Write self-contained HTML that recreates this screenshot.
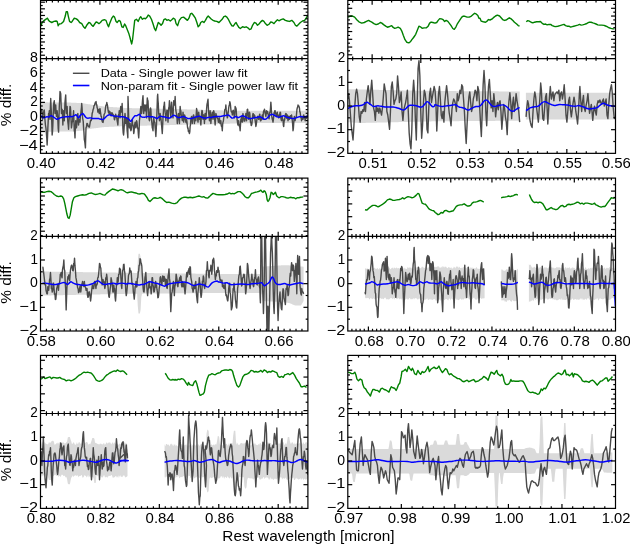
<!DOCTYPE html>
<html><head><meta charset="utf-8"><style>
html,body{margin:0;padding:0;background:#fff;overflow:hidden}
svg{display:block;filter:blur(0.3px)}
text{font-family:"Liberation Sans",sans-serif;fill:#000}
</style></head><body>
<svg width="630" height="544" viewBox="0 0 630 544">
<rect width="630" height="544" fill="#fff"/>
<clipPath id="c0Lu"><rect x="40.5" y="0.4" width="267.4" height="58.25"/></clipPath>
<clipPath id="c0Ll"><rect x="40.5" y="58.65" width="267.4" height="94.69999999999999"/></clipPath>
<g clip-path="url(#c0Ll)">
<polygon points="40.5,102.3 41.2,102.31 41.9,102.31 42.6,102.32 43.3,102.33 44,102.34 44.7,102.34 45.4,102.35 46.1,102.36 46.8,102.36 47.5,102.37 48.2,102.38 48.9,102.39 49.6,102.39 50.3,102.4 51,102.41 51.7,102.41 52.4,102.42 53.1,102.43 53.8,102.44 54.5,102.44 55.2,102.45 55.9,102.46 56.6,102.46 57.3,102.47 58,102.48 58.7,102.49 59.4,102.49 60.1,102.5 60.8,102.51 61.5,102.51 62.2,102.52 62.9,102.53 63.6,102.53 64.3,102.54 65,102.55 65.7,102.56 66.4,102.56 67.1,102.57 67.8,102.58 68.5,102.58 69.2,102.59 69.9,102.6 70.6,102.62 71.3,102.65 72,102.68 72.7,102.71 73.4,102.74 74.1,102.76 74.8,102.79 75.5,102.83 76.2,102.86 76.9,102.9 77.6,102.93 78.3,102.97 79,103 79.7,103.04 80.4,103.07 81.1,103.11 81.8,103.14 82.5,103.18 83.2,103.24 83.9,103.38 84.6,103.52 85.3,103.66 86,103.8 86.7,103.94 87.4,104.06 88.1,104.16 88.8,104.26 89.5,104.37 90.2,104.47 90.9,104.57 91.6,104.68 92.3,104.78 93,104.88 93.7,104.99 94.4,105.09 95.1,105.19 95.8,105.29 96.5,105.4 97.2,105.5 97.9,105.6 98.6,105.71 99.3,105.81 100,105.91 100.7,106.01 101.4,106.12 102.1,106.22 102.8,106.32 103.5,106.43 104.2,106.51 104.9,106.56 105.6,106.61 106.3,106.66 107,106.7 107.7,106.75 108.4,106.8 109.1,106.85 109.8,106.9 110.5,106.94 111.2,106.99 111.9,107.04 112.6,107.09 113.3,107.13 114,107.18 114.7,107.23 115.4,107.28 116.1,107.33 116.8,107.37 117.5,107.42 118.2,107.47 118.9,107.52 119.6,107.56 120.3,107.61 121,107.66 121.7,107.71 122.4,107.75 123.1,107.8 123.8,107.85 124.5,107.9 125.2,107.95 125.9,107.99 126.6,108.01 127.3,108.03 128,108.04 128.7,108.06 129.4,108.07 130.1,108.08 130.8,108.1 131.5,108.11 132.2,108.13 132.9,108.14 133.6,108.16 134.3,108.17 135,108.18 135.7,108.2 136.4,108.21 137.1,108.23 137.8,108.24 138.5,108.26 139.2,108.27 139.9,108.28 140.6,108.3 141.3,108.31 142,108.33 142.7,108.34 143.4,108.36 144.1,108.37 144.8,108.38 145.5,108.4 146.2,108.41 146.9,108.43 147.6,108.44 148.3,108.46 149,108.47 149.7,108.48 150.4,108.5 151.1,108.51 151.8,108.53 152.5,108.54 153.2,108.56 153.9,108.57 154.6,108.58 155.3,108.6 156,108.61 156.7,108.63 157.4,108.64 158.1,108.66 158.8,108.67 159.5,108.68 160.2,108.7 160.9,108.71 161.6,108.73 162.3,108.74 163,108.76 163.7,108.77 164.4,108.78 165.1,108.8 165.8,108.81 166.5,108.83 167.2,108.84 167.9,108.86 168.6,108.87 169.3,108.88 170,108.9 170.7,108.91 171.4,108.93 172.1,108.94 172.8,108.96 173.5,108.97 174.2,108.98 174.9,109 175.6,109.02 176.3,109.04 177,109.06 177.7,109.08 178.4,109.1 179.1,109.13 179.8,109.15 180.5,109.17 181.2,109.19 181.9,109.21 182.6,109.23 183.3,109.26 184,109.28 184.7,109.3 185.4,109.32 186.1,109.34 186.8,109.36 187.5,109.38 188.2,109.41 188.9,109.43 189.6,109.45 190.3,109.47 191,109.49 191.7,109.51 192.4,109.54 193.1,109.56 193.8,109.58 194.5,109.6 195.2,109.62 195.9,109.64 196.6,109.66 197.3,109.69 198,109.71 198.7,109.73 199.4,109.75 200.1,109.77 200.8,109.79 201.5,109.82 202.2,109.84 202.9,109.86 203.6,109.88 204.3,109.9 205,109.92 205.7,109.94 206.4,109.97 207.1,109.99 207.8,110.01 208.5,110.03 209.2,110.05 209.9,110.07 210.6,110.1 211.3,110.12 212,110.14 212.7,110.16 213.4,110.18 214.1,110.2 214.8,110.22 215.5,110.23 216.2,110.24 216.9,110.26 217.6,110.27 218.3,110.28 219,110.3 219.7,110.31 220.4,110.32 221.1,110.34 221.8,110.35 222.5,110.36 223.2,110.38 223.9,110.39 224.6,110.4 225.3,110.42 226,110.43 226.7,110.44 227.4,110.46 228.1,110.47 228.8,110.48 229.5,110.5 230.2,110.51 230.9,110.52 231.6,110.54 232.3,110.55 233,110.57 233.7,110.58 234.4,110.59 235.1,110.61 235.8,110.62 236.5,110.63 237.2,110.65 237.9,110.66 238.6,110.67 239.3,110.69 240,110.7 240.7,110.7 241.4,110.7 242.1,110.7 242.8,110.7 243.5,110.71 244.2,110.71 244.9,110.71 245.6,110.71 246.3,110.71 247,110.71 247.7,110.71 248.4,110.71 249.1,110.71 249.8,110.71 250.5,110.72 251.2,110.72 251.9,110.72 252.6,110.72 253.3,110.72 254,110.72 254.7,110.72 255.4,110.72 256.1,110.72 256.8,110.72 257.5,110.73 258.2,110.73 258.9,110.73 259.6,110.73 260.3,110.73 261,110.73 261.7,110.73 262.4,110.73 263.1,110.73 263.8,110.74 264.5,110.74 265.2,110.74 265.9,110.74 266.6,110.74 267.3,110.74 268,110.74 268.7,110.74 269.4,110.74 270.1,110.74 270.8,110.75 271.5,110.75 272.2,110.75 272.9,110.75 273.6,110.75 274.3,110.75 275,110.75 275.7,110.75 276.4,110.75 277.1,110.75 277.8,110.76 278.5,110.76 279.2,110.76 279.9,110.76 280.6,110.76 281.3,110.76 282,110.76 282.7,110.76 283.4,110.76 284.1,110.76 284.8,110.77 285.5,110.77 286.2,110.77 286.9,110.77 287.6,110.77 288.3,110.77 289,110.77 289.7,110.77 290.4,110.77 291.1,110.78 291.8,110.78 292.5,110.78 293.2,110.78 293.9,110.78 294.6,110.78 295.3,110.78 296,110.78 296.7,110.78 297.4,110.78 298.1,110.79 298.8,110.79 299.5,110.79 300.2,110.79 300.9,110.79 301.6,110.79 302.3,110.79 303,110.79 303.7,110.79 304.4,110.79 305.1,110.8 305.8,110.8 306.5,110.8 307.2,110.8 307.9,110.8 307.9,110.8 307.9,122.9 307.9,122.9 307.2,122.9 306.5,122.91 305.8,122.91 305.1,122.91 304.4,122.92 303.7,122.92 303,122.92 302.3,122.92 301.6,122.93 300.9,122.93 300.2,122.93 299.5,122.94 298.8,122.94 298.1,122.94 297.4,122.95 296.7,122.95 296,122.95 295.3,122.96 294.6,122.96 293.9,122.96 293.2,122.96 292.5,122.97 291.8,122.97 291.1,122.97 290.4,122.98 289.7,122.98 289,122.98 288.3,122.99 287.6,122.99 286.9,122.99 286.2,123 285.5,123 284.8,123 284.1,123.01 283.4,123.01 282.7,123.01 282,123.01 281.3,123.02 280.6,123.02 279.9,123.02 279.2,123.03 278.5,123.03 277.8,123.03 277.1,123.04 276.4,123.04 275.7,123.04 275,123.05 274.3,123.05 273.6,123.05 272.9,123.05 272.2,123.06 271.5,123.06 270.8,123.06 270.1,123.07 269.4,123.07 268.7,123.07 268,123.08 267.3,123.08 266.6,123.08 265.9,123.09 265.2,123.09 264.5,123.09 263.8,123.09 263.1,123.1 262.4,123.1 261.7,123.1 261,123.11 260.3,123.11 259.6,123.11 258.9,123.12 258.2,123.12 257.5,123.12 256.8,123.13 256.1,123.13 255.4,123.13 254.7,123.14 254,123.14 253.3,123.14 252.6,123.14 251.9,123.15 251.2,123.15 250.5,123.15 249.8,123.16 249.1,123.16 248.4,123.16 247.7,123.17 247,123.17 246.3,123.17 245.6,123.18 244.9,123.18 244.2,123.18 243.5,123.18 242.8,123.19 242.1,123.19 241.4,123.19 240.7,123.2 240,123.2 239.3,123.23 238.6,123.26 237.9,123.29 237.2,123.32 236.5,123.35 235.8,123.38 235.1,123.41 234.4,123.44 233.7,123.47 233,123.5 232.3,123.53 231.6,123.56 230.9,123.59 230.2,123.61 229.5,123.64 228.8,123.67 228.1,123.7 227.4,123.73 226.7,123.76 226,123.79 225.3,123.82 224.6,123.85 223.9,123.88 223.2,123.91 222.5,123.94 221.8,123.97 221.1,124 220.4,124.03 219.7,124.06 219,124.09 218.3,124.12 217.6,124.15 216.9,124.18 216.2,124.21 215.5,124.24 214.8,124.27 214.1,124.3 213.4,124.31 212.7,124.32 212,124.34 211.3,124.35 210.6,124.36 209.9,124.37 209.2,124.39 208.5,124.4 207.8,124.41 207.1,124.42 206.4,124.44 205.7,124.45 205,124.46 204.3,124.47 203.6,124.49 202.9,124.5 202.2,124.51 201.5,124.52 200.8,124.54 200.1,124.55 199.4,124.56 198.7,124.57 198,124.59 197.3,124.6 196.6,124.61 195.9,124.62 195.2,124.64 194.5,124.65 193.8,124.66 193.1,124.68 192.4,124.69 191.7,124.7 191,124.71 190.3,124.73 189.6,124.74 188.9,124.75 188.2,124.76 187.5,124.78 186.8,124.79 186.1,124.8 185.4,124.81 184.7,124.83 184,124.84 183.3,124.85 182.6,124.86 181.9,124.88 181.2,124.89 180.5,124.9 179.8,124.91 179.1,124.93 178.4,124.94 177.7,124.95 177,124.96 176.3,124.98 175.6,124.99 174.9,125 174.2,125.02 173.5,125.03 172.8,125.05 172.1,125.07 171.4,125.08 170.7,125.1 170,125.11 169.3,125.13 168.6,125.14 167.9,125.16 167.2,125.18 166.5,125.19 165.8,125.21 165.1,125.22 164.4,125.24 163.7,125.25 163,125.27 162.3,125.29 161.6,125.3 160.9,125.32 160.2,125.33 159.5,125.35 158.8,125.36 158.1,125.38 157.4,125.4 156.7,125.41 156,125.43 155.3,125.44 154.6,125.46 153.9,125.47 153.2,125.49 152.5,125.51 151.8,125.52 151.1,125.54 150.4,125.55 149.7,125.57 149,125.58 148.3,125.6 147.6,125.62 146.9,125.63 146.2,125.65 145.5,125.66 144.8,125.68 144.1,125.69 143.4,125.71 142.7,125.73 142,125.74 141.3,125.76 140.6,125.77 139.9,125.79 139.2,125.8 138.5,125.82 137.8,125.84 137.1,125.85 136.4,125.87 135.7,125.88 135,125.9 134.3,125.91 133.6,125.93 132.9,125.95 132.2,125.96 131.5,125.98 130.8,125.99 130.1,126.01 129.4,126.02 128.7,126.04 128,126.06 127.3,126.07 126.6,126.09 125.9,126.1 125.2,126.14 124.5,126.17 123.8,126.2 123.1,126.23 122.4,126.26 121.7,126.3 121,126.33 120.3,126.36 119.6,126.39 118.9,126.42 118.2,126.45 117.5,126.49 116.8,126.52 116.1,126.55 115.4,126.58 114.7,126.61 114,126.65 113.3,126.68 112.6,126.71 111.9,126.74 111.2,126.77 110.5,126.8 109.8,126.84 109.1,126.87 108.4,126.9 107.7,126.93 107,126.96 106.3,127 105.6,127.03 104.9,127.06 104.2,127.09 103.5,127.16 102.8,127.26 102.1,127.35 101.4,127.44 100.7,127.53 100,127.62 99.3,127.71 98.6,127.8 97.9,127.89 97.2,127.98 96.5,128.07 95.8,128.16 95.1,128.25 94.4,128.34 93.7,128.43 93,128.52 92.3,128.61 91.6,128.7 90.9,128.8 90.2,128.89 89.5,128.98 88.8,129.07 88.1,129.16 87.4,129.25 86.7,129.39 86,129.6 85.3,129.81 84.6,130.02 83.9,130.23 83.2,130.44 82.5,130.56 81.8,130.63 81.1,130.71 80.4,130.79 79.7,130.87 79,130.95 78.3,131.03 77.6,131.11 76.9,131.19 76.2,131.26 75.5,131.34 74.8,131.4 74.1,131.42 73.4,131.43 72.7,131.45 72,131.46 71.3,131.47 70.6,131.49 69.9,131.5 69.2,131.51 68.5,131.52 67.8,131.52 67.1,131.53 66.4,131.54 65.7,131.54 65,131.55 64.3,131.56 63.6,131.57 62.9,131.57 62.2,131.58 61.5,131.59 60.8,131.59 60.1,131.6 59.4,131.61 58.7,131.61 58,131.62 57.3,131.63 56.6,131.64 55.9,131.64 55.2,131.65 54.5,131.66 53.8,131.66 53.1,131.67 52.4,131.68 51.7,131.69 51,131.69 50.3,131.7 49.6,131.71 48.9,131.71 48.2,131.72 47.5,131.73 46.8,131.74 46.1,131.74 45.4,131.75 44.7,131.76 44,131.76 43.3,131.77 42.6,131.78 41.9,131.79 41.2,131.79 40.5,131.8" fill="#dadada"/>
<polyline points="40.71,112.14 41.21,110.23 41.71,109.29 42.14,112.79 42.57,119.29 43.07,114.82 43.57,113.57 43.93,110.53 44.29,110 44.86,118.8 45.43,125 45.93,128.04 46.43,133.57 46.79,138.7 47.14,145 47.5,137.35 47.86,127.86 48.21,120.91 48.57,113.57 48.93,114.33 49.29,110.71 49.64,114.95 50,119.29 50.36,108.54 50.71,98.57 51.07,106.64 51.43,113.57 51.79,122.87 52.14,135 52.5,132.01 52.86,125 53.21,114.37 53.57,105 53.93,102.3 54.29,100.71 54.64,108.05 55,113.57 55.36,107.55 55.71,105 56.07,111.52 56.43,116.43 56.79,115.32 57.14,110.71 57.5,114.91 57.86,120.71 58.21,128.66 58.57,132.14 58.93,119.43 59.29,106.43 59.64,100.3 60,91.43 60.36,92.35 60.71,93.57 61.07,103.08 61.43,113.57 61.79,110.28 62.14,109.29 62.5,114.68 62.86,125 63.21,116.38 63.57,110.71 63.93,118.16 64.29,120.71 64.64,111.6 65,102.14 65.36,98.38 65.71,95 66.07,106.29 66.43,113.57 66.79,110.53 67.14,106.43 67.5,116.67 67.86,122.14 68.21,125 68.57,129.29 68.93,122.15 69.29,117.86 69.64,114.25 70,106.43 70.36,106.88 70.71,110.71 71.07,120.74 71.43,127.86 71.79,125.48 72.14,122.14 72.5,121.7 72.86,116.43 73.21,115.79 73.57,110.71 73.93,121.52 74.29,130.71 74.64,131.97 75,137.86 75.36,126.9 75.71,120.71 76.07,124.15 76.43,127.86 76.79,125.17 77.14,119.29 77.5,114.33 77.86,113.57 78.21,118.91 78.57,125 78.93,120.07 79.29,119.29 79.64,119.76 80,122.14 80.36,116.1 80.71,115 81.07,110.58 81.43,107.86 81.57,105.83 81.71,103.57 82.07,107.79 82.43,115 82.64,118.58 82.86,119.29 83.21,121.35 83.57,127.86 83.93,132.13 84.29,139.29 84.86,142.36 85.43,147.86 85.71,137.38 86,127.86 86.43,127.03 86.86,123.57 87.36,123.55 87.86,125 88.36,126.69 88.86,126.43 89.43,127.11 90,123.57 90.57,120.3 91.14,120.71 91.64,118.96 92.14,113.57 92.64,111.93 93.14,109.29 93.57,108.74 94,105.71 94.5,105.18 95,103.57 95.36,102.4 95.71,102.14 96.07,101.55 96.43,105 96.79,104.65 97.14,107.86 97.5,108.37 97.86,112.14 98.21,109.46 98.57,110 98.93,110.01 99.29,113.57 99.64,109.61 100,108.57 100.36,111.38 100.71,113.57 101.07,116.35 101.43,116.43 102,120.78 102.57,122.14 103.07,122.44 103.57,119.29 104.07,114.51 104.57,113.57 105,112.68 105.43,108.57 105.93,105.22 106.43,105 106.79,102.5 107.14,104.29 107.5,105.37 107.86,108.57 108.21,111.14 108.57,112.86 108.93,110.95 109.29,113.57 109.64,111.44 110,112.14 110.36,113.07 110.71,115 111.07,115.9 111.43,113.57 111.79,112.71 112.14,112.86 112.5,113.5 112.86,115 113.21,114.71 113.57,115.71 113.93,115.46 114.29,119.29 114.64,119.75 115,116.43 115.36,117.47 115.71,114.29 116.07,116.47 116.43,116.43 116.79,118.06 117.14,120.71 117.5,122.58 117.86,125 118.21,119.06 118.57,115 118.93,113.63 119.29,110.71 119.64,115.05 120,117.86 120.36,111.2 120.71,106.43 121.07,111.16 121.43,112.14 121.79,108.96 122.14,103.57 122.5,114.31 122.86,127.86 123.21,132.97 123.57,135 123.93,130.87 124.29,125 124.64,118.03 125,113.57 125.36,117.55 125.71,123.57 126.07,121.97 126.43,117.86 126.79,122.19 127.14,130.71 127.5,133.97 127.86,137.86 127.93,119.46 128,96.43 128.36,106.64 128.71,119.29 129.07,123.59 129.43,127.86 129.79,127.75 130.14,123.57 130.5,129.02 130.86,130.71 131.21,130.01 131.57,126.43 131.93,123.02 132.29,119.29 132.64,124.29 133,125 133.36,128.07 133.71,133.57 134.07,131.91 134.43,126.43 134.79,123.83 135.14,122.14 135.5,125.79 135.86,127.86 136.21,124.84 136.57,120.71 136.93,121.77 137.29,125 137.64,128.03 138,129.29 138.36,134.09 138.71,137.86 139.07,131.72 139.43,120.71 139.79,117.98 140.14,113.57 140.5,109.7 140.86,106.43 141.21,109.4 141.57,113.57 141.93,110.51 142.29,103.57 142.64,98.87 143,95.71 143.36,105.48 143.71,113.57 144.07,110.26 144.43,105 144.79,110.18 145.14,110.71 145.5,106.32 145.86,105 146.21,112.25 146.57,117.86 146.93,106.22 147.29,97.86 147.64,99.99 148,100.71 148.36,108.64 148.71,115 149.07,119.07 149.43,120.71 149.79,116.83 150.14,109.29 150.5,107.94 150.86,109.29 151.21,116.8 151.57,120.71 151.93,123.51 152.29,127.86 152.64,128.79 153,130.71 153.36,122.35 153.71,117.86 154.07,120.16 154.43,122.14 154.79,122.51 155.14,127.86 155.5,131.2 155.86,136.43 156.21,130.15 156.57,122.14 156.93,112.67 157.29,100.71 157.5,95.84 157.71,94.29 158,100.35 158.29,103.57 158.5,108.29 158.71,113.57 159.07,115.67 159.43,120.71 159.79,118.39 160.14,113.57 160.5,116.91 160.86,117.86 161.21,121.27 161.57,125 161.93,129.44 162.29,133.57 162.64,126.31 163,117.86 163.36,112.8 163.71,106.43 164.07,105.61 164.43,102.14 164.79,108.49 165.14,112.14 165.5,114.93 165.86,120.71 166.21,114.75 166.57,113.57 166.93,110.17 167.29,110.71 167.64,115.47 168,122.14 168.36,115.4 168.71,107.86 169.07,106.59 169.43,100.71 169.79,104.58 170.14,109.29 170.5,112.92 170.86,117.86 171.21,110.29 171.57,102.14 171.93,107.96 172.29,109.29 172.64,114.01 173,117.86 173.36,108.26 173.71,100.71 174.07,104.14 174.43,105 174.79,103.17 175.14,96.43 175.5,105.04 175.86,110.71 176.21,112.35 176.57,115 176.93,117.65 177.29,123.57 177.64,120.52 178,117.86 178.36,113.86 178.71,113.57 179.07,116.72 179.43,123.57 179.79,114.73 180.14,106.43 180.5,110.32 180.86,110.71 181.21,114.58 181.57,116.43 181.93,118.16 182.29,120.71 182.64,118.7 183,112.14 183.36,115.54 183.71,122.14 184.07,117.32 184.43,115 184.79,115.3 185.14,117.86 185.5,120.36 185.86,122.14 186.21,122.66 186.57,119.29 186.93,121.56 187.29,125 187.64,128.06 188,127.86 188.36,131.47 188.71,130.71 189.07,132.04 189.43,133.57 189.79,131.96 190.14,126.43 190.5,124.8 190.86,119.29 191.21,117.74 191.57,116.43 191.93,118.35 192.29,123.57 192.64,118.59 193,117.86 193.36,115.13 193.71,115 194.07,119.09 194.43,123.57 194.79,118.29 195.14,117.86 195.5,118.43 195.86,120.71 196.21,114.61 196.57,108.57 196.93,110.25 197.29,113.57 197.64,119.03 198,122.14 198.36,117.49 198.71,112.14 199.07,115.88 199.43,119.29 199.79,118.52 200.14,116.43 200.5,121.13 200.86,125 201.21,118.86 201.57,113.57 201.93,110.47 202.29,110.71 202.64,115.44 203,119.29 203.36,114.88 203.71,115 204.07,116.97 204.43,123.57 204.79,117.78 205.14,113.57 205.5,115.08 205.86,119.29 206.21,115.56 206.57,109.29 206.93,104.72 207.29,103.57 207.64,101.12 208,99.29 208.36,107.41 208.71,113.57 209.07,116.73 209.43,120.71 209.79,117.24 210.14,110.71 210.5,115.23 210.86,123.57 211.21,119.07 211.57,117.86 211.93,113.88 212.29,112.14 212.64,115.04 213,119.29 213.36,115.3 213.71,110.71 214.07,112.06 214.43,116.43 214.79,121.01 215.14,125 215.5,120.29 215.86,113.57 216.93,117.19 218,119.29 218.36,122.29 218.71,122.14 219.07,117.91 219.43,117.86 219.79,121.6 220.14,123.57 220.5,123.27 220.86,120.71 221.21,125.2 221.57,126.43 221.93,126.82 222.29,130.71 222.64,124.36 223,122.14 223.36,121.3 223.71,117.86 224.07,116.45 224.43,113.57 224.79,109.76 225.14,109.29 225.5,109 225.86,105 226.21,109.66 226.57,112.14 226.93,115.57 227.29,117.86 227.64,117.02 228,113.57 228.36,111.27 228.71,107.86 229.07,105.63 229.43,105 229.79,101.69 230.14,102.86 230.5,105.28 230.86,109.29 231.21,111.34 231.57,112.14 231.93,112.01 232.29,115 232.64,111.26 233,110.71 233.36,110.2 233.71,113.57 234.07,115.7 234.43,117.86 234.79,114.48 235.14,106.43 235.5,108.3 235.86,107.86 236.21,109.71 236.57,116.43 236.93,117.96 237.29,120.71 237.64,123.77 238,125 238.36,120.84 238.71,120.71 239.07,125.05 239.43,126.43 239.79,127.25 240.14,130.71 240.5,124.72 240.86,119.29 241.21,119.32 241.57,116.43 241.93,121.16 242.29,122.14 242.64,115.76 243,113.57 243.36,117.3 243.71,117.86 244.07,121.16 244.43,120.71 244.79,120.98 245.14,117.86 245.5,117.08 245.86,113.57 246.21,116.51 246.57,120.71 246.93,114.07 247.29,109.29 247.64,109.16 248,113.57 248.36,115.91 248.71,119.29 249.07,114.72 249.43,112.14 249.79,113.29 250.14,117.86 250.5,122.22 250.86,122.14 251.21,125.48 251.57,125 251.93,123.69 252.29,119.29 252.64,115.41 253,113.57 253.36,113.83 253.71,117.86 254.07,116.07 254.43,115 254.79,115.72 255.14,120.71 255.5,122.84 255.86,126.43 256.21,124.82 256.57,122.14 256.93,119.09 257.29,117.86 257.64,116.32 258,116.43 258.36,116.99 258.71,119.29 259.07,118.79 259.43,115 259.79,114.1 260.14,117.86 260.5,120.86 260.86,120.71 261.21,119.84 261.57,117.86 261.93,116.67 262.29,115 262.64,118.11 263,119.29 263.36,112.59 263.71,110.71 264.07,111.82 264.43,109.29 264.79,110.37 265.14,113.57 265.5,114.5 265.86,116.43 266.21,113.63 266.57,110.71 266.93,113.43 267.29,112.14 267.64,111.5 268,113.57 268.36,115.83 268.71,117.86 269.07,118.89 269.43,115 269.79,112.13 270.14,112.14 270.5,107.88 270.86,102.14 271.21,106.89 271.57,115 271.93,117.48 272.29,119.29 272.64,120.39 273,122.14 273.36,119.61 273.71,116.43 274.07,112.64 274.43,113.57 274.79,110.65 275.14,110.71 275.5,114.15 275.86,113.57 276.21,113.4 276.57,116.43 276.93,113.29 277.29,112.14 277.64,116.02 278,115 278.36,115.2 278.71,117.86 279.07,117.54 279.43,116.43 279.79,113.94 280.14,112.14 280.5,112.52 280.86,117.86 281.21,120 281.57,120.71 281.93,118.59 282.29,116.43 282.64,120.04 283,119.29 283.36,125.24 283.71,126.43 284.07,121.44 284.43,120.71 284.79,119.01 285.14,116.43 285.5,114.21 285.86,113.57 286.21,113.87 286.57,117.86 286.93,118.51 287.29,115 287.64,115.81 288,120.71 288.36,118.58 288.71,116.43 289.07,116.52 289.43,119.29 289.79,118.22 290.14,116.43 290.5,115.68 290.86,117.86 291.21,118.2 291.57,115 291.93,117.54 292.29,120.71 292.64,124.22 293,130.71 293.36,128.65 293.71,123.57 294.07,118.17 294.43,116.43 294.79,119.76 295.14,120.71 295.5,118.03 295.86,117.86 296.21,117.42 296.57,113.57 296.93,109.5 297.29,107.86 297.64,107.19 298,105 298.36,106.22 298.71,105.71 299.07,106.81 299.43,107.86 299.79,111.85 300.14,112.14 300.5,115.22 300.86,117.86 301.21,117.96 301.57,120.71 301.93,118.69 302.29,116.43 302.64,118.79 303,119.29 303.36,116.75 303.71,115 304.07,116.55 304.43,117.86 304.79,117.15 305.14,120.71 305.5,117.32 305.86,116.43 306.21,118.48 306.57,117.86 306.93,115.96 307.29,115.71 307.79,114.87 308.29,117.14" fill="none" stroke="#4a4a4a" stroke-width="1.4" stroke-linejoin="round"/>
<path d="M40.00,115.00C40.24,115.24 40.95,116.00 41.43,116.43C41.90,116.86 42.38,117.33 42.86,117.57C43.33,117.81 43.81,117.93 44.29,117.86C44.76,117.79 45.24,117.33 45.71,117.14C46.19,116.95 46.67,116.71 47.14,116.71C47.62,116.71 48.10,117.24 48.57,117.14C49.05,117.05 49.52,116.38 50.00,116.14C50.48,115.90 50.95,115.62 51.43,115.71C51.90,115.81 52.38,116.40 52.86,116.71C53.33,117.02 53.81,117.26 54.29,117.57C54.76,117.88 55.24,118.29 55.71,118.57C56.19,118.86 56.67,119.29 57.14,119.29C57.62,119.29 58.10,118.81 58.57,118.57C59.05,118.33 59.52,118.02 60.00,117.86C60.48,117.69 60.95,117.69 61.43,117.57C61.90,117.45 62.38,117.21 62.86,117.14C63.33,117.07 63.81,117.21 64.29,117.14C64.76,117.07 65.24,116.79 65.71,116.71C66.19,116.64 66.67,116.71 67.14,116.71C67.62,116.71 68.10,116.76 68.57,116.71C69.05,116.67 69.52,116.43 70.00,116.43C70.48,116.43 70.95,116.71 71.43,116.71C71.90,116.71 72.38,116.60 72.86,116.43C73.33,116.26 73.81,116.00 74.29,115.71C74.76,115.43 75.36,114.83 75.71,114.71C76.07,114.60 76.19,114.76 76.43,115.00C76.67,115.24 76.90,115.79 77.14,116.14C77.38,116.50 77.62,116.86 77.86,117.14C78.10,117.43 78.33,117.86 78.57,117.86C78.81,117.86 79.05,117.50 79.29,117.14C79.52,116.79 79.64,116.19 80.00,115.71C80.36,115.24 80.95,114.64 81.43,114.29C81.90,113.93 82.50,113.57 82.86,113.57C83.21,113.57 83.33,114.00 83.57,114.29C83.81,114.57 83.93,114.81 84.29,115.29C84.64,115.76 85.24,116.67 85.71,117.14C86.19,117.62 86.67,117.98 87.14,118.14C87.62,118.31 88.10,118.19 88.57,118.14C89.05,118.10 89.52,117.86 90.00,117.86C90.48,117.86 90.95,118.02 91.43,118.14C91.90,118.26 92.38,118.50 92.86,118.57C93.33,118.64 93.81,118.57 94.29,118.57C94.76,118.57 95.24,118.57 95.71,118.57C96.19,118.57 96.67,118.57 97.14,118.57C97.62,118.57 98.10,118.50 98.57,118.57C99.05,118.64 99.52,118.88 100.00,119.00C100.48,119.12 100.95,119.19 101.43,119.29C101.90,119.38 102.38,119.69 102.86,119.57C103.33,119.45 103.81,118.98 104.29,118.57C104.76,118.17 105.24,117.62 105.71,117.14C106.19,116.67 106.67,116.07 107.14,115.71C107.62,115.36 108.10,115.17 108.57,115.00C109.05,114.83 109.52,114.67 110.00,114.71C110.48,114.76 110.95,115.12 111.43,115.29C111.90,115.45 112.38,115.57 112.86,115.71C113.33,115.86 113.81,116.07 114.29,116.14C114.76,116.21 115.24,116.14 115.71,116.14C116.19,116.14 116.67,116.10 117.14,116.14C117.62,116.19 118.10,116.33 118.57,116.43C119.05,116.52 119.52,116.67 120.00,116.71C120.48,116.76 120.95,116.71 121.43,116.71C121.90,116.71 122.38,116.64 122.86,116.71C123.33,116.79 123.81,117.00 124.29,117.14C124.76,117.29 125.24,117.40 125.71,117.57C126.19,117.74 126.76,117.98 127.14,118.14C127.52,118.31 127.62,118.26 128.00,118.57C128.38,118.88 128.95,119.52 129.43,120.00C129.90,120.48 130.38,121.55 130.86,121.43C131.33,121.31 131.81,120.00 132.29,119.29C132.76,118.57 133.24,117.74 133.71,117.14C134.19,116.55 134.67,115.95 135.14,115.71C135.62,115.48 136.10,115.83 136.57,115.71C137.05,115.60 137.52,115.24 138.00,115.00C138.48,114.76 139.07,114.29 139.43,114.29C139.79,114.29 139.90,114.64 140.14,115.00C140.38,115.36 140.50,116.07 140.86,116.43C141.21,116.79 141.81,117.02 142.29,117.14C142.76,117.26 143.24,117.14 143.71,117.14C144.19,117.14 144.67,117.21 145.14,117.14C145.62,117.07 146.10,116.83 146.57,116.71C147.05,116.60 147.52,116.43 148.00,116.43C148.48,116.43 148.95,116.67 149.43,116.71C149.90,116.76 150.38,116.71 150.86,116.71C151.33,116.71 151.81,116.64 152.29,116.71C152.76,116.79 153.24,117.00 153.71,117.14C154.19,117.29 154.67,117.33 155.14,117.57C155.62,117.81 156.10,118.52 156.57,118.57C157.05,118.62 157.52,118.17 158.00,117.86C158.48,117.55 158.95,117.00 159.43,116.71C159.90,116.43 160.38,116.14 160.86,116.14C161.33,116.14 161.81,116.62 162.29,116.71C162.76,116.81 163.24,116.64 163.71,116.71C164.19,116.79 164.67,117.00 165.14,117.14C165.62,117.29 166.10,117.45 166.57,117.57C167.05,117.69 167.52,117.76 168.00,117.86C168.48,117.95 168.95,118.26 169.43,118.14C169.90,118.02 170.38,117.48 170.86,117.14C171.33,116.81 171.81,116.45 172.29,116.14C172.76,115.83 173.24,115.36 173.71,115.29C174.19,115.21 174.67,115.48 175.14,115.71C175.62,115.95 176.10,116.40 176.57,116.71C177.05,117.02 177.52,117.43 178.00,117.57C178.48,117.71 178.95,117.64 179.43,117.57C179.90,117.50 180.38,117.29 180.86,117.14C181.33,117.00 181.81,116.83 182.29,116.71C182.76,116.60 183.24,116.36 183.71,116.43C184.19,116.50 184.67,116.90 185.14,117.14C185.62,117.38 186.10,117.62 186.57,117.86C187.05,118.10 187.52,118.45 188.00,118.57C188.48,118.69 188.95,118.57 189.43,118.57C189.90,118.57 190.38,118.64 190.86,118.57C191.33,118.50 191.81,118.31 192.29,118.14C192.76,117.98 193.24,117.74 193.71,117.57C194.19,117.40 194.67,117.29 195.14,117.14C195.62,117.00 196.10,116.83 196.57,116.71C197.05,116.60 197.52,116.52 198.00,116.43C198.48,116.33 198.95,116.10 199.43,116.14C199.90,116.19 200.38,116.48 200.86,116.71C201.33,116.95 201.81,117.38 202.29,117.57C202.76,117.76 203.24,117.76 203.71,117.86C204.19,117.95 204.67,118.14 205.14,118.14C205.62,118.14 206.10,117.95 206.57,117.86C207.05,117.76 207.52,117.69 208.00,117.57C208.48,117.45 208.95,117.14 209.43,117.14C209.90,117.14 210.38,117.57 210.86,117.57C211.33,117.57 211.81,117.29 212.29,117.14C212.76,117.00 213.24,116.79 213.71,116.71C214.19,116.64 214.43,116.76 215.14,116.71C215.86,116.67 217.05,116.48 218.00,116.43C218.95,116.38 219.90,116.55 220.86,116.43C221.81,116.31 222.76,115.90 223.71,115.71C224.67,115.52 225.86,115.40 226.57,115.29C227.29,115.17 227.52,114.93 228.00,115.00C228.48,115.07 228.95,115.36 229.43,115.71C229.90,116.07 230.38,116.74 230.86,117.14C231.33,117.55 231.81,118.07 232.29,118.14C232.76,118.21 233.24,117.81 233.71,117.57C234.19,117.33 234.67,116.86 235.14,116.71C235.62,116.57 236.10,116.57 236.57,116.71C237.05,116.86 237.52,117.50 238.00,117.57C238.48,117.64 238.95,117.33 239.43,117.14C239.90,116.95 240.38,116.67 240.86,116.43C241.33,116.19 241.81,115.76 242.29,115.71C242.76,115.67 243.24,115.98 243.71,116.14C244.19,116.31 244.67,116.48 245.14,116.71C245.62,116.95 246.10,117.33 246.57,117.57C247.05,117.81 247.52,117.98 248.00,118.14C248.48,118.31 248.95,118.50 249.43,118.57C249.90,118.64 250.38,118.64 250.86,118.57C251.33,118.50 251.81,118.26 252.29,118.14C252.76,118.02 253.24,117.95 253.71,117.86C254.19,117.76 254.67,117.62 255.14,117.57C255.62,117.52 256.10,117.64 256.57,117.57C257.05,117.50 257.52,117.29 258.00,117.14C258.48,117.00 258.95,116.71 259.43,116.71C259.90,116.71 260.38,116.95 260.86,117.14C261.33,117.33 261.81,117.55 262.29,117.86C262.76,118.17 263.24,118.76 263.71,119.00C264.19,119.24 264.67,119.36 265.14,119.29C265.62,119.21 266.10,118.93 266.57,118.57C267.05,118.21 267.52,117.62 268.00,117.14C268.48,116.67 268.95,116.12 269.43,115.71C269.90,115.31 270.38,114.95 270.86,114.71C271.33,114.48 271.81,114.24 272.29,114.29C272.76,114.33 273.24,114.76 273.71,115.00C274.19,115.24 274.67,115.43 275.14,115.71C275.62,116.00 276.10,116.48 276.57,116.71C277.05,116.95 277.52,117.07 278.00,117.14C278.48,117.21 278.95,117.26 279.43,117.14C279.90,117.02 280.38,116.60 280.86,116.43C281.33,116.26 281.81,116.26 282.29,116.14C282.76,116.02 283.24,115.67 283.71,115.71C284.19,115.76 284.67,116.19 285.14,116.43C285.62,116.67 286.10,116.95 286.57,117.14C287.05,117.33 287.52,117.45 288.00,117.57C288.48,117.69 288.95,117.76 289.43,117.86C289.90,117.95 290.38,118.02 290.86,118.14C291.33,118.26 291.81,118.50 292.29,118.57C292.76,118.64 293.24,118.64 293.71,118.57C294.19,118.50 294.67,118.31 295.14,118.14C295.62,117.98 296.10,117.74 296.57,117.57C297.05,117.40 297.52,117.29 298.00,117.14C298.48,117.00 298.95,116.83 299.43,116.71C299.90,116.60 300.38,116.43 300.86,116.43C301.33,116.43 301.81,116.60 302.29,116.71C302.76,116.83 303.24,117.14 303.71,117.14C304.19,117.14 304.67,116.83 305.14,116.71C305.62,116.60 306.05,116.48 306.57,116.43C307.10,116.38 308.00,116.43 308.29,116.43" fill="none" stroke="#0000ff" stroke-width="1.45" stroke-linejoin="round"/>
</g>
<g clip-path="url(#c0Lu)">
<polyline points="40,27.86 42.14,22.5 44.29,20.36 46.43,18.86 47.5,18.21 48.57,20.36 49.64,21.43 51.78,22.5 53.93,21.43 56.07,21 57.14,21.43 58.21,25.71 59.28,24 61.43,23.57 63.57,21.43 65.28,16.07 66.14,11.78 67.43,11.78 68.28,16.07 69.57,21.43 71.07,22.5 72.14,21.43 74.28,18.21 76.43,18.86 78.14,20.36 79.64,22.5 81.78,23.57 83.5,26.78 85,28.28 86.71,25.28 88.85,22.5 90.35,23.14 91.85,25.28 93.14,26.36 94.64,24 96.14,21.86 97.42,22.5 98.92,23.57 100.42,22.5 102.14,20.36 104.28,19.71 106,20.36 107.5,24.64 108.57,26.78 109.64,23.57 111.78,18.21 113.28,16.07 114.57,17.14 116.07,21.43 117.14,22.5 118.85,20.36 120.35,21.43 121.85,26.78 123.14,27.43 124.64,24 125.71,25.71 127.42,30 128.92,33.85 129.99,37.5 131.06,41.78 131.71,43.93 132.56,39.64 133.64,30 134.71,20.36 136.42,19.28 138.14,21.43 139.64,18.21 140.71,16.71 142.42,19.28 143.92,18.21 145.42,18.86 146.71,17.57 148.21,15 149.71,16.07 151.42,19.28 152.92,23.57 154.63,28.93 155.71,30.64 157.21,25.71 158.28,22.5 159.56,23.57 161.06,25.28 162.56,23.57 163.85,19.71 165.35,18.86 166.85,20.36 168.56,19.71 170.28,21 171.78,19.71 173.28,18.21 175,19.28 176.07,23.57 177.57,25.71 179.29,20.36 181.43,17.57 183.57,17.14 185.71,18.86 187.43,20.36 188.93,18.21 190.43,13.93 191.71,13.28 193.21,15 195.36,18.21 196.86,22.5 198.14,26.78 199.64,25.28 200.71,22.5 202.43,21.43 203.93,22.5 205.43,20.36 207.14,17.14 208.21,16.07 209.71,17.57 211.43,19.28 213.14,20.36 214.64,21 216.78,21.43 218.93,22.5 220.43,21 222.14,19.28 223.85,16.71 225.35,16.07 226.85,17.14 228.57,19.71 230.28,23.14 231.78,25.71 233.28,26.14 235,23.57 236.07,22.5 237.14,24.64 238.85,27.43 240.35,28.5 242.5,26.78 244.64,27.43 246.14,26.78 247.85,27.86 249.57,29.57 251.07,28.93 252.57,25.28 254.28,22.5 255.99,23.14 257.49,25.28 258.99,24 260.71,21.86 262.42,20.36 263.92,21.43 265.42,23.57 267.14,25.28 269.28,24 270.78,21.86 272.49,22.5 273.99,23.57 275.71,21.43 277.42,19.71 278.92,20.78 281.06,19.71 283.21,18.86 285.35,20.36 287.49,21 289.63,21.43 291.78,20.36 293.92,22.5 295.42,25.28 296.71,26.14 298.21,24.64 300.35,22.5 302.49,21 304.63,20.36 306.13,18.21 307.85,15" fill="none" stroke="#008000" stroke-width="1.4" stroke-linejoin="round"/>
</g>
<clipPath id="c0Ru"><rect x="347.8" y="0.4" width="267.7" height="58.25"/></clipPath>
<clipPath id="c0Rl"><rect x="347.8" y="58.65" width="267.7" height="94.69999999999999"/></clipPath>
<g clip-path="url(#c0Rl)">
<polygon points="347.8,89.2 348.5,89.22 349.2,89.23 349.9,89.25 350.6,89.27 351.3,89.29 352,89.3 352.7,89.32 353.4,89.34 354.1,89.35 354.8,89.37 355.5,89.39 356.2,89.41 356.9,89.42 357.6,89.44 358.3,89.46 359,89.48 359.7,89.49 360.4,89.51 361.1,89.52 361.8,89.54 362.5,89.55 363.2,89.56 363.9,89.58 364.6,89.59 365.3,89.61 366,89.62 366.7,89.63 367.4,89.65 368.1,89.66 368.8,89.68 369.5,89.69 370.2,89.7 370.9,89.72 371.6,89.73 372.3,89.75 373,89.76 373.7,89.77 374.4,89.79 375.1,89.8 375.8,89.82 376.5,89.83 377.2,89.84 377.9,89.86 378.6,89.87 379.3,89.89 380,89.9 380.7,89.91 381.4,89.93 382.1,89.94 382.8,89.96 383.5,89.97 384.2,89.98 384.9,90 385.6,90.01 386.3,90.03 387,90.04 387.7,90.05 388.4,90.07 389.1,90.08 389.8,90.1 390.5,90.11 391.2,90.12 391.9,90.14 392.6,90.15 393.3,90.17 394,90.18 394.7,90.19 395.4,90.21 396.1,90.22 396.8,90.24 397.5,90.25 398.2,90.26 398.9,90.28 399.6,90.29 400.3,90.31 401,90.32 401.7,90.33 402.4,90.35 403.1,90.36 403.8,90.38 404.5,90.39 405.2,90.4 405.9,90.42 406.6,90.43 407.3,90.45 408,90.46 408.7,90.47 409.4,90.49 410.1,90.5 410.8,90.52 411.5,90.53 412.2,90.54 412.9,90.56 413.6,90.57 414.3,90.59 415,90.6 415.7,90.61 416.4,90.63 417.1,90.64 417.8,90.66 418.5,90.67 419.2,90.68 419.9,90.7 420.6,90.71 421.3,90.73 422,90.74 422.7,90.75 423.4,90.77 424.1,90.78 424.8,90.8 425.5,90.81 426.2,90.82 426.9,90.84 427.6,90.85 428.3,90.87 429,90.88 429.7,90.89 430.4,90.91 431.1,90.92 431.8,90.94 432.5,90.95 433.2,90.96 433.9,90.98 434.6,90.99 435.3,91 436,91.01 436.7,91.01 437.4,91.01 438.1,91.02 438.8,91.02 439.5,91.03 440.2,91.03 440.9,91.03 441.6,91.04 442.3,91.04 443,91.05 443.7,91.05 444.4,91.06 445.1,91.06 445.8,91.06 446.5,91.07 447.2,91.07 447.9,91.08 448.6,91.08 449.3,91.08 450,91.09 450.7,91.09 451.4,91.1 452.1,91.1 452.8,91.11 453.5,91.11 454.2,91.11 454.9,91.12 455.6,91.12 456.3,91.13 457,91.13 457.7,91.13 458.4,91.14 459.1,91.14 459.8,91.15 460.5,91.15 461.2,91.15 461.9,91.16 462.6,91.16 463.3,91.17 464,91.17 464.7,91.18 465.4,91.18 466.1,91.18 466.8,91.19 467.5,91.19 468.2,91.2 468.9,91.2 469.6,91.2 470.3,91.21 471,91.21 471.7,91.22 472.4,91.22 473.1,91.22 473.8,91.23 474.5,91.23 475.2,91.24 475.9,91.24 476.6,91.25 477.3,91.25 478,91.25 478.7,91.26 479.4,91.26 480.1,91.27 480.8,91.27 481.5,91.27 482.2,91.28 482.9,91.28 483.6,91.29 484.3,91.29 485,91.3 485.7,91.3 486.4,91.3 487.1,91.31 487.8,91.31 488.5,91.32 489.2,91.32 489.9,91.32 490.6,91.33 491.3,91.33 492,91.34 492.7,91.34 493.4,91.34 494.1,91.35 494.8,91.35 495.5,91.36 496.2,91.36 496.9,91.37 497.6,91.37 498.3,91.37 499,91.38 499.7,91.38 500.4,91.39 501.1,91.39 501.8,91.39 502.5,91.4 503.2,91.4 503.9,91.41 504.6,91.41 505.3,91.41 506,91.42 506.7,91.42 507.4,91.43 508.1,91.43 508.8,91.44 509.5,91.44 510.2,91.44 510.9,91.45 511.6,91.45 512.3,91.46 513,91.46 513.7,91.46 514.4,91.47 515.1,91.47 515.8,91.48 516.5,91.48 517.2,91.49 517.9,91.49 518.6,91.49 519.3,91.5 519.7,91.5 519.7,120.7 519.3,120.7 518.6,120.71 517.9,120.71 517.2,120.72 516.5,120.72 515.8,120.73 515.1,120.73 514.4,120.74 513.7,120.74 513,120.75 512.3,120.75 511.6,120.76 510.9,120.76 510.2,120.77 509.5,120.77 508.8,120.78 508.1,120.78 507.4,120.79 506.7,120.79 506,120.8 505.3,120.8 504.6,120.81 503.9,120.81 503.2,120.82 502.5,120.82 501.8,120.83 501.1,120.83 500.4,120.84 499.7,120.84 499,120.85 498.3,120.85 497.6,120.86 496.9,120.86 496.2,120.87 495.5,120.87 494.8,120.88 494.1,120.88 493.4,120.89 492.7,120.89 492,120.9 491.3,120.9 490.6,120.91 489.9,120.91 489.2,120.92 488.5,120.92 487.8,120.93 487.1,120.93 486.4,120.94 485.7,120.94 485,120.95 484.3,120.95 483.6,120.96 482.9,120.96 482.2,120.97 481.5,120.97 480.8,120.98 480.1,120.98 479.4,120.99 478.7,120.99 478,121 477.3,121 476.6,121.01 475.9,121.01 475.2,121.02 474.5,121.02 473.8,121.03 473.1,121.03 472.4,121.04 471.7,121.04 471,121.04 470.3,121.05 469.6,121.05 468.9,121.06 468.2,121.06 467.5,121.07 466.8,121.07 466.1,121.08 465.4,121.08 464.7,121.09 464,121.09 463.3,121.1 462.6,121.1 461.9,121.11 461.2,121.11 460.5,121.12 459.8,121.12 459.1,121.13 458.4,121.13 457.7,121.14 457,121.14 456.3,121.15 455.6,121.15 454.9,121.16 454.2,121.16 453.5,121.17 452.8,121.17 452.1,121.18 451.4,121.18 450.7,121.19 450,121.19 449.3,121.2 448.6,121.2 447.9,121.21 447.2,121.21 446.5,121.22 445.8,121.22 445.1,121.23 444.4,121.23 443.7,121.24 443,121.24 442.3,121.25 441.6,121.25 440.9,121.26 440.2,121.26 439.5,121.27 438.8,121.27 438.1,121.28 437.4,121.28 436.7,121.29 436,121.29 435.3,121.3 434.6,121.31 433.9,121.32 433.2,121.34 432.5,121.36 431.8,121.37 431.1,121.39 430.4,121.4 429.7,121.42 429,121.44 428.3,121.45 427.6,121.47 426.9,121.48 426.2,121.5 425.5,121.52 424.8,121.53 424.1,121.55 423.4,121.56 422.7,121.58 422,121.59 421.3,121.61 420.6,121.63 419.9,121.64 419.2,121.66 418.5,121.67 417.8,121.69 417.1,121.71 416.4,121.72 415.7,121.74 415,121.75 414.3,121.77 413.6,121.79 412.9,121.8 412.2,121.82 411.5,121.83 410.8,121.85 410.1,121.86 409.4,121.88 408.7,121.9 408,121.91 407.3,121.93 406.6,121.94 405.9,121.96 405.2,121.98 404.5,121.99 403.8,122.01 403.1,122.02 402.4,122.04 401.7,122.05 401,122.07 400.3,122.09 399.6,122.1 398.9,122.12 398.2,122.13 397.5,122.15 396.8,122.17 396.1,122.18 395.4,122.2 394.7,122.21 394,122.23 393.3,122.25 392.6,122.26 391.9,122.28 391.2,122.29 390.5,122.31 389.8,122.32 389.1,122.34 388.4,122.36 387.7,122.37 387,122.39 386.3,122.4 385.6,122.42 384.9,122.44 384.2,122.45 383.5,122.47 382.8,122.48 382.1,122.5 381.4,122.51 380.7,122.53 380,122.55 379.3,122.56 378.6,122.58 377.9,122.59 377.2,122.61 376.5,122.63 375.8,122.64 375.1,122.66 374.4,122.67 373.7,122.69 373,122.71 372.3,122.72 371.6,122.74 370.9,122.75 370.2,122.77 369.5,122.78 368.8,122.8 368.1,122.82 367.4,122.83 366.7,122.85 366,122.86 365.3,122.88 364.6,122.9 363.9,122.91 363.2,122.93 362.5,122.94 361.8,122.96 361.1,122.98 360.4,122.99 359.7,122.98 359,122.93 358.3,122.89 357.6,122.84 356.9,122.8 356.2,122.75 355.5,122.7 354.8,122.66 354.1,122.61 353.4,122.57 352.7,122.52 352,122.48 351.3,122.43 350.6,122.38 349.9,122.34 349.2,122.29 348.5,122.25 347.8,122.2" fill="#dadada"/>
<polygon points="525.9,92.8 526.6,92.8 527.3,92.8 528,92.8 528.7,92.8 529.4,92.8 530.1,92.8 530.8,92.8 531.5,92.8 532.2,92.8 532.9,92.8 533.6,92.8 534.3,92.8 535,92.8 535.7,92.8 536.4,92.8 537.1,92.8 537.8,92.8 538.5,92.8 539.2,92.8 539.9,92.8 540.6,92.8 541.3,92.8 542,92.8 542.7,92.8 543.4,92.8 544.1,92.8 544.8,92.8 545.5,92.8 546.2,92.8 546.9,92.8 547.6,92.8 548.3,92.8 549,92.8 549.7,92.8 550.4,92.8 551.1,92.8 551.8,92.8 552.5,92.8 553.2,92.8 553.9,92.8 554.6,92.8 555.3,92.8 556,92.8 556.7,92.8 557.4,92.8 558.1,92.8 558.8,92.8 559.5,92.8 560.2,92.8 560.9,92.8 561.6,92.8 562.3,92.8 563,92.8 563.7,92.8 564.4,92.8 565.1,92.8 565.8,92.8 566.5,92.8 567.2,92.8 567.9,92.8 568.6,92.8 569.3,92.8 570,92.8 570.7,92.8 571.4,92.8 572.1,92.8 572.8,92.8 573.5,92.8 574.2,92.8 574.9,92.8 575.6,92.8 576.3,92.8 577,92.8 577.7,92.8 578.4,92.8 579.1,92.8 579.8,92.8 580.5,92.8 581.2,92.8 581.9,92.8 582.6,92.8 583.3,92.8 584,92.8 584.7,92.8 585.4,92.8 586.1,92.8 586.8,92.8 587.5,92.8 588.2,92.8 588.9,92.8 589.6,92.8 590.3,92.8 591,92.8 591.7,92.8 592.4,92.8 593.1,92.8 593.8,92.8 594.5,92.8 595.2,92.8 595.9,92.8 596.6,92.8 597.3,92.8 598,92.8 598.7,92.8 599.4,92.8 600.1,92.8 600.8,92.8 601.5,92.8 602.2,92.8 602.9,92.8 603.6,92.8 604.3,92.8 605,92.8 605.7,92.8 606.4,92.8 607.1,92.8 607.8,92.8 608.5,92.8 609.2,92.8 609.9,92.8 610.6,92.8 611.3,92.8 612,92.8 612.7,92.8 613.4,92.8 614.1,92.8 614.8,92.8 615.4,92.8 615.4,119.5 614.8,119.5 614.1,119.5 613.4,119.5 612.7,119.5 612,119.5 611.3,119.5 610.6,119.5 609.9,119.5 609.2,119.5 608.5,119.5 607.8,119.5 607.1,119.5 606.4,119.5 605.7,119.5 605,119.5 604.3,119.5 603.6,119.5 602.9,119.5 602.2,119.5 601.5,119.5 600.8,119.5 600.1,119.5 599.4,119.5 598.7,119.5 598,119.5 597.3,119.5 596.6,119.5 595.9,119.5 595.2,119.5 594.5,119.5 593.8,119.5 593.1,119.5 592.4,119.5 591.7,119.5 591,119.5 590.3,119.5 589.6,119.5 588.9,119.5 588.2,119.5 587.5,119.5 586.8,119.5 586.1,119.5 585.4,119.5 584.7,119.5 584,119.5 583.3,119.5 582.6,119.5 581.9,119.5 581.2,119.5 580.5,119.5 579.8,119.5 579.1,119.5 578.4,119.5 577.7,119.5 577,119.5 576.3,119.5 575.6,119.5 574.9,119.5 574.2,119.5 573.5,119.5 572.8,119.5 572.1,119.5 571.4,119.5 570.7,119.5 570,119.5 569.3,119.5 568.6,119.5 567.9,119.5 567.2,119.5 566.5,119.5 565.8,119.5 565.1,119.5 564.4,119.5 563.7,119.5 563,119.5 562.3,119.5 561.6,119.5 560.9,119.5 560.2,119.5 559.5,119.5 558.8,119.5 558.1,119.5 557.4,119.5 556.7,119.5 556,119.5 555.3,119.5 554.6,119.5 553.9,119.5 553.2,119.5 552.5,119.5 551.8,119.5 551.1,119.5 550.4,119.5 549.7,119.5 549,119.5 548.3,119.5 547.6,119.5 546.9,119.5 546.2,119.5 545.5,119.5 544.8,119.5 544.1,119.5 543.4,119.5 542.7,119.5 542,119.5 541.3,119.5 540.6,119.5 539.9,119.5 539.2,119.5 538.5,119.5 537.8,119.5 537.1,119.5 536.4,119.5 535.7,119.5 535,119.5 534.3,119.5 533.6,119.5 532.9,119.5 532.2,119.5 531.5,119.5 530.8,119.5 530.1,119.5 529.4,119.5 528.7,119.5 528,119.5 527.3,119.5 526.6,119.5 525.9,119.5" fill="#dadada"/>
<polyline points="347.85,99 348.57,93.65 349.46,100.78 350.35,113.26 351.24,125.74 352.13,132.87 353.02,140 353.91,125.74 354.8,106.13 355.7,93.65 356.59,89.19 357.48,93.65 358.37,104.35 359.26,116.82 360.15,122.17 361.04,111.48 361.93,113.26 362.83,109.69 363.72,111.48 364.61,102.56 365.5,111.48 366.39,99 367.28,91.87 368.17,85.63 369.06,93.65 369.96,104.35 370.85,90.09 371.74,80.28 372.63,93.65 373.52,107.91 374.41,111.48 375.3,120.39 376.19,106.13 377.09,111.48 377.98,107.91 378.87,113.26 379.76,107.91 380.65,111.48 381.54,115.04 382.43,107.91 383.32,97.22 384.22,83.85 385.11,89.19 386,93.65 386.89,111.48 387.78,115.04 388.67,122.17 389.56,129.3 390.45,111.48 391.35,86.52 392.24,82.06 393.13,91.87 394.02,104.35 394.91,100.78 395.8,99 396.69,93.65 397.58,75.83 398.48,86.52 399.37,102.56 400.26,99 401.15,91.87 402.04,111.48 402.93,120.39 403.82,109.69 404.71,106.13 405.61,102.56 406.5,97.22 407.39,90.09 408.28,111.48 409.17,132.87 410.06,143.56 410.95,148.91 411.84,129.3 412.74,93.65 413.63,80.28 414.52,93.65 415.41,120.39 416.3,140 417.19,102.56 418.08,68.7 418.98,60.67 419.87,75.83 420.76,111.48 421.65,138.21 422.54,125.74 423.43,102.56 424.32,90.09 425.21,93.65 426.11,102.56 427,129.3 427.89,132.87 428.78,107.91 429.67,93.65 430.56,88.3 431.45,102.56 432.34,97.22 433.24,91.87 434.13,86.52 435,90.09 435.89,102.56 436.78,131.08 437.67,111.48 438.57,93.65 439.46,86.52 440.35,99 441.24,115.04 442.13,118.61 443.02,111.48 443.91,122.17 444.8,102.56 445.7,93.65 446.59,85.63 447.48,93.65 448.37,104.35 449.26,113.26 450.15,118.61 451.04,125.74 451.93,109.69 452.83,102.56 453.72,99 454.61,100.78 455.5,104.35 456.39,111.48 457.28,93.65 458.17,100.78 459.06,97.22 459.96,90.09 460.85,93.65 461.74,84.74 462.63,86.52 463.52,99 464.41,111.48 465.3,129.3 466.19,143.56 467.09,123.95 467.98,107.91 468.87,97.22 469.76,91.87 470.65,102.56 471.54,111.48 472.43,107.91 473.32,99 474.22,95.43 475.11,90.09 476,91.87 476.89,100.78 477.78,86.52 478.67,90.09 479.56,104.35 480.45,122.17 481.35,136.43 482.24,111.48 483.13,84.74 484.02,70.48 484.91,84.74 485.8,111.48 486.69,125.74 487.58,104.35 488.48,86.52 489.37,79.39 490.26,93.65 491.15,107.91 492.04,100.78 492.93,111.48 493.82,93.65 494.71,102.56 495.61,116.82 496.5,107.91 497.39,102.56 498.28,109.69 499.17,102.56 500.06,100.78 500.95,111.48 501.84,129.3 502.74,116.82 503.63,104.35 504.52,107.91 505.41,116.82 506.3,122.17 507.19,134.65 508.08,111.48 508.98,100.78 509.87,92.76 510.76,102.56 511.65,118.61 512.54,104.35 513.43,97.22 514.32,111.48 515.21,104.35 516.11,93.65 517,100.78 517.89,106.13 518.78,111.48 519.67,122.17" fill="none" stroke="#4a4a4a" stroke-width="1.4" stroke-linejoin="round"/>
<polyline points="526.07,116.82 526.78,107.91 527.67,100.78 528.57,104.35 529.46,116.82 530.35,122.17 531.24,125.74 532.13,127.52 533.02,111.48 533.91,99 534.8,91.87 535.7,97.22 536.59,107.91 537.48,115.04 538.37,122.17 539.26,107.91 540.15,93.65 540.69,82.96 541.4,90.09 541.93,102.56 542.83,118.61 543.72,120.39 544.61,107.91 545.5,97.22 546.39,93.65 547.28,111.48 547.82,123.95 548.53,111.48 549.42,97.22 550.31,86.52 551.38,99 552.09,95.43 552.99,91.87 553.88,100.78 554.59,95.43 555.3,93.65 556.19,92.76 557.09,91.87 557.98,93.65 558.87,90.09 559.76,100.78 560.65,93.65 561.54,91.87 562.43,99 563.32,93.65 564.22,84.74 565.11,99 566,115.04 566.89,122.17 567.78,111.48 568.67,100.78 569.56,97.22 570.45,109.69 571.35,116.82 572.24,109.69 573.13,102.56 574.02,97.22 574.91,102.56 575.8,111.48 576.69,116.82 577.58,123.95 578.48,111.48 579.37,93.65 579.9,86.52 580.61,99 581.68,111.48 582.4,102.56 583.47,95.43 584.18,107.91 585.25,111.48 585.96,106.13 587.03,100.78 587.92,93.65 588.81,104.35 589.53,113.26 590.24,109.69 591.31,104.35 592.02,111.48 592.74,120.39 593.63,111.48 594.52,106.13 595.41,111.48 596.3,115.04 597.19,104.35 598.08,100.78 598.98,102.56 599.87,99.89 600.76,102.56 601.65,104.35 602.54,100.78 603.43,99 604.32,106.13 605.21,102.56 606.11,99 607,115.04 607.89,118.61 608.78,104.35 609.67,93.65 610.56,88.3 611.45,84.74 612.34,93.65 613.24,107.91 614.13,116.82 615.02,118.61 616.27,115.04" fill="none" stroke="#4a4a4a" stroke-width="1.4" stroke-linejoin="round"/>
<path d="M347.85,108.80C348.12,108.59 348.74,107.94 349.46,107.55C350.17,107.17 351.09,106.78 352.13,106.48C353.17,106.19 354.51,105.89 355.70,105.77C356.88,105.65 358.22,105.86 359.26,105.77C360.30,105.68 361.19,105.47 361.93,105.24C362.68,105.00 363.12,104.73 363.72,104.35C364.31,103.96 364.90,103.28 365.50,102.92C366.09,102.56 366.69,102.12 367.28,102.21C367.88,102.30 368.47,103.04 369.06,103.45C369.66,103.87 370.25,104.26 370.85,104.70C371.44,105.15 372.04,105.83 372.63,106.13C373.22,106.43 373.82,106.48 374.41,106.48C375.01,106.48 375.60,106.25 376.19,106.13C376.79,106.01 377.38,105.77 377.98,105.77C378.57,105.77 379.02,106.01 379.76,106.13C380.50,106.25 381.39,106.34 382.43,106.48C383.47,106.63 384.81,106.93 386.00,107.02C387.19,107.11 388.37,107.02 389.56,107.02C390.75,107.02 392.09,106.93 393.13,107.02C394.17,107.11 394.91,107.35 395.80,107.55C396.69,107.76 397.58,107.97 398.48,108.27C399.37,108.56 400.41,109.04 401.15,109.34C401.89,109.63 402.34,109.99 402.93,110.05C403.53,110.11 404.12,110.05 404.71,109.69C405.31,109.34 405.90,108.51 406.50,107.91C407.09,107.32 407.69,106.57 408.28,106.13C408.87,105.68 409.32,105.39 410.06,105.24C410.81,105.09 411.70,105.15 412.74,105.24C413.78,105.33 415.11,105.47 416.30,105.77C417.49,106.07 418.98,106.81 419.87,107.02C420.76,107.23 421.05,107.23 421.65,107.02C422.24,106.81 422.84,106.37 423.43,105.77C424.03,105.18 424.62,104.14 425.21,103.45C425.81,102.77 426.40,101.82 427.00,101.67C427.59,101.52 428.18,102.06 428.78,102.56C429.37,103.07 429.97,104.05 430.56,104.70C431.16,105.36 431.75,106.19 432.34,106.48C432.94,106.78 433.68,106.78 434.13,106.48C434.57,106.19 434.56,104.91 435.00,104.70C435.44,104.49 436.04,105.00 436.78,105.24C437.53,105.47 438.57,105.92 439.46,106.13C440.35,106.34 441.24,106.48 442.13,106.48C443.02,106.48 443.91,106.25 444.80,106.13C445.70,106.01 446.59,105.89 447.48,105.77C448.37,105.65 449.26,105.53 450.15,105.42C451.04,105.30 451.93,105.18 452.83,105.06C453.72,104.94 454.76,104.58 455.50,104.70C456.24,104.82 456.69,105.39 457.28,105.77C457.88,106.16 458.32,106.72 459.06,107.02C459.81,107.32 460.85,107.35 461.74,107.55C462.63,107.76 463.52,107.91 464.41,108.27C465.30,108.62 466.34,109.40 467.09,109.69C467.83,109.99 468.27,110.20 468.87,110.05C469.46,109.90 469.91,109.22 470.65,108.80C471.39,108.39 472.43,107.94 473.32,107.55C474.22,107.17 475.11,106.66 476.00,106.48C476.89,106.31 477.78,106.78 478.67,106.48C479.56,106.19 480.60,105.42 481.35,104.70C482.09,103.99 482.53,102.92 483.13,102.21C483.72,101.49 484.32,100.78 484.91,100.42C485.51,100.07 486.10,99.86 486.69,100.07C487.29,100.28 487.88,101.02 488.48,101.67C489.07,102.33 489.66,103.31 490.26,103.99C490.85,104.67 491.30,105.36 492.04,105.77C492.78,106.19 493.82,106.48 494.71,106.48C495.61,106.48 496.50,105.98 497.39,105.77C498.28,105.56 499.17,105.39 500.06,105.24C500.95,105.09 501.84,104.79 502.74,104.88C503.63,104.97 504.52,105.27 505.41,105.77C506.30,106.28 507.34,107.20 508.08,107.91C508.83,108.62 509.27,109.52 509.87,110.05C510.46,110.58 511.05,110.94 511.65,111.12C512.24,111.30 512.84,111.30 513.43,111.12C514.03,110.94 514.62,110.44 515.21,110.05C515.81,109.66 516.40,109.16 517.00,108.80C517.59,108.45 518.33,108.12 518.78,107.91C519.22,107.70 519.52,107.61 519.67,107.55" fill="none" stroke="#0000ff" stroke-width="1.45" stroke-linejoin="round"/>
<path d="M526.07,110.58C526.34,110.44 527.11,110.08 527.67,109.69C528.24,109.31 528.86,108.62 529.46,108.27C530.05,107.91 530.64,107.76 531.24,107.55C531.83,107.35 532.43,107.14 533.02,107.02C533.62,106.90 534.21,106.93 534.80,106.84C535.40,106.75 535.99,106.60 536.59,106.48C537.18,106.37 537.77,106.43 538.37,106.13C538.96,105.83 539.56,105.24 540.15,104.70C540.75,104.17 541.34,103.40 541.93,102.92C542.53,102.44 543.12,102.06 543.72,101.85C544.31,101.64 544.90,101.55 545.50,101.67C546.09,101.79 546.69,102.24 547.28,102.56C547.88,102.89 548.32,103.28 549.06,103.63C549.81,103.99 550.85,104.41 551.74,104.70C552.63,105.00 553.52,105.36 554.41,105.42C555.30,105.47 556.19,105.21 557.09,105.06C557.98,104.91 558.87,104.58 559.76,104.52C560.65,104.46 561.54,104.67 562.43,104.70C563.32,104.73 564.22,104.64 565.11,104.70C566.00,104.76 566.89,104.88 567.78,105.06C568.67,105.24 569.56,105.59 570.45,105.77C571.35,105.95 572.24,106.07 573.13,106.13C574.02,106.19 574.91,106.22 575.80,106.13C576.69,106.04 577.58,105.59 578.48,105.59C579.37,105.59 580.26,105.89 581.15,106.13C582.04,106.37 582.93,106.66 583.82,107.02C584.71,107.38 585.61,107.94 586.50,108.27C587.39,108.59 588.28,108.92 589.17,108.98C590.06,109.04 590.95,108.74 591.84,108.62C592.74,108.51 593.63,108.45 594.52,108.27C595.41,108.09 596.45,107.91 597.19,107.55C597.94,107.20 598.38,106.60 598.98,106.13C599.57,105.65 600.16,105.15 600.76,104.70C601.35,104.26 601.95,103.66 602.54,103.45C603.13,103.25 603.73,103.31 604.32,103.45C604.92,103.60 605.51,104.05 606.11,104.35C606.70,104.64 607.14,105.00 607.89,105.24C608.63,105.47 609.67,105.62 610.56,105.77C611.45,105.92 612.28,106.07 613.24,106.13C614.19,106.19 615.76,106.13 616.27,106.13" fill="none" stroke="#0000ff" stroke-width="1.45" stroke-linejoin="round"/>
</g>
<g clip-path="url(#c0Ru)">
<polyline points="348,17.14 349.71,16.28 352.5,16.07 354.64,17.14 356.78,19.71 358.93,21.86 361.71,23.14 364.28,22.5 366.43,21.43 368.57,20.36 370.28,21.43 371.78,22.07 373.93,23.57 376.07,24.64 378.21,24 380.35,22.5 381.85,23.14 383.57,24.64 385.71,26.14 387.43,27.21 388.93,26.78 390.43,26.14 391.71,25.71 393.21,27.43 394.71,28.28 396.42,27.86 398.14,27.21 400.28,28.28 401.78,31.07 403.28,35.35 405,39.64 406.71,42.21 408.85,42.85 410.35,41.78 411.85,39.64 413.57,37.5 415.71,34.28 417.42,30 418.92,26.14 420.42,26.78 422.14,28.28 424.28,27.86 426.42,27.86 428.14,26.14 429.64,23.14 431.14,22.07 432.85,22.5 434.99,23.14 436.71,22.5 438.21,20.36 439.71,18.64 441.42,18.86 443.14,19.71 444.64,21.43 446.14,20.36 447.85,21.43 449.56,23.57 451.06,25.71 452.78,28.5 454.28,29.36 455.99,26.78 457.49,23.57 459.63,20.36 461.78,17.14 463.28,16.07 464.99,16.28 467.13,17.14 469.28,17.14 471.42,16.07 473.13,14.57 474.63,13.28 476.13,13.93 477.85,15.43 478.92,18.21 480,18.22 481.11,21.11 483.33,21.78 485.56,22.22 487.11,21.11 488.44,19.56 490,20 492.22,18.89 493.78,17.33 495.56,16 497.33,15.11 499.56,16 501.11,17.78 502.67,19.56 504.44,20.44 506.22,20 507.78,18.89 509.33,17.78 511.11,18.89 512.89,20.44 514.44,22.22 516.67,24 518.22,25.56 519.56,26.22" fill="none" stroke="#008000" stroke-width="1.4" stroke-linejoin="round"/>
<polyline points="526.22,21.78 527.78,20.67 529.33,21.11 531.11,22.22 532.89,22.89 534.44,22.22 536.67,21.78 538.89,21.78 540.44,21.56 542.22,23.33 544,24.44 545.56,24 547.11,24.89 548.89,24.44 550.67,24.44 552.22,25.56 553.78,26.22 555.56,26.67 557.78,26.22 560,25.56 562.22,24.89 564,24.44 565.56,25.56 567.11,26.22 568.89,26.22 570.67,27.11 572.22,26.67 573.78,26.22 576,25.56 577.78,25.11 579.56,24.44 581.11,25.11 582.67,24.89 584.44,24.44 586.22,23.78 587.78,22.89 589.33,22.22 591.11,22.22 592.89,22.89 594.44,23.33 596,24 597.78,24.89 599.56,25.11 601.78,25.11 604,25.33 605.56,26 607.11,26.67 608.89,27.78 611.11,28.44 612.89,28.89 614.44,28.89" fill="none" stroke="#008000" stroke-width="1.4" stroke-linejoin="round"/>
</g>
<clipPath id="c1Lu"><rect x="40.5" y="178.1" width="267.4" height="58.20000000000002"/></clipPath>
<clipPath id="c1Ll"><rect x="40.5" y="236.3" width="267.4" height="94.69999999999999"/></clipPath>
<g clip-path="url(#c1Ll)">
<polygon points="40.5,271.5 41.2,271.51 41.9,271.52 42.6,271.53 43.3,271.54 44,271.55 44.7,271.56 45.4,271.57 46.1,271.58 46.8,271.59 47.5,271.6 48.2,271.61 48.9,271.62 49.6,271.64 50.3,271.65 51,271.66 51.7,271.67 52.4,271.68 53.1,271.69 53.8,271.7 54.5,271.71 55.2,271.72 55.9,271.73 56.6,271.74 57.3,271.75 58,271.76 58.7,271.77 59.4,271.78 60.1,271.79 60.8,271.8 61.5,271.81 62.2,271.82 62.9,271.83 63.6,271.84 64.3,271.85 65,271.86 65.7,271.87 66.4,271.88 67.1,271.9 67.8,271.91 68.5,271.92 69.2,271.93 69.9,271.94 70.6,271.95 71.3,271.96 72,271.97 72.7,271.98 73.4,271.99 74.1,272 74.8,272.01 75.5,272.02 76.2,272.03 76.9,272.04 77.6,272.05 78.3,272.06 79,272.07 79.7,272.08 80.4,272.09 81.1,272.1 81.8,272.11 82.5,272.12 83.2,272.13 83.9,272.14 84.6,272.16 85.3,272.17 86,272.18 86.7,272.19 87.4,272.2 88.1,272.21 88.8,272.22 89.5,272.23 90.2,272.24 90.9,272.25 91.6,272.26 92.3,272.27 93,272.28 93.7,272.29 94.4,272.3 95.1,272.31 95.8,272.32 96.5,272.33 97.2,272.34 97.9,272.35 98.6,272.36 99.3,272.37 100,272.38 100.7,272.39 101.4,272.4 102.1,272.42 102.8,272.43 103.5,272.44 104.2,272.45 104.9,272.46 105.6,272.47 106.3,272.48 107,272.49 107.7,272.5 108.4,272.51 109.1,272.52 109.8,272.53 110.5,272.54 111.2,272.55 111.9,272.56 112.6,272.57 113.3,272.58 114,272.59 114.7,272.6 115.4,272.61 116.1,272.62 116.8,272.63 117.5,272.64 118.2,272.65 118.9,272.66 119.6,272.68 120.3,272.69 121,272.7 121.7,272.71 122.4,272.72 123.1,272.73 123.8,272.74 124.5,272.75 125.2,272.76 125.9,272.77 126.6,272.78 127.3,272.79 128,272.8 128.7,272.81 129.4,272.82 130.1,272.83 130.8,272.83 131.5,272.84 132.2,272.85 132.9,272.86 133.6,272.87 134.3,272.88 135,272.89 135.7,272.89 136.4,272.9 137.1,272.91 137.8,260.69 138.5,253.7 139.2,253.7 139.9,253.7 140.6,257.2 141.3,269.46 142,272.97 142.7,272.98 143.4,272.99 144.1,273 144.8,273.01 145.5,273.01 146.2,273.02 146.9,273.03 147.6,273.04 148.3,273.05 149,273.06 149.7,273.07 150.4,273.07 151.1,273.08 151.8,273.09 152.5,273.1 153.2,273.11 153.9,273.12 154.6,273.13 155.3,273.13 156,273.14 156.7,273.15 157.4,273.16 158.1,273.17 158.8,273.18 159.5,273.19 160.2,273.19 160.9,273.2 161.6,273.21 162.3,273.22 163,273.23 163.7,273.24 164.4,273.24 165.1,273.25 165.8,273.26 166.5,273.27 167.2,273.28 167.9,273.29 168.6,273.3 169.3,273.3 170,273.31 170.7,273.32 171.4,273.33 172.1,273.34 172.8,273.35 173.5,273.36 174.2,273.36 174.9,273.37 175.6,273.38 176.3,273.39 177,273.4 177.7,273.41 178.4,273.42 179.1,273.42 179.8,273.43 180.5,273.44 181.2,273.45 181.9,273.46 182.6,273.47 183.3,273.48 184,273.48 184.7,273.49 185.4,273.5 186.1,273.51 186.8,273.52 187.5,273.53 188.2,273.54 188.9,273.54 189.6,273.55 190.3,273.56 191,273.57 191.7,273.58 192.4,273.59 193.1,273.6 193.8,273.6 194.5,273.61 195.2,273.62 195.9,273.63 196.6,273.64 197.3,273.65 198,273.66 198.7,273.66 199.4,273.67 200.1,273.68 200.8,273.69 201.5,273.7 202.2,273.71 202.9,273.72 203.6,273.72 204.3,273.73 205,273.74 205.7,273.75 206.4,273.76 207.1,273.77 207.8,273.78 208.5,273.78 209.2,273.79 209.9,273.8 210.6,273.81 211.3,273.82 212,273.83 212.7,273.84 213.4,273.84 214.1,273.85 214.8,273.86 215.5,273.87 216.2,273.88 216.9,273.89 217.6,273.9 218.3,273.9 219,273.9 219.7,273.9 220.4,273.9 221.1,273.9 221.8,273.9 222.5,273.9 223.2,273.9 223.9,273.9 224.6,273.9 225.3,273.9 226,273.9 226.7,273.9 227.4,273.9 228.1,273.9 228.8,273.9 229.5,273.9 230.2,273.9 230.9,273.9 231.6,273.9 232.3,273.9 233,273.9 233.7,273.9 234.4,273.9 235.1,273.9 235.8,273.9 236.5,273.9 237.2,273.9 237.9,273.9 238.6,273.9 239.3,273.9 240,273.9 240.7,273.9 241.4,273.9 242.1,273.9 242.8,273.9 243.5,273.9 244.2,273.9 244.9,273.9 245.6,273.9 246.3,273.9 247,273.9 247.7,273.9 248.4,273.9 249.1,273.9 249.8,273.9 250.5,273.9 251.2,273.9 251.9,273.9 252.6,273.9 253.3,273.9 254,273.9 254.7,273.9 255.4,273.9 256.1,273.9 256.8,273.9 257.5,273.9 258.2,273.9 258.9,273.9 259.6,273.9 260.3,273.9 261,273.9 261.7,272.46 262.4,267.42 263.1,266.66 263.8,266.61 264.5,266.56 265.2,266.51 265.9,266.46 266.6,266.41 267.3,266.36 268,266.31 268.7,266.25 269.4,266.2 270.1,266.15 270.8,266.1 271.5,266.05 272.2,266 272.9,265.95 273.6,265.9 274.3,265.85 275,265.8 275.7,265.75 276.4,265.7 277.1,265.65 277.8,265.6 278.5,265.55 279.2,265.5 279.9,265.45 280.6,265.4 281.3,265.35 282,265.3 282.7,265.3 283.4,265.3 284.1,265.3 284.8,265.3 285.5,265.3 286.2,265.3 286.9,265.3 287.6,265.3 288.3,265.3 289,265.3 289.7,265.38 290.4,265.46 291.1,265.54 291.8,265.63 292.5,265.71 293.2,265.79 293.9,265.87 294.6,265.95 295.3,266.02 296,266.08 296.7,266.14 297.4,266.2 298.1,266.26 298.8,266.32 299.5,266.37 300.2,266.43 300.9,266.49 301.6,266.55 302.3,266.6 303,266.65 303.6,266.7 303.6,301 303,302.02 302.3,303.2 301.6,304.38 300.9,305.4 300.2,305.4 299.5,305.4 298.8,305.4 298.1,305.4 297.4,305.4 296.7,305.4 296,305.4 295.3,305.4 294.6,305.24 293.9,304.96 293.2,304.68 292.5,304.4 291.8,304.12 291.1,303.84 290.4,303.56 289.7,303.28 289,303 288.3,302.9 287.6,302.8 286.9,302.7 286.2,302.6 285.5,302.5 284.8,302.4 284.1,302.3 283.4,302.2 282.7,302.1 282,302 281.3,301.96 280.6,301.93 279.9,301.89 279.2,301.86 278.5,301.82 277.8,301.78 277.1,301.75 276.4,301.71 275.7,301.68 275,301.64 274.3,301.61 273.6,301.57 272.9,301.53 272.2,301.5 271.5,301.46 270.8,301.43 270.1,301.39 269.4,301.35 268.7,301.32 268,301.28 267.3,301.25 266.6,301.21 265.9,301.17 265.2,301.14 264.5,301.1 263.8,301.07 263.1,301.03 262.4,300.19 261.7,294.52 261,292.9 260.3,292.9 259.6,292.9 258.9,292.9 258.2,292.9 257.5,292.9 256.8,292.9 256.1,292.9 255.4,292.9 254.7,292.9 254,292.9 253.3,292.9 252.6,292.9 251.9,292.9 251.2,292.9 250.5,292.9 249.8,292.9 249.1,292.9 248.4,292.9 247.7,292.9 247,292.9 246.3,292.9 245.6,292.9 244.9,292.9 244.2,292.9 243.5,292.9 242.8,292.9 242.1,292.9 241.4,292.9 240.7,292.9 240,292.9 239.3,292.9 238.6,292.9 237.9,292.9 237.2,292.9 236.5,292.9 235.8,292.9 235.1,292.9 234.4,292.9 233.7,292.9 233,292.9 232.3,292.9 231.6,292.9 230.9,292.9 230.2,292.9 229.5,292.9 228.8,292.9 228.1,292.9 227.4,292.9 226.7,292.9 226,292.9 225.3,292.9 224.6,292.9 223.9,292.9 223.2,292.9 222.5,292.9 221.8,292.9 221.1,292.9 220.4,292.9 219.7,292.9 219,292.9 218.3,292.9 217.6,292.9 216.9,292.91 216.2,292.92 215.5,292.93 214.8,292.93 214.1,292.94 213.4,292.95 212.7,292.95 212,292.96 211.3,292.97 210.6,292.97 209.9,292.98 209.2,292.99 208.5,293 207.8,293 207.1,293.01 206.4,293.02 205.7,293.02 205,293.03 204.3,293.04 203.6,293.04 202.9,293.05 202.2,293.06 201.5,293.06 200.8,293.07 200.1,293.08 199.4,293.09 198.7,293.09 198,293.1 197.3,293.11 196.6,293.11 195.9,293.12 195.2,293.13 194.5,293.13 193.8,293.14 193.1,293.15 192.4,293.16 191.7,293.16 191,293.17 190.3,293.18 189.6,293.18 188.9,293.19 188.2,293.2 187.5,293.2 186.8,293.21 186.1,293.22 185.4,293.23 184.7,293.23 184,293.24 183.3,293.25 182.6,293.25 181.9,293.26 181.2,293.27 180.5,293.27 179.8,293.28 179.1,293.29 178.4,293.3 177.7,293.3 177,293.31 176.3,293.32 175.6,293.32 174.9,293.33 174.2,293.34 173.5,293.34 172.8,293.35 172.1,293.36 171.4,293.37 170.7,293.37 170,293.38 169.3,293.39 168.6,293.39 167.9,293.4 167.2,293.41 166.5,293.42 165.8,293.42 165.1,293.43 164.4,293.44 163.7,293.44 163,293.45 162.3,293.46 161.6,293.46 160.9,293.47 160.2,293.48 159.5,293.49 158.8,293.49 158.1,293.5 157.4,293.51 156.7,293.51 156,293.52 155.3,293.53 154.6,293.53 153.9,293.54 153.2,293.55 152.5,293.56 151.8,293.56 151.1,293.57 150.4,293.58 149.7,293.58 149,293.59 148.3,293.6 147.6,293.6 146.9,293.61 146.2,293.62 145.5,293.62 144.8,293.63 144.1,293.64 143.4,293.65 142.7,293.65 142,293.66 141.3,297.25 140.6,309.81 139.9,313.4 139.2,313.4 138.5,313.4 137.8,306.24 137.1,293.71 136.4,293.72 135.7,293.72 135,293.73 134.3,293.74 133.6,293.74 132.9,293.75 132.2,293.76 131.5,293.76 130.8,293.77 130.1,293.78 129.4,293.79 128.7,293.79 128,293.8 127.3,293.81 126.6,293.83 125.9,293.84 125.2,293.86 124.5,293.87 123.8,293.89 123.1,293.9 122.4,293.92 121.7,293.93 121,293.94 120.3,293.96 119.6,293.97 118.9,293.99 118.2,294 117.5,294.02 116.8,294.03 116.1,294.04 115.4,294.06 114.7,294.07 114,294.09 113.3,294.1 112.6,294.12 111.9,294.13 111.2,294.15 110.5,294.16 109.8,294.17 109.1,294.19 108.4,294.2 107.7,294.22 107,294.23 106.3,294.25 105.6,294.26 104.9,294.28 104.2,294.29 103.5,294.3 102.8,294.32 102.1,294.33 101.4,294.35 100.7,294.36 100,294.38 99.3,294.39 98.6,294.4 97.9,294.42 97.2,294.43 96.5,294.45 95.8,294.46 95.1,294.48 94.4,294.49 93.7,294.51 93,294.52 92.3,294.53 91.6,294.55 90.9,294.56 90.2,294.58 89.5,294.59 88.8,294.61 88.1,294.62 87.4,294.64 86.7,294.65 86,294.66 85.3,294.68 84.6,294.69 83.9,294.71 83.2,294.72 82.5,294.74 81.8,294.75 81.1,294.76 80.4,294.78 79.7,294.79 79,294.81 78.3,294.82 77.6,294.84 76.9,294.85 76.2,294.87 75.5,294.88 74.8,294.89 74.1,294.91 73.4,294.92 72.7,294.94 72,294.95 71.3,294.97 70.6,294.98 69.9,295 69.2,295.01 68.5,295.02 67.8,295.04 67.1,295.05 66.4,295.07 65.7,295.08 65,295.1 64.3,295.11 63.6,295.12 62.9,295.14 62.2,295.15 61.5,295.17 60.8,295.18 60.1,295.2 59.4,295.21 58.7,295.23 58,295.24 57.3,295.25 56.6,295.27 55.9,295.28 55.2,295.3 54.5,295.31 53.8,295.33 53.1,295.34 52.4,295.36 51.7,295.37 51,295.38 50.3,295.4 49.6,295.41 48.9,295.43 48.2,295.44 47.5,295.46 46.8,295.47 46.1,295.48 45.4,295.5 44.7,295.51 44,295.53 43.3,295.54 42.6,295.56 41.9,295.57 41.2,295.59 40.5,295.6" fill="#dadada"/>
<polyline points="42.46,267.09 42.9,267.1 43.35,270.65 43.79,273.89 44.24,277.78 44.68,281.72 45.13,284.91 45.58,284.4 46.02,290.26 46.47,292.06 46.91,293.82 47.36,293.91 47.8,286.69 48.25,288.98 48.7,290.26 49.14,285.06 49.59,279.56 50.03,278.32 50.48,272.43 50.92,280.06 51.37,288.48 51.81,288.46 52.26,292.04 52.71,290.3 53.15,283.13 53.6,283.14 54.04,288.48 54.49,294.26 54.93,293.82 55.38,299.57 55.83,299.17 56.27,294.21 56.72,288.48 57.16,286.82 57.61,284.91 58.05,284.11 58.5,290.26 58.94,284.08 59.39,283.13 59.84,280.85 60.28,274.22 60.73,275.15 61.17,272.43 61.62,276.09 62.06,277.78 62.51,269.53 62.96,267.09 63.4,265.31 63.85,259.96 64.29,269.22 64.74,270.65 65.18,282.54 65.63,288.48 65.9,300.5 66.16,309.87 66.52,298.74 66.88,288.48 67.14,284.3 67.41,281.35 67.86,276.79 68.3,277.78 68.75,275 69.19,279.56 69.64,280.63 70.09,274.22 70.53,269.82 70.98,267.09 71.42,265.31 71.87,265.3 72.31,267.85 72.76,270.65 73.2,270.95 73.65,263.52 74.1,264.16 74.54,258.17 74.99,265.93 75.43,270.65 75.88,277.38 76.32,279.56 76.77,282.45 77.22,284.91 77.66,287.88 78.11,288.48 78.55,292.63 79,292.04 79.44,290.68 79.89,286.69 80.34,285.76 80.78,292.04 81.23,288.2 81.67,284.91 82.12,283.82 82.56,281.35 83.01,284.5 83.45,284.91 83.9,286.58 84.35,281.35 84.79,286.28 85.24,286.69 85.68,287.82 86.13,290.26 86.57,289.2 87.02,288.48 87.47,295.18 87.91,297.39 88.36,296.77 88.8,292.04 89.25,291.82 89.69,293.82 90.14,296.56 90.58,300.95 91.03,297.39 91.48,292.04 91.92,288.43 92.37,284.91 92.81,288.04 93.26,288.48 93.7,288.64 94.15,283.13 94.6,281.58 95.04,281.35 95.49,285.54 95.93,288.48 96.38,284.3 96.82,284.91 97.27,283.85 97.71,277.78 98.16,277.59 98.61,274.22 99.05,269.71 99.5,263.52 99.94,264.01 100.39,267.09 100.83,268.26 101.28,276 101.73,278.45 102.17,284.91 102.62,280.34 103.06,279.56 103.51,282.6 103.95,281.35 104.4,285.52 104.84,288.48 105.29,285.96 105.74,277.78 106.18,279.44 106.63,274.22 107.07,277.71 107.52,284.91 107.96,285.7 108.41,292.04 108.86,296.51 109.3,297.39 109.75,292.35 110.19,288.48 110.64,285.78 111.08,277.78 111.53,280.03 111.98,283.13 112.42,285.41 112.87,292.04 113.31,292.03 113.76,284.91 114.2,288.65 114.65,288.48 115.09,297.1 115.54,300.95 115.99,294.57 116.43,284.91 116.88,284.95 117.32,277.78 117.77,282.58 118.21,281.35 118.66,274.33 119.11,274.22 119.55,268.16 120,268.87 120.44,269.66 120.89,277.78 121.33,285.08 121.78,288.48 122.22,279.55 122.67,270.65 123.12,269.21 123.56,264.41 124.01,264.31 124.45,270.65 124.9,273.41 125.34,281.35 125.79,291.52 126.24,295.61 126.68,293.02 127.13,288.48 127.56,283.04 128,283.13 128.45,275.63 128.89,274.22 129.34,273.5 129.78,267.98 130.23,272.03 130.67,270.65 131.12,271.13 131.57,277.78 132.01,284.29 132.46,283.13 132.9,284.56 133.35,292.04 133.79,294.73 134.24,299.17 134.68,293.92 135.13,286.69 135.58,286.52 136.02,281.35 136.47,287.04 136.91,286.69 137.36,278.4 137.8,277.78 138.25,272.24 138.7,270.65 139.14,265.08 139.59,265.3 140.03,258.8 140.48,259.06 140.92,262.66 141.37,263.52 141.81,266.01 142.26,274.22 142.71,280.7 143.15,288.48 143.6,291.7 144.04,292.04 144.49,287.13 144.93,277.78 145.38,275.41 145.83,272.43 146.27,280.2 146.72,284.91 147.16,291.47 147.61,295.61 148.05,289.88 148.5,288.48 148.94,282.7 149.39,281.35 149.84,287.7 150.28,286.69 150.73,288.31 151.17,293.82 151.62,289.06 152.06,277.78 152.51,277.78 152.96,284.91 153.4,286.98 153.85,292.04 154.29,291.65 154.74,288.48 155.18,282.75 155.63,281.35 156.07,287.1 156.52,284.91 156.97,289.49 157.41,292.04 157.86,297.75 158.3,297.39 158.75,294.29 159.19,288.48 159.64,285.97 160.09,277.78 160.53,276.63 160.98,281.35 161.42,282.03 161.87,284.91 162.31,278.41 162.76,276 163.2,277.72 163.65,281.35 164.1,276.53 164.54,277.78 164.99,278.44 165.43,284.91 165.88,282.31 166.32,279.56 166.77,287.62 167.22,288.48 167.66,283.38 168.11,276 168.55,273.6 169,268.87 169.44,278.39 169.89,281.35 170.34,297.14 170.78,311.65 171.23,303.3 171.67,293.82 172.12,291.94 172.56,288.48 173.01,285.13 173.45,281.35 173.9,285.78 174.35,295.61 174.79,287.02 175.24,284.91 175.68,282.38 176.13,274.22 176.57,276.64 177.02,279.56 177.47,285.51 177.91,286.69 178.36,281.32 178.8,283.13 179.25,280.46 179.69,277.78 180.14,280.22 180.58,276 181.03,276.56 181.48,284.91 181.92,286.89 182.37,281.35 182.81,282.82 183.26,286.69 183.7,285.03 184.15,283.13 184.6,289.49 185.04,293.82 185.49,289.2 185.93,283.13 186.38,276.34 186.82,272.43 187.27,276.82 187.71,274.22 188.16,270.81 188.61,270.65 189.05,268.46 189.5,274.22 189.94,266.78 190.39,267.09 190.83,277.12 191.28,279.56 191.73,281.93 192.17,288.48 192.62,289 193.06,292.04 193.51,289.18 193.95,284.91 194.4,286.82 194.84,288.48 195.29,283.68 195.74,281.35 196.18,290.24 196.63,295.61 197.07,299.79 197.52,302.74 197.96,292.47 198.41,288.48 198.86,284.75 199.3,277.78 199.75,282.95 200.19,284.91 200.64,293.1 201.08,297.39 201.53,294.57 201.98,288.48 202.42,281.1 202.87,281.35 203.31,276.04 203.76,277.78 204.2,286.17 204.65,288.48 205.09,284.65 205.54,284.91 205.99,281.71 206.43,270.65 206.88,270.19 207.32,261.74 207.77,269.07 208.21,270.65 208.66,275.86 209.11,277.78 209.55,270.52 210,270.65 210.44,270.74 210.89,265.3 211.33,268.94 211.78,274.22 212.22,269.87 212.67,259.96 213.12,262.51 213.56,258.17 214.01,260.88 214.45,270.65 214.9,274.17 215.34,279.56 215.79,275.98 216.24,276 216.68,270.67 217.13,270.65 217.56,272.46 218,267.09 218.45,270.34 218.89,270.65 219.34,274.8 219.78,277.78 220.23,280.78 220.67,279.56 221.12,280.96 221.57,281.35 222.01,280.22 222.46,286.69 222.9,286.24 223.35,284.91 223.79,288.12 224.24,288.48 224.68,287.43 225.13,283.13 225.58,291.88 226.02,295.61 226.47,294.79 226.91,297.39 227.36,300 227.8,300.95 228.25,296.72 228.7,288.48 229.14,285.25 229.59,283.13 230.03,292.14 230.48,293.82 230.92,300.47 231.37,309.87 231.81,308.24 232.26,306.3 232.71,296.75 233.15,288.48 233.6,289.06 234.04,283.13 234.49,290.38 234.93,292.04 235.38,299.26 235.83,302.74 236.27,306.96 236.72,308.08 237.16,298.99 237.61,288.48 238.05,285.75 238.5,279.56 238.94,275.41 239.39,274.22 239.84,266.84 240.28,266.19 240.73,272.34 241.17,279.56 241.62,285.99 242.06,284.91 242.51,277.89 242.96,277.78 243.4,276.67 243.85,274.22 244.29,274.87 244.74,281.35 245.18,283.8 245.63,293.82 246.07,291.02 246.52,284.91 246.97,275.61 247.41,263.52 247.86,265.12 248.3,270.65 248.75,276.67 249.19,281.35 249.64,285.44 250.09,288.48 250.53,284.8 250.98,281.35 251.42,279.5 251.87,274.22 252.31,279.21 252.76,279.56 253.2,285.41 253.65,286.69 254.1,282.91 254.54,277.78 254.99,277.26 255.43,269.76 255.88,278.44 256.32,279.56 256.77,284.21 257.22,284.91 257.66,279.61 258.11,277.78 258.55,276.95 259,281.35 259.44,286.42 259.89,288.48 260.16,297.89 260.42,302.74 260.69,270.97 260.96,231.43 261.32,234.95 261.67,231.43 262.12,259.11 262.56,288.48 263.01,297.62 263.45,313.43 263.81,302.04 264.17,288.48 264.43,260.23 264.7,231.43 265.06,232.71 265.42,231.43 265.77,253.03 266.13,279.56 266.57,308.04 267.02,334.82 267.47,321.61 267.91,306.3 268.36,316.66 268.8,334.82 269.25,312.82 269.69,297.39 270.14,274.67 270.58,252.83 271.03,243.35 271.48,231.43 271.92,244.57 272.37,252.83 272.81,269.84 273.26,292.04 273.7,306.4 274.15,313.43 274.51,298.67 274.86,288.48 275.22,263.75 275.58,231.43 276.02,229.21 276.47,231.43 276.82,261.19 277.18,288.48 277.63,307.53 278.07,320.56 278.52,309.25 278.96,302.74 279.5,296.42 280.03,292.04 280.39,300.72 280.75,302.74 281.28,308.39 281.81,309.87 282.17,304.15 282.53,293.82 283.06,288.74 283.6,290.26 283.95,297.99 284.31,299.17 284.84,301.39 285.38,304.52 285.74,294.11 286.09,288.48 286.63,289.31 287.16,284.91 287.61,290 288.05,295.61 288.5,294.51 288.94,288.48 289.39,285.8 289.84,277.78 290.28,273.13 290.73,276 291.17,267.31 291.62,262.63 292.06,267.83 292.51,270.65 292.96,264.92 293.4,265.3 293.85,270.65 294.29,281.35 294.74,276.97 295.18,270.65 295.54,269.88 295.9,263.52 296.34,276.07 296.79,293.82 297.23,271.89 297.68,255.5 298.12,267.09 298.57,274.22 299.02,264.46 299.46,256.39 299.73,269.68 300,284.91 300.44,289.83 300.89,293.82 301.33,295.07 301.78,288.48 302.22,291.45 302.67,292.04 303.12,292.19 303.56,293.82" fill="none" stroke="#4a4a4a" stroke-width="1.4" stroke-linejoin="round"/>
<path d="M42.46,283.13C42.90,283.13 44.24,283.07 45.13,283.13C46.02,283.19 46.91,283.34 47.80,283.48C48.70,283.63 49.59,283.84 50.48,284.02C51.37,284.20 52.26,284.47 53.15,284.55C54.04,284.64 54.93,284.64 55.83,284.55C56.72,284.47 57.61,284.26 58.50,284.02C59.39,283.78 60.28,283.40 61.17,283.13C62.06,282.86 63.10,282.42 63.85,282.42C64.59,282.42 65.04,282.77 65.63,283.13C66.22,283.48 66.82,284.55 67.41,284.55C68.01,284.55 68.60,283.60 69.19,283.13C69.79,282.65 70.38,281.76 70.98,281.70C71.57,281.64 72.02,282.39 72.76,282.77C73.50,283.16 74.54,283.72 75.43,284.02C76.32,284.32 77.22,284.41 78.11,284.55C79.00,284.70 79.89,284.79 80.78,284.91C81.67,285.03 82.56,285.21 83.45,285.27C84.35,285.33 85.24,285.33 86.13,285.27C87.02,285.21 87.91,285.12 88.80,284.91C89.69,284.70 90.58,284.38 91.48,284.02C92.37,283.66 93.41,283.16 94.15,282.77C94.89,282.39 95.34,282.06 95.93,281.70C96.53,281.35 97.12,280.63 97.71,280.63C98.31,280.63 98.90,281.29 99.50,281.70C100.09,282.12 100.54,282.65 101.28,283.13C102.02,283.60 103.06,284.38 103.95,284.55C104.84,284.73 105.74,284.32 106.63,284.20C107.52,284.08 108.41,283.96 109.30,283.84C110.19,283.72 111.23,283.60 111.98,283.48C112.72,283.37 113.01,283.04 113.76,283.13C114.50,283.22 115.54,283.96 116.43,284.02C117.32,284.08 118.21,283.63 119.11,283.48C120.00,283.34 120.89,283.13 121.78,283.13C122.67,283.13 123.56,283.34 124.45,283.48C125.34,283.63 126.54,284.02 127.13,284.02C127.72,284.02 127.41,283.57 128.00,283.48C128.59,283.40 129.78,283.43 130.67,283.48C131.57,283.54 132.46,283.66 133.35,283.84C134.24,284.02 135.13,284.38 136.02,284.55C136.91,284.73 137.80,284.91 138.70,284.91C139.59,284.91 140.48,284.67 141.37,284.55C142.26,284.44 143.15,284.44 144.04,284.20C144.93,283.96 145.83,283.54 146.72,283.13C147.61,282.71 148.50,281.85 149.39,281.70C150.28,281.55 151.17,282.00 152.06,282.24C152.96,282.47 153.85,282.92 154.74,283.13C155.63,283.34 156.52,283.25 157.41,283.48C158.30,283.72 159.19,284.20 160.09,284.55C160.98,284.91 162.02,285.33 162.76,285.62C163.50,285.92 163.95,286.40 164.54,286.34C165.14,286.28 165.73,285.62 166.32,285.27C166.92,284.91 167.36,284.49 168.11,284.20C168.85,283.90 169.89,283.66 170.78,283.48C171.67,283.31 172.56,283.25 173.45,283.13C174.35,283.01 175.24,282.89 176.13,282.77C177.02,282.65 177.91,282.50 178.80,282.42C179.69,282.33 180.58,282.30 181.48,282.24C182.37,282.18 183.41,282.03 184.15,282.06C184.89,282.09 185.19,282.24 185.93,282.42C186.67,282.59 187.71,282.77 188.61,283.13C189.50,283.48 190.39,284.14 191.28,284.55C192.17,284.97 193.06,285.56 193.95,285.62C194.84,285.68 195.74,285.18 196.63,284.91C197.52,284.64 198.41,284.08 199.30,284.02C200.19,283.96 201.08,284.35 201.98,284.55C202.87,284.76 203.91,284.91 204.65,285.27C205.39,285.62 205.84,286.40 206.43,286.69C207.03,286.99 207.62,287.29 208.21,287.05C208.81,286.81 209.40,285.92 210.00,285.27C210.59,284.61 211.04,283.72 211.78,283.13C212.52,282.53 213.56,282.06 214.45,281.70C215.34,281.35 216.54,280.99 217.13,280.99C217.72,280.99 217.41,281.49 218.00,281.70C218.59,281.91 219.78,282.00 220.67,282.24C221.57,282.47 222.31,283.04 223.35,283.13C224.39,283.22 225.72,282.53 226.91,282.77C228.10,283.01 229.29,284.26 230.48,284.55C231.67,284.85 232.85,284.61 234.04,284.55C235.23,284.49 236.42,284.29 237.61,284.20C238.80,284.11 239.98,284.02 241.17,284.02C242.36,284.02 243.55,284.11 244.74,284.20C245.93,284.29 247.11,284.61 248.30,284.55C249.49,284.49 250.68,284.02 251.87,283.84C253.06,283.66 254.24,283.60 255.43,283.48C256.62,283.37 257.96,283.25 259.00,283.13C260.04,283.01 260.93,282.47 261.67,282.77C262.41,283.07 262.95,284.41 263.45,284.91C263.96,285.42 264.26,285.86 264.70,285.80C265.15,285.74 265.59,284.94 266.13,284.55C266.66,284.17 267.32,283.96 267.91,283.48C268.51,283.01 269.10,282.65 269.69,281.70C270.29,280.75 271.03,278.58 271.48,277.78C271.92,276.98 272.01,276.74 272.37,276.89C272.72,277.04 273.17,277.78 273.61,278.67C274.06,279.56 274.51,281.35 275.04,282.24C275.58,283.13 276.08,283.63 276.82,284.02C277.57,284.41 278.61,284.55 279.50,284.55C280.39,284.55 281.28,284.20 282.17,284.02C283.06,283.84 283.95,283.40 284.84,283.48C285.74,283.57 286.63,284.32 287.52,284.55C288.41,284.79 289.30,284.97 290.19,284.91C291.08,284.85 291.83,284.44 292.87,284.20C293.91,283.96 295.24,283.72 296.43,283.48C297.62,283.25 298.96,282.77 300.00,282.77C301.04,282.77 302.08,283.37 302.67,283.48C303.26,283.60 303.41,283.48 303.56,283.48" fill="none" stroke="#0000ff" stroke-width="1.45" stroke-linejoin="round"/>
</g>
<g clip-path="url(#c1Lu)">
<polyline points="40.61,191.87 42.35,192.3 44.52,192.3 46.7,191.65 48.87,191.22 51.04,191.65 52.78,192.96 54.3,194.48 56.48,196 58.65,196.65 60.83,196 62.35,196.65 63.65,198.83 64.74,203.17 65.83,208.61 66.91,214.04 68,217.74 69.09,218.39 70.17,215.13 71.26,208.61 72.35,202.09 73.87,197.74 75.39,196.65 77.57,196 80.39,195.13 82.57,194.7 84.74,195.13 86.91,194.48 89.09,193.39 91.26,192.96 93.43,193.83 94.96,194.48 96.7,194.26 98.43,193.83 99.96,193.39 101.48,194.04 103.22,194.91 104.96,195.13 106.48,193.39 108.65,191.65 110.83,190.13 112.35,189.04 114.52,189.48 116.26,190.13 118,190.78 119.52,190.13 121.04,189.7 122.78,190.13 124.52,191.22 126.04,192.3 127.57,192.74 129.3,192.3 131.48,191.87 133.65,192.52 135.83,192.96 138,193.83 139.74,194.04 141.91,193.39 144.09,193.83 145.61,195.57 147.13,197.74 148.43,200.35 149.96,201.43 151.48,199.91 153.22,198.17 154.96,197.74 157.13,198.39 158.65,198.17 160.17,197.3 161.91,198.39 163.65,199.91 165.17,201.43 166.7,202.52 168.43,202.09 170.17,202.52 171.7,203.17 173.87,203.61 175,203.61 177.17,202.52 179.35,199.91 181.52,198.17 183.7,197.3 185.87,197.3 188.04,197.74 190.22,197.3 192.39,197.74 194.57,197.3 196.74,196.65 198.91,196 200.65,196.65 202.17,197.09 203.7,196.65 205.43,197.74 207.61,198.17 209.35,196.65 210.87,195.13 213.04,193.39 214.57,193.83 216.3,194.48 218.48,194.7 220.65,194.7 222.83,194.7 225,194.48 227.17,194.04 229.35,192.96 231.09,193.83 232.61,193.39 234.13,193.83 235.87,192.96 238.04,191.65 240.22,191.65 241.96,192.96 243.48,194.48 245,196.65 246.74,197.74 248.48,197.74 250,196 251.52,193.39 253.26,192.96 255,192.3 257.17,191.87 259.35,191.22 260.87,190.13 261.96,191.65 263.04,192.3 264.13,190.78 265.22,191.65 266.3,194.48 267.17,199.91 268.04,201.43 268.91,200.35 270,197.74 271.09,192.3 272.17,192.96 273.26,194.48 274.57,193.39 275.43,192.3 276.74,196 278.26,197.3 279.35,197.74 281.09,196.65 282.61,196.65 284.78,197.09 286.3,197.74 288.04,198.17 290.22,197.3 292.39,197.74 294.13,197.74 295.87,198.83 297.17,197.74 298.91,197.74 300.65,197.3 302.17,197.09 303.26,196.87" fill="none" stroke="#008000" stroke-width="1.4" stroke-linejoin="round"/>
</g>
<clipPath id="c1Ru"><rect x="347.8" y="178.1" width="267.7" height="58.20000000000002"/></clipPath>
<clipPath id="c1Rl"><rect x="347.8" y="236.3" width="267.7" height="94.69999999999999"/></clipPath>
<g clip-path="url(#c1Rl)">
<polygon points="365,268.14 365.7,268.49 366.4,268.84 367.1,268.8 367.8,268.26 368.5,269.27 369.2,269.21 369.9,269.65 370.6,268.12 371.3,269.3 372,268.01 372.7,269.6 373.4,268 374.1,267.48 374.8,267.98 375.5,268.72 376.2,268.68 376.9,268.84 377.6,267.65 378.3,269.58 379,268.99 379.7,267.71 380.4,268.95 381.1,268.27 381.8,267.52 382.5,268.67 383.2,268.05 383.9,269.2 384.6,267.41 385.3,267.55 386,268.72 386.7,267.64 387.4,268.64 388.1,269.08 388.8,268.36 389.5,267.4 390.2,269.18 390.9,269 391.6,268.02 392.3,267.96 393,267.33 393.7,269 394.4,267.25 395.1,268.23 395.8,268.29 396.5,267.29 397.2,268.45 397.9,268.1 398.6,267.95 399.3,268.67 400,267.82 400.7,268.26 401.4,267.77 402.1,268.93 402.8,267.15 403.5,269.02 404.2,267.41 404.9,268.67 405.6,268.49 406.3,268.98 407,268.86 407.7,266.8 408.4,268.27 409.1,266.89 409.8,267.97 410.5,267.33 411.2,268.77 411.9,267.46 412.6,267.72 413.3,268.86 414,268.67 414.7,266.54 415.4,267.07 416.1,266.79 416.8,268 417.5,266.62 418.2,268.35 418.9,268.32 419.6,267.58 420.3,267.99 421,268.4 421.7,266.63 422.4,266.44 423.1,267.49 423.8,267.44 424.5,268.01 425.2,267.75 425.9,266.15 426.6,268.33 427.3,268.45 428,266.99 428.7,267.72 429.4,266.66 430.1,266.3 430.8,265.98 431.5,267.64 432.2,265.93 432.9,268.09 433.6,266.49 434.3,267.02 435,266.46 435.7,267.27 436.4,267.04 437.1,266.54 437.8,266.54 438.5,265.9 439.2,267.97 439.9,266.42 440.6,268.29 441.3,266.49 442,267.93 442.7,266.03 443.4,266.57 444.1,267.65 444.8,266.5 445.5,266.79 446.2,266.74 446.9,268.06 447.6,268.29 448.3,267.36 449,266.98 449.7,267.67 450.4,268.34 451.1,267.06 451.8,268.44 452.5,268.47 453.2,268.29 453.9,266.55 454.6,267.23 455.3,268.44 456,266.79 456.7,266.6 457.4,266.74 458.1,266.57 458.8,268.16 459.5,266.43 460.2,268.05 460.9,267.98 461.6,267.74 462.3,268.33 463,266.99 463.7,266.94 464.4,267.4 465.1,267.69 465.8,267.54 466.5,268.47 467.2,267 467.9,266.92 468.6,267.21 469.3,268.76 470,268.72 470.7,266.98 471.4,268.21 472.1,267.1 472.8,268.87 473.5,267.83 474.2,268.2 474.9,268.48 475.6,268.61 476.3,266.8 477,268.34 477.7,268.82 478.4,268.73 479.1,269.02 479.8,268.65 480.5,268.09 481.2,268.65 481.9,267.28 482.6,268.16 483.3,268.71 484,268.41 484.6,267.68 484.6,297.95 484,298.42 483.3,298.16 482.6,298.2 481.9,299 481.2,298.48 480.5,297.82 479.8,298.58 479.1,298.91 478.4,297.79 477.7,298.49 477,299.64 476.3,299.49 475.6,299.44 474.9,299.25 474.2,297.59 473.5,297.74 472.8,298.45 472.1,299.36 471.4,299.94 470.7,298.95 470,298.78 469.3,299.44 468.6,298.57 467.9,298.02 467.2,298.37 466.5,298.9 465.8,299.36 465.1,298.05 464.4,298.67 463.7,298.95 463,300.13 462.3,298.66 461.6,299.93 460.9,298.69 460.2,298.75 459.5,299.57 458.8,300.25 458.1,299.96 457.4,299.45 456.7,300.01 456,298.52 455.3,298.61 454.6,298.61 453.9,298.95 453.2,300.27 452.5,299.35 451.8,298.84 451.1,298.46 450.4,300.61 449.7,298.45 449,298.41 448.3,300.49 447.6,300.02 446.9,299.18 446.2,298.89 445.5,299.07 444.8,300.29 444.1,299.66 443.4,298.71 442.7,299.84 442,300.64 441.3,299.57 440.6,300.99 439.9,299.03 439.2,300.02 438.5,300.27 437.8,300.91 437.1,301.11 436.4,300.22 435.7,300.68 435,298.95 434.3,299.34 433.6,299.04 432.9,299.89 432.2,299.63 431.5,299.64 430.8,298.83 430.1,300.02 429.4,299.02 428.7,299.77 428,300.14 427.3,298.33 426.6,298.7 425.9,299.75 425.2,299.24 424.5,300.16 423.8,300.23 423.1,299.54 422.4,298.83 421.7,300.26 421,300.15 420.3,299.92 419.6,298.01 418.9,299.65 418.2,298.4 417.5,299.79 416.8,298.81 416.1,298.08 415.4,298.26 414.7,298.35 414,299.65 413.3,297.74 412.6,299.49 411.9,298.68 411.2,299.41 410.5,299.13 409.8,297.83 409.1,298.38 408.4,299.56 407.7,299.66 407,298.26 406.3,298.88 405.6,299.38 404.9,299.84 404.2,297.74 403.5,299.34 402.8,299.46 402.1,297.93 401.4,299.67 400.7,298.69 400,298.51 399.3,299.39 398.6,297.77 397.9,298.86 397.2,298.53 396.5,299.27 395.8,297.84 395.1,297.53 394.4,299.86 393.7,298.19 393,298.27 392.3,299.13 391.6,298.09 390.9,297.86 390.2,298.57 389.5,299.07 388.8,299.77 388.1,299.03 387.4,299.29 386.7,299.56 386,298.67 385.3,297.55 384.6,297.7 383.9,298.65 383.2,299.28 382.5,298.6 381.8,299 381.1,298.46 380.4,298.34 379.7,297.78 379,298.79 378.3,297.62 377.6,298.41 376.9,297.98 376.2,299.22 375.5,298.66 374.8,298.97 374.1,299.56 373.4,297.92 372.7,299.2 372,298.82 371.3,298.56 370.6,297.74 369.9,299.43 369.2,299.04 368.5,297.92 367.8,297.74 367.1,298.23 366.4,298.3 365.7,297.58 365,298.69" fill="#dadada"/>
<polygon points="501.3,270.01 502,269.01 502.7,270.31 503.4,270.45 504.1,270.87 504.8,270.65 505.5,270.59 506.2,269.31 506.9,269.13 507.6,269.58 508.3,269.59 509,270.49 509.7,270.59 510.4,268.81 511.1,270.83 511.8,268.99 512.5,270.21 513.2,268.92 513.9,269.87 514.6,270.61 515.3,270.9 516,269.41 516.7,270.76 517.4,268.71 517.9,269.09 517.9,301.95 517.4,300.71 516.7,300.83 516,301.39 515.3,300.77 514.6,301.27 513.9,301.16 513.2,300.74 512.5,299.81 511.8,301.99 511.1,301.28 510.4,301.29 509.7,299.87 509,300.3 508.3,300.56 507.6,299.97 506.9,301.49 506.2,302.1 505.5,301.31 504.8,301.78 504.1,300.06 503.4,300.59 502.7,300.25 502,300.56 501.3,300.24" fill="#dadada"/>
<polygon points="528.9,263.99 529.6,265.27 530.3,264.59 531,265.57 531.7,267.33 532.4,267.41 533.1,268.12 533.8,266.67 534.5,266.76 535.2,267.6 535.9,267.9 536.6,268.93 537.3,267.49 538,267.36 538.7,268.92 539.4,267.43 540.1,267.57 540.8,266.84 541.5,268.67 542.2,268.33 542.9,268.82 543.6,268.39 544.3,267.24 545,267.56 545.7,267.52 546.4,267.25 547.1,268.51 547.8,268.01 548.5,266.91 549.2,269.17 549.9,268.48 550.6,267.71 551.3,267.32 552,267.6 552.7,267.74 553.4,267.4 554.1,268.64 554.8,267.66 555.5,268.3 556.2,267.54 556.9,267.08 557.6,267.53 558.3,266.91 559,267.95 559.7,267.01 560.4,267.67 561.1,268.52 561.8,267.5 562.5,267.24 563.2,268.12 563.9,269.19 564.6,268.22 565.3,267.2 566,267.22 566.7,268.84 567.4,267.47 568.1,267.97 568.8,267.68 569.5,267 570.2,268.68 570.9,268.3 571.6,268.23 572.3,266.93 573,268.46 573.7,267.48 574.4,267.91 575.1,269.1 575.8,268.94 576.5,268.4 577.2,268.02 577.9,268.87 578.6,268.27 579.3,267.42 580,268.81 580.7,269.03 581.4,267.2 582.1,269.08 582.8,267.45 583.5,267.6 584.2,268.81 584.9,269.05 585.6,266.83 586.3,268.79 587,268.88 587.7,269 588.4,267.71 589.1,269.16 589.8,268.37 590.5,268.06 591.2,267.48 591.9,268.84 592.6,267.44 593.3,267.79 594,267.61 594.7,267.09 595.4,268.39 596.1,268.02 596.8,268.14 597.5,267.18 598.2,268.32 598.9,267.08 599.6,268.64 600.3,267.92 601,268.75 601.7,268.81 602.4,267.85 603.1,268.69 603.8,268.36 604.5,267.26 605.2,268.77 605.9,268.74 606.6,267.64 607.3,267.78 608,268.56 608.7,267.95 609.4,267.26 610.1,266.84 610.8,269.01 611.5,267.1 612.2,268.25 612.9,267.55 613.6,266.96 614.3,269.03 615,267.9 615.4,267.07 615.4,299.73 615,299.67 614.3,299.84 613.6,298.25 612.9,298.01 612.2,298.02 611.5,298.43 610.8,299.06 610.1,300.03 609.4,299.68 608.7,299.53 608,300.22 607.3,299.73 606.6,299.09 605.9,299.29 605.2,298.04 604.5,298.58 603.8,298.98 603.1,299.37 602.4,299.31 601.7,299.02 601,299.12 600.3,298.2 599.6,298.62 598.9,300.06 598.2,300.4 597.5,298.25 596.8,298.31 596.1,299.65 595.4,298.91 594.7,300.21 594,299.62 593.3,299.82 592.6,299.03 591.9,299.99 591.2,298.27 590.5,299.4 589.8,299.32 589.1,300.08 588.4,298.09 587.7,298 587,299.42 586.3,299.84 585.6,298.42 584.9,299.84 584.2,299.5 583.5,299.99 582.8,298.16 582.1,300.16 581.4,298.54 580.7,298.13 580,299.73 579.3,299.34 578.6,299.71 577.9,299.83 577.2,299.28 576.5,299.79 575.8,299.19 575.1,299.07 574.4,299.39 573.7,299.94 573,299.3 572.3,298.19 571.6,299.52 570.9,299.96 570.2,299.42 569.5,299.9 568.8,298.36 568.1,298.51 567.4,298.3 566.7,299.37 566,300.12 565.3,299.97 564.6,299.87 563.9,299.91 563.2,299.6 562.5,300.2 561.8,298.11 561.1,300.28 560.4,299.34 559.7,298.9 559,299.47 558.3,299.67 557.6,300.2 556.9,300.22 556.2,300.3 555.5,299.19 554.8,299.97 554.1,299.13 553.4,299.3 552.7,299.19 552,299.14 551.3,298.57 550.6,299.08 549.9,298.43 549.2,298.66 548.5,299.24 547.8,299.72 547.1,299.11 546.4,298.33 545.7,299.01 545,298.11 544.3,299.72 543.6,298.65 542.9,299.22 542.2,298.91 541.5,299.82 540.8,300.23 540.1,299.34 539.4,299.6 538.7,300.37 538,299.47 537.3,298.2 536.6,298.94 535.9,299.3 535.2,300.32 534.5,298.48 533.8,300.15 533.1,301.21 532.4,299.44 531.7,301.28 531,300.16 530.3,301.75 529.6,301.14 528.9,302.59" fill="#dadada"/>
<polyline points="364.96,292.04 365.41,293.71 365.86,286.69 366.3,282.01 366.75,279.56 367.19,280.11 367.64,274.22 368.08,269.91 368.53,270.65 368.98,274.93 369.42,279.56 369.87,272.84 370.31,270.65 370.76,267.51 371.2,263.52 371.65,256.15 372.09,257.28 372.54,263.13 372.99,270.65 373.43,272.38 373.88,277.78 374.32,276.75 374.77,284.91 375.21,292.52 375.66,293.82 376.11,304.19 376.55,306.3 377,307.26 377.44,315.21 377.71,317.43 377.98,317 378.24,310.15 378.51,302.74 378.87,294.86 379.22,288.48 379.67,285.81 380.12,281.35 380.56,280.28 381.01,276 381.45,270.21 381.9,268.87 382.34,264.82 382.79,263.52 383.24,262.7 383.68,261.74 384.13,271.13 384.57,270.65 385.02,268.72 385.46,258.17 385.91,271.64 386.35,279.56 386.71,267.56 387.07,256.39 387.42,265.82 387.78,267.09 388.23,277.22 388.67,277.78 389.12,279.83 389.56,274.22 390.01,275.62 390.45,283.13 390.9,279.56 391.35,277.78 391.79,283.08 392.24,293.82 392.68,290.66 393.13,288.48 393.57,286.67 394.02,277.78 394.47,284.86 394.91,292.04 395.36,293.01 395.8,297.39 396.25,289.58 396.69,288.48 397.14,280.42 397.58,279.56 398.03,287.25 398.48,288.48 398.92,288.54 399.37,279.56 399.81,281.67 400.26,276 400.7,268.36 401.15,270.65 401.6,266.54 402.04,267.09 402.49,271.51 402.93,283.13 403.38,297.92 403.82,313.43 404.27,299.75 404.71,292.04 405.16,282.11 405.61,272.43 406.05,275.51 406.5,279.56 406.94,281.77 407.39,281.35 407.83,277.93 408.28,274.22 408.73,276.91 409.17,279.56 409.62,273.23 410.06,276 410.51,283.99 410.95,283.13 411.4,278.83 411.84,276 412.29,277.03 412.74,270.65 413.18,264.43 413.63,261.74 413.89,250.51 414.16,247.48 414.52,259.52 414.88,261.74 415.32,270.58 415.77,279.56 416.21,278.93 416.66,284.91 417.1,282.41 417.55,270.65 417.99,273.15 418.44,267.09 418.89,270.32 419.33,281.35 419.78,292.09 420.22,293.82 420.67,294.59 421.11,302.74 421.56,303.48 422.01,311.65 422.45,303.68 422.9,302.74 423.34,299.37 423.79,288.48 424.23,285.08 424.68,279.56 425.12,275.66 425.57,270.65 426.02,269.08 426.46,263.52 426.91,257.9 427.35,256.39 427.8,255.57 428.24,263.52 428.69,256.19 429.14,257.28 429.58,261.34 430.03,270.65 430.47,267.94 430.92,263.52 431.36,267.28 431.81,279.56 432.25,266.1 432.7,261.74 433.15,263.21 433.59,270.65 434.04,277.35 434.48,293.82 434.74,277.8 435,270.65 435.45,271.47 435.89,279.56 436.34,271.31 436.78,270.65 437.23,285.03 437.67,302.74 438.12,299.11 438.57,288.48 439.01,285.7 439.46,279.56 439.9,271.96 440.35,274.22 440.79,277.05 441.24,288.48 441.68,293.97 442.13,302.74 442.4,306.79 442.66,311.65 443.02,299.61 443.38,288.48 443.82,283.52 444.27,277.78 444.71,283.56 445.16,284.91 445.61,288.04 446.05,288.48 446.5,282.39 446.94,281.35 447.39,285.3 447.83,293.82 448.28,294.3 448.73,284.91 449.17,279.79 449.62,274.22 450.06,276.6 450.51,270.65 450.95,282.06 451.4,284.91 451.84,289.8 452.29,288.48 452.74,285.28 453.18,279.56 453.63,296.22 454.07,308.08 454.52,296.18 454.96,288.48 455.41,279.3 455.86,276 456.3,275.8 456.75,277.78 457.19,280.01 457.64,288.48 458.08,283.51 458.53,284.91 458.98,273.89 459.42,270.65 459.87,271.87 460.31,279.56 460.76,279.18 461.2,288.48 461.65,278.6 462.09,276 462.54,280.13 462.99,279.56 463.43,278.62 463.88,286.69 464.32,278.08 464.77,265.3 465.21,278.95 465.66,288.48 466.11,289.6 466.55,297.39 467,288.25 467.44,279.56 467.89,274.35 468.33,267.09 468.78,275.96 469.22,276 469.67,286.01 470.12,293.82 470.56,297.76 471.01,308.98 471.45,294.28 471.9,288.48 472.34,278.98 472.79,276 473.24,269.7 473.68,270.65 474.13,278.26 474.57,279.56 475.02,287.48 475.46,288.48 475.91,279.21 476.35,277.78 476.8,278.72 477.25,274.22 477.69,285.38 478.14,288.48 478.58,292.82 479.03,302.74 479.47,293.85 479.92,284.91 480.37,274.22 480.81,268.87 481.26,264.99 481.7,262.63 482.15,273.75 482.59,279.56 483.04,271.23 483.48,268.87 483.93,276.92 484.38,284.91" fill="none" stroke="#4a4a4a" stroke-width="1.4" stroke-linejoin="round"/>
<polyline points="501.31,281.35 501.76,290.65 502.2,297.39 502.65,295.72 503.09,286.69 503.54,293.98 503.98,292.04 504.43,293.41 504.88,286.69 505.32,291.06 505.77,297.39 506.21,291.41 506.66,288.48 507.1,284.54 507.55,272.43 507.99,278.72 508.44,277.78 508.89,275.51 509.33,267.09 509.78,274.42 510.22,279.56 510.67,279.66 511.11,270.65 511.38,258.51 511.65,253.72 512.09,259.05 512.54,270.65 512.99,278.61 513.43,281.35 513.88,278.19 514.32,279.56 514.77,276.42 515.21,270.65 515.66,280.38 516.11,288.48 516.55,294.1 517,297.39 517.26,301.27 517.53,309.87" fill="none" stroke="#4a4a4a" stroke-width="1.4" stroke-linejoin="round"/>
<polyline points="528.92,277.78 529.37,278.85 529.81,270.65 530.26,275.73 530.7,279.56 531.15,278.16 531.6,286.69 532.04,280.42 532.49,277.78 532.93,276.19 533.38,274.22 533.82,283.23 534.27,284.91 534.71,292.26 535.16,297.39 535.61,295.63 536.05,284.91 536.5,272.94 536.94,264.41 537.39,267.54 537.83,279.56 538.28,291.54 538.73,304.52 539.17,300.64 539.62,288.48 540.06,281.75 540.51,274.22 540.95,279.51 541.4,277.78 541.84,275.34 542.29,266.19 542.74,274.19 543.18,274.22 543.63,288.47 544.07,302.74 544.52,290.85 544.96,288.48 545.41,283.84 545.86,277.78 546.3,277.33 546.75,284.91 547.19,287.24 547.64,292.04 548.08,283.14 548.53,279.56 548.98,273.71 549.42,270.65 549.87,265.52 550.31,260.85 550.76,272.95 551.2,281.35 551.65,293.93 552.09,297.39 552.54,296.42 552.99,288.48 553.43,287.23 553.88,279.56 554.32,278.81 554.77,284.91 555.21,289.26 555.66,292.04 556.11,286.41 556.55,283.13 557,281.62 557.44,281.35 557.89,275.43 558.33,277.78 558.78,273.78 559.22,270.65 559.67,279.71 560.12,279.56 560.56,287.79 561.01,288.48 561.45,285.52 561.9,276 562.34,265.72 562.79,263.52 563.24,270.51 563.68,270.65 564.13,275.04 564.57,281.35 565.02,277.99 565.46,277.78 565.91,282.21 566.35,286.69 566.8,289.37 567.25,295.61 567.69,294.95 568.14,299.17 568.58,307.65 569.03,308.08 569.47,300.93 569.92,292.04 570.37,283.61 570.81,276 571.26,280.76 571.7,284.91 572.15,277.95 572.59,279.56 573.04,279.95 573.48,288.48 573.93,274.9 574.38,270.65 574.82,272.77 575.27,277.78 575.71,283.34 576.16,281.35 576.6,271.38 577.05,270.65 577.5,262.34 577.94,258.17 578.39,268.18 578.83,270.65 579.28,276.55 579.72,288.48 580.17,281.42 580.61,274.22 581.06,272.87 581.51,263.52 581.95,261.25 582.4,253.72 582.84,265.56 583.29,279.56 583.73,282.04 584.18,288.48 584.63,282.65 585.07,281.35 585.52,274.29 585.96,270.65 586.41,278.18 586.85,276 587.3,283.04 587.75,288.48 588.19,286.08 588.64,284.91 589.08,287.48 589.53,281.35 589.97,287.4 590.42,295.61 590.86,297.4 591.31,304.52 591.76,309.13 592.2,313.43 592.65,297.09 593.09,288.48 593.54,273.27 593.98,249.26 594.43,250.52 594.88,261.74 595.32,269.4 595.77,279.56 596.21,270.42 596.66,270.65 597.1,263.79 597.55,262.63 597.99,263.23 598.44,256.39 598.89,264.51 599.33,279.56 599.78,286.77 600.22,288.48 600.67,282.94 601.11,274.22 601.56,265.71 602.01,266.19 602.45,278.38 602.9,281.35 603.34,280.41 603.79,288.48 604.23,288.21 604.68,281.35 605.12,283.21 605.57,276 606.02,288.4 606.46,302.74 606.91,305.99 607.35,311.65 607.8,298.86 608.24,288.48 608.69,287.71 609.14,283.13 609.58,280.85 610.03,276 610.47,269.93 610.92,270.65 611.36,253.18 611.81,243.02 612.25,244.48 612.7,252.83 613.15,257.55 613.59,270.65 614.04,275.52 614.48,288.48 614.93,283.95 615.37,279.56" fill="none" stroke="#4a4a4a" stroke-width="1.4" stroke-linejoin="round"/>
<path d="M364.96,284.02C365.35,283.93 366.45,283.69 367.28,283.48C368.11,283.28 369.21,283.07 369.96,282.77C370.70,282.47 371.14,281.79 371.74,281.70C372.33,281.61 372.93,281.94 373.52,282.24C374.11,282.53 374.71,283.04 375.30,283.48C375.90,283.93 376.49,284.73 377.09,284.91C377.68,285.09 378.13,284.67 378.87,284.55C379.61,284.44 380.65,284.29 381.54,284.20C382.43,284.11 383.18,284.08 384.22,284.02C385.26,283.96 386.74,283.99 387.78,283.84C388.82,283.69 389.56,283.34 390.45,283.13C391.35,282.92 392.24,282.77 393.13,282.59C394.02,282.42 395.06,282.21 395.80,282.06C396.54,281.91 396.99,281.64 397.58,281.70C398.18,281.76 398.68,282.06 399.37,282.42C400.05,282.77 400.94,283.43 401.68,283.84C402.43,284.26 403.17,284.67 403.82,284.91C404.48,285.15 404.86,285.33 405.61,285.27C406.35,285.21 407.39,284.55 408.28,284.55C409.17,284.55 410.06,285.09 410.95,285.27C411.84,285.45 412.74,285.68 413.63,285.62C414.52,285.56 415.56,285.27 416.30,284.91C417.04,284.55 417.49,284.02 418.08,283.48C418.68,282.95 419.27,281.88 419.87,281.70C420.46,281.52 421.05,282.18 421.65,282.42C422.24,282.65 422.84,283.13 423.43,283.13C424.03,283.13 424.62,282.65 425.21,282.42C425.81,282.18 426.40,281.64 427.00,281.70C427.59,281.76 428.04,282.53 428.78,282.77C429.52,283.01 430.56,283.07 431.45,283.13C432.34,283.19 433.54,283.07 434.13,283.13C434.72,283.19 434.41,283.37 435.00,283.48C435.59,283.60 436.93,283.96 437.67,283.84C438.42,283.72 438.86,283.13 439.46,282.77C440.05,282.42 440.64,281.64 441.24,281.70C441.83,281.76 442.28,282.59 443.02,283.13C443.76,283.66 444.80,284.47 445.70,284.91C446.59,285.36 447.48,285.74 448.37,285.80C449.26,285.86 450.15,285.42 451.04,285.27C451.93,285.12 452.83,285.09 453.72,284.91C454.61,284.73 455.50,284.49 456.39,284.20C457.28,283.90 458.17,283.43 459.06,283.13C459.96,282.83 460.70,282.47 461.74,282.42C462.78,282.36 464.11,282.65 465.30,282.77C466.49,282.89 467.68,283.13 468.87,283.13C470.06,283.13 471.24,282.77 472.43,282.77C473.62,282.77 474.81,283.01 476.00,283.13C477.19,283.25 478.37,283.34 479.56,283.48C480.75,283.63 482.30,283.72 483.13,284.02C483.96,284.32 484.32,285.06 484.55,285.27" fill="none" stroke="#0000ff" stroke-width="1.45" stroke-linejoin="round"/>
<path d="M501.31,283.48C501.70,283.54 502.80,283.72 503.63,283.84C504.46,283.96 505.41,284.14 506.30,284.20C507.19,284.26 508.08,284.20 508.98,284.20C509.87,284.20 510.76,284.26 511.65,284.20C512.54,284.14 513.43,284.08 514.32,283.84C515.21,283.60 516.40,283.01 517.00,282.77C517.59,282.53 517.74,282.47 517.89,282.42" fill="none" stroke="#0000ff" stroke-width="1.45" stroke-linejoin="round"/>
<path d="M528.92,282.24C529.31,282.33 530.41,282.47 531.24,282.77C532.07,283.07 533.02,283.90 533.91,284.02C534.80,284.14 535.70,283.69 536.59,283.48C537.48,283.28 538.37,282.98 539.26,282.77C540.15,282.56 541.19,282.18 541.93,282.24C542.68,282.30 543.12,282.74 543.72,283.13C544.31,283.51 544.76,284.20 545.50,284.55C546.24,284.91 547.28,285.21 548.17,285.27C549.06,285.33 549.96,285.21 550.85,284.91C551.74,284.61 552.63,283.84 553.52,283.48C554.41,283.13 555.15,282.95 556.19,282.77C557.23,282.59 558.72,282.36 559.76,282.42C560.80,282.47 561.54,282.89 562.43,283.13C563.32,283.37 564.07,283.72 565.11,283.84C566.15,283.96 567.48,283.87 568.67,283.84C569.86,283.81 571.05,283.72 572.24,283.66C573.43,283.60 574.61,283.51 575.80,283.48C576.99,283.46 578.18,283.48 579.37,283.48C580.56,283.48 581.74,283.48 582.93,283.48C584.12,283.48 585.31,283.43 586.50,283.48C587.69,283.54 589.02,283.72 590.06,283.84C591.10,283.96 591.84,284.17 592.74,284.20C593.63,284.23 594.52,284.14 595.41,284.02C596.30,283.90 597.04,283.63 598.08,283.48C599.12,283.34 600.46,283.13 601.65,283.13C602.84,283.13 604.03,283.43 605.21,283.48C606.40,283.54 607.59,283.48 608.78,283.48C609.97,283.48 611.45,283.40 612.34,283.48C613.24,283.57 613.74,282.30 614.13,284.02C614.51,285.74 614.45,290.11 614.66,293.82C614.87,297.54 615.26,304.22 615.37,306.30" fill="none" stroke="#0000ff" stroke-width="1.45" stroke-linejoin="round"/>
</g>
<g clip-path="url(#c1Ru)">
<polyline points="365,209.7 366.74,210.13 368.91,208.17 371.09,206.43 372.83,205.35 375,205.35 376.52,206 378.04,206.87 379.78,206 381.96,204.7 384.13,203.17 385.87,201.65 387.39,199.91 389.57,199.04 391.09,199.48 392.83,200.35 394.57,200.35 396.74,199.91 399.35,199.48 401.09,198.83 402.61,197.74 404.13,198.83 405.87,197.74 408.04,196.65 410.22,197.09 411.96,197.74 413.48,197.3 414.57,196.65 416.3,195.13 417.83,193.39 418.91,193.83 420,196.65 421.09,199.91 422.17,203.17 423.7,203.83 425.43,204.26 427.17,206.43 428.7,208.61 430.22,209.7 431.96,210.35 433.7,210.78 435.22,212.52 436.74,213.61 438.04,214.7 439.57,214.04 441.09,212.52 442.83,212.96 444.57,210.78 446.09,210.35 447.61,211.22 449.35,211.87 451.52,211.22 453.26,210.78 454.78,208.61 456.3,206.43 458.04,205.35 460.22,204.91 462.39,204.7 464.13,203.83 465.65,204.91 467.17,206 468.91,206 470.65,205.35 472.17,203.17 473.7,202.09 475.43,202.09 477.17,201.65 478.7,201 480.22,200.35 481.96,201 482,201 483.74,202.09" fill="none" stroke="#008000" stroke-width="1.4" stroke-linejoin="round"/>
<polyline points="501.13,197.74 502.65,197.3 504.83,197.09 507,196.65 508.52,196 510.26,196.65 512,196 513.52,195.57 515.04,194.7 516.35,194.48 517.87,195.13" fill="none" stroke="#008000" stroke-width="1.4" stroke-linejoin="round"/>
<polyline points="529.39,194.48 530.26,196.65 531.57,199.48 533.09,201.65 534.61,202.52 536.35,202.09 538.09,202.74 539.61,202.09 541.13,202.52 542.87,203.83 544.61,206.87 546.13,209.7 547.65,209.7 549.39,208.61 551.13,207.52 552.65,208.61 554.17,209.04 555.91,209.7 557.65,209.04 559.17,207.52 560.7,206 562.43,205.35 564.17,206.87 565.7,206.43 567.22,204.7 568.96,204.26 570.7,204.7 572.22,204.26 573.74,203.83 575.48,203.17 577.22,202.09 578.74,202.52 580.26,203.83 582,203.17 583.74,204.26 585.26,203.17 587.43,203.17 589.61,203.61 591.78,204.26 593.3,203.83 594.61,203.17 595.48,204.7 597.22,205.35 598.96,206.43 601.13,207.09 603.3,206.43 604.83,206.43 606.35,204.7 608.09,202.09 609.83,199.91 611.35,197.74 612.87,198.17 614.61,198.39" fill="none" stroke="#008000" stroke-width="1.4" stroke-linejoin="round"/>
</g>
<clipPath id="c2Lu"><rect x="40.5" y="355.4" width="267.4" height="58.10000000000002"/></clipPath>
<clipPath id="c2Ll"><rect x="40.5" y="413.5" width="267.4" height="94.89999999999998"/></clipPath>
<g clip-path="url(#c2Ll)">
<polygon points="40.5,443.48 41.2,444.47 41.9,441.62 42.6,442.48 43.3,444.02 44,444.33 44.7,441.65 45.4,443.26 46.1,444.12 46.8,443.8 47.5,444.62 48.2,443.99 48.9,442.26 49.6,442.53 50.3,443 51,441.78 51.7,441.35 52.4,440.7 53.1,440.7 53.8,441.46 54.5,444.67 55.2,444.58 55.9,443.98 56.6,443.33 57.3,442.48 58,444.11 58.7,442.66 59.4,442.08 60.1,443.17 60.8,442.06 61.5,443.09 62.2,442.61 62.9,442.63 63.6,442.35 64.3,443.74 65,443.02 65.7,443.42 66.4,442.24 67.1,441.6 67.8,437.61 68.5,437 69.2,437 69.9,437 70.6,439.68 71.3,441.59 72,444.28 72.7,443.57 73.4,442.2 74.1,442.65 74.8,444.41 75.5,444.78 76.2,444.33 76.9,442.05 77.6,444.25 78.3,443.52 79,441.72 79.7,442.62 80.4,444.29 81.1,442.61 81.8,444.25 82.5,443.93 83.2,443.86 83.9,442.05 84.6,443.6 85.3,443.05 86,442.07 86.7,441.94 87.4,442.2 88.1,443.94 88.8,444.69 89.5,443.54 90.2,444.41 90.9,442.4 91.6,440.57 92.3,437.9 93,437.9 93.7,437.9 94.4,438.77 95.1,442.83 95.8,443.11 96.5,443.23 97.2,443.63 97.9,444.08 98.6,444.28 99.3,444.4 100,443.48 100.7,443.85 101.4,443.86 102.1,444.74 102.8,444.06 103.5,442.99 104.2,444.94 104.9,442.88 105.6,444.79 106.3,442.38 107,442.49 107.7,443.75 108.4,442.5 109.1,442.78 109.8,442.33 110.5,442.65 111.2,444.47 111.9,443.29 112.6,442 113.3,444.33 114,442.18 114.7,442.78 115.4,443.64 116.1,443.82 116.8,443.55 117.5,443.91 118.2,444.94 118.9,444.33 119.6,443.58 120.3,443.9 121,444.29 121.7,441.95 122.4,443.45 123.1,443.24 123.8,441.95 124.5,442.19 125.2,443.84 125.9,442.46 126.6,443.45 127.3,444.97 127.5,443.78 127.5,476.48 127.3,476.09 126.6,476.96 125.9,476.68 125.2,477.72 124.5,475.45 123.8,475.78 123.1,475.15 122.4,477.21 121.7,476.57 121,477.24 120.3,475.21 119.6,475.93 118.9,477.92 118.2,475.24 117.5,477.26 116.8,477.53 116.1,475.66 115.4,476.22 114.7,477.35 114,477.31 113.3,477.79 112.6,477.53 111.9,474.94 111.2,475.16 110.5,475.64 109.8,476.09 109.1,475.74 108.4,475.91 107.7,477.93 107,476.47 106.3,477.33 105.6,477.33 104.9,477.15 104.2,474.97 103.5,475.84 102.8,477.84 102.1,477 101.4,477.47 100.7,475.18 100,476.17 99.3,477.88 98.6,475.15 97.9,474.88 97.2,476.59 96.5,474.93 95.8,482.65 95.1,483 94.4,483 93.7,478.6 93,477 92.3,477.15 91.6,476.69 90.9,477.67 90.2,476.61 89.5,476.35 88.8,477.62 88.1,474.74 87.4,476.42 86.7,477.61 86,475.94 85.3,475.64 84.6,474.91 83.9,476.6 83.2,477.53 82.5,477.83 81.8,475.12 81.1,475.28 80.4,476.03 79.7,476.12 79,476.19 78.3,477.36 77.6,474.94 76.9,476.09 76.2,475.55 75.5,475.19 74.8,475.7 74.1,475.82 73.4,477.27 72.7,475.31 72,476.96 71.3,477.44 70.6,480.55 69.9,484.3 69.2,484.3 68.5,484.3 67.8,483.42 67.1,479.29 66.4,477.02 65.7,477.45 65,476.18 64.3,475.5 63.6,476.31 62.9,474.89 62.2,474.71 61.5,474.81 60.8,476.96 60.1,476.17 59.4,475.65 58.7,477.01 58,475.63 57.3,475.9 56.6,475.82 55.9,475.6 55.2,474.53 54.5,475.03 53.8,475.83 53.1,476 52.4,476.95 51.7,478.29 51,480 50.3,480 49.6,480 48.9,480 48.2,477.77 47.5,474.48 46.8,476.54 46.1,476.91 45.4,474.68 44.7,477.36 44,475.99 43.3,475 42.6,475.6 41.9,477.05 41.2,475.03 40.5,476.64" fill="#dadada"/>
<polygon points="164.6,443.88 165.3,446.49 166,444.02 166.7,443.99 167.4,444.84 168.1,444.74 168.8,444.6 169.5,446.46 170.2,444.42 170.9,443.83 171.6,443.76 172.3,445.8 173,443.75 173.7,446.2 174.4,444.52 175.1,444.13 175.8,446.16 176.5,444.83 177.2,446.17 177.9,446.34 178.6,445.3 179.3,445.5 180,443.28 180.7,445.81 181.4,443.58 182.1,445.41 182.8,444.98 183.5,444.21 184.2,445.49 184.9,445.06 185.6,444.57 186.3,445.62 187,443.31 187.7,446.22 188.4,445.86 189.1,444.89 189.8,445.73 190.5,444.68 191.2,443.69 191.9,446.19 192.6,444.62 193.3,445.97 194,445.43 194.7,443.89 195.4,445.99 196.1,444.35 196.8,444.41 197.5,446.15 198.2,443.88 198.9,444.97 199.6,445.91 200.3,444.13 201,444.75 201.7,443.65 202.4,443.92 203.1,444.96 203.8,444.51 204.5,445.64 205.2,444.53 205.9,445.35 206.6,433.36 207.3,429.8 208,429.8 208.7,431.31 209.4,442.8 210.1,445.41 210.8,444.98 211.5,444.17 212.2,444.97 212.9,445.6 213.6,444.24 214.3,445.51 215,444.1 215.7,444.62 216.4,444.45 217.1,440.64 217.8,436 218.5,436 219.2,437.21 219.9,444.01 220.6,445.41 221.3,443.36 222,445.82 222.7,445.24 223.4,444.21 224.1,444.05 224.8,443 225.5,445.06 226.2,443.71 226.9,444.01 227.6,445.65 228.3,444.82 229,442.94 229.7,444.85 230.4,444.35 231.1,443.45 231.8,443.15 232.5,443.54 233.2,435.41 233.9,430.7 234.6,430.7 235.3,430.7 236,441.83 236.7,444.71 237.4,442.45 238.1,444.88 238.8,444.42 239.5,444.89 240.2,443.49 240.9,443.21 241.6,442.98 242.3,442.97 243,444.17 243.7,442.88 244.4,443.49 245.1,442.95 245.8,443 246.5,443.2 247.2,443.24 247.9,443.55 248.6,443.48 249.3,445.24 250,445.37 250.7,445.46 251.4,444.94 252.1,443.05 252.8,442.69 253.5,443.84 254.2,444.59 254.9,442.46 255.6,444.4 256.3,444.74 257,444.88 257.7,445.33 258.4,443.83 259.1,445.05 259.8,443.19 260.5,442.99 261.2,444.08 261.9,445.24 262.6,442.61 263.3,444.77 264,442.58 264.7,443.55 265.4,445.07 266.1,443.71 266.8,444.9 267.5,442.22 268.2,442.62 268.9,442.73 269.6,442.71 270.3,443.07 271,443.1 271.7,445.23 272.4,444.35 273.1,444.24 273.8,444.16 274.5,443.27 275.2,443.52 275.9,442.57 276.6,443.8 277.3,444.32 278,442.08 278.7,443.89 279.4,443.87 280.1,442.74 280.8,443.97 281.5,444.06 282.2,442.19 282.9,442.07 283.6,442.35 284.3,444.83 285,444.69 285.7,442.71 286.4,444.59 287.1,441.44 287.8,437 288.5,437 289.2,437 289.9,441.17 290.6,443.63 291.3,443.46 292,442.08 292.7,442.49 293.4,444.43 294.1,442.44 294.8,444.54 295.5,444.1 296.2,443.1 296.9,444.01 297.6,443.61 298.3,444.13 299,443.61 299.7,442.85 300.4,444.67 301.1,442.59 301.8,442.36 302.5,444.72 303.2,442.08 303.9,443.39 304.6,444.37 305.3,442.89 306,441.63 306.7,442.42 307.4,442.76 307.9,443.15 307.9,480.56 307.4,477.66 306.7,479.72 306,478.8 305.3,479.94 304.6,478.61 303.9,479.47 303.2,479.76 302.5,478.37 301.8,478.8 301.1,479.88 300.4,477.88 299.7,479.2 299,478.88 298.3,479.63 297.6,478.5 296.9,478.92 296.2,477.47 295.5,478.73 294.8,479.93 294.1,480.05 293.4,477.23 292.7,478.34 292,478.12 291.3,477.66 290.6,477.32 289.9,478.78 289.2,478.9 288.5,479.42 287.8,479.69 287.1,479.81 286.4,479.34 285.7,477.34 285,478.78 284.3,478.6 283.6,478.31 282.9,478.37 282.2,479.41 281.5,477.53 280.8,477.37 280.1,477.51 279.4,477.81 278.7,477.27 278,479.95 277.3,478.06 276.6,479.28 275.9,479.3 275.2,478.48 274.5,478.77 273.8,479.65 273.1,479.66 272.4,478.71 271.7,478.53 271,479.57 270.3,477.06 269.6,479.56 268.9,479.78 268.2,477.92 267.5,477.65 266.8,476.7 266.1,478.34 265.4,477.16 264.7,479.13 264,477.02 263.3,477.15 262.6,478.67 261.9,478.23 261.2,479.29 260.5,479.55 259.8,479.65 259.1,478.26 258.4,477.35 257.7,477.24 257,478.26 256.3,479.64 255.6,479.49 254.9,477.69 254.2,478.93 253.5,479.71 252.8,478.36 252.1,479.26 251.4,477.93 250.7,478.79 250,477.8 249.3,478.5 248.6,477.78 247.9,478.01 247.2,480.1 246.5,487.37 245.8,488.6 245.1,488.6 244.4,486.28 243.7,476.77 243,477.52 242.3,477.08 241.6,478.53 240.9,476.65 240.2,476.71 239.5,476.86 238.8,478.44 238.1,479.12 237.4,478.25 236.7,479.38 236,480.43 235.3,488.6 234.6,488.6 233.9,488.6 233.2,484.82 232.5,477.97 231.8,478.31 231.1,478.57 230.4,476.18 229.7,478.52 229,478.26 228.3,477.33 227.6,476.06 226.9,478.12 226.2,477.66 225.5,476.77 224.8,477.32 224.1,479.03 223.4,476.12 222.7,478.3 222,476.05 221.3,476.38 220.6,476.52 219.9,478.66 219.2,477.82 218.5,478.8 217.8,478.27 217.1,477.29 216.4,477.97 215.7,478.05 215,477.6 214.3,478.72 213.6,476.44 212.9,477.75 212.2,477.55 211.5,478.14 210.8,477.75 210.1,477.29 209.4,478.92 208.7,490.55 208,492.2 207.3,492.2 206.6,488.97 205.9,477 205.2,475.51 204.5,475.52 203.8,477.57 203.1,476.8 202.4,477.68 201.7,475.87 201,478.39 200.3,476.72 199.6,478.08 198.9,477.64 198.2,477.12 197.5,475.72 196.8,477.53 196.1,476.98 195.4,477.42 194.7,478.57 194,477.73 193.3,475.94 192.6,475.69 191.9,476.83 191.2,477.86 190.5,478.3 189.8,475.85 189.1,476.04 188.4,475.58 187.7,478.59 187,477.75 186.3,477.05 185.6,476.8 184.9,477.57 184.2,475.49 183.5,476.23 182.8,476.49 182.1,477.18 181.4,477.04 180.7,477.01 180,477.61 179.3,478.41 178.6,476.28 177.9,475.5 177.2,477.25 176.5,476.81 175.8,478.23 175.1,475.77 174.4,477.86 173.7,477.79 173,476.38 172.3,477.95 171.6,477.68 170.9,475.71 170.2,476.88 169.5,476.72 168.8,477.53 168.1,478.64 167.4,475.93 166.7,476.81 166,476.56 165.3,477.86 164.6,476.99" fill="#dadada"/>
<polyline points="41.21,451.22 41.57,460.9 41.92,465.48 42.37,454.64 42.81,447.65 43.08,444.01 43.35,436.96 43.79,448.77 44.24,460.13 44.68,472.8 45.13,479.74 45.58,484.07 46.02,487.76 46.47,480.67 46.91,474.39 47.36,467.41 47.8,465.48 48.25,459.7 48.7,454.78 49.14,455.78 49.59,451.22 50.03,452.38 50.48,447.65 50.92,458.65 51.37,472.61 51.81,480.71 52.26,485.08 52.71,473.55 53.15,465.48 53.6,460.63 54.04,454.78 54.49,453.32 54.93,453 55.38,454.21 55.83,458.35 56.27,461.49 56.72,465.48 57.16,471.33 57.61,474.39 58.05,471 58.5,465.48 58.94,460.06 59.39,456.56 59.84,449.89 60.28,447.65 60.73,442.94 61.17,444.09 61.62,451.96 62.06,454.78 62.51,451.33 62.96,447.65 63.4,446.72 63.85,445.87 64.29,455.17 64.74,465.48 65.18,464.91 65.63,469.04 66.07,461.22 66.52,456.56 66.97,454.94 67.41,447.65 67.86,445.16 68.3,444.09 68.75,451.43 69.19,458.35 69.64,464.55 70.09,465.48 70.53,460.72 70.98,454.78 71.42,456.45 71.87,461.91 72.31,463.74 72.76,470.82 73.2,467.06 73.65,467.26 74.1,461.36 74.54,460.13 74.99,460.87 75.43,465.48 75.88,458.97 76.32,456.56 76.77,453.75 77.22,453 77.66,450.14 78.11,447.65 78.55,455.86 79,465.48 79.44,462.02 79.89,460.13 80.34,458.46 80.78,456.56 81.23,450.48 81.67,447.65 82.12,446.86 82.56,440.52 83.01,434.48 83.45,431.61 83.9,440.43 84.35,447.65 84.79,451.45 85.24,456.56 85.68,457.69 86.13,458.35 86.57,457.15 87.02,461.91 87.47,466.64 87.91,465.48 88.36,469.49 88.8,469.04 89.25,462.64 89.69,461.91 90.14,458.74 90.58,458.35 91.03,471.58 91.48,479.74 91.92,474.2 92.37,465.48 92.81,456.96 93.26,447.65 93.7,454.05 94.15,456.56 94.6,460.5 95.04,469.04 95.49,473.17 95.93,474.39 96.38,465.27 96.82,460.13 97.27,461.49 97.71,465.48 98.16,463.68 98.61,456.56 99.05,467.24 99.5,479.74 99.94,472.93 100.39,465.48 100.83,461.03 101.28,454.78 101.73,461.54 102.17,469.04 102.62,467.32 103.06,461.91 103.51,466.42 103.95,465.48 104.4,458.78 104.84,451.22 105.29,448.59 105.74,447.65 106.18,456.7 106.63,461.91 107.07,464.96 107.52,470.82 107.96,467.18 108.41,469.04 108.86,469.53 109.3,465.48 109.75,462.15 110.19,461.91 110.64,463.75 111.08,470.82 111.53,465.66 111.98,458.35 112.42,452.83 112.87,453 113.31,459.61 113.76,463.69 114.2,462.1 114.65,456.56 115.09,452.16 115.54,451.22 115.99,446.92 116.43,438.74 116.88,443.78 117.32,447.65 117.77,449.47 118.21,454.78 118.66,458.01 119.11,465.48 119.55,459.61 120,458.35 120.44,452.97 120.89,447.65 121.33,448.32 121.78,444.09 122.22,442.93 122.67,442.3 123.12,444.73 123.56,447.65 124.01,449.39 124.45,453 124.9,458.01 125.34,461.91 125.79,455.51 126.24,447.65 126.68,449.68 127.13,454.78 123.56,454.69 120,458.35 120.45,450.23 120.89,447.65 121.34,447.12 121.78,444.09 122.23,443.7 122.67,442.3 123.12,441.69 123.57,445.87 124.01,451.68 124.46,453 124.9,458.67 125.35,461.91 125.79,450.57 126.24,444.98 126.68,450.91 127.13,454.78 127.31,453.78 127.49,458.35" fill="none" stroke="#4a4a4a" stroke-width="1.4" stroke-linejoin="round"/>
<polyline points="164.56,451.22 165.01,451.94 165.45,453 165.9,457.28 166.35,456.56 166.79,461.81 167.24,465.48 167.68,473.23 168.13,485.08 168.57,477.4 169.02,474.39 169.47,476.13 169.91,472.61 170.36,473.17 170.8,479.74 171.25,475.62 171.69,474.39 172.14,474.09 172.58,477.95 173.03,482.92 173.48,490.43 173.92,479.77 174.37,470.82 174.81,470.08 175.26,465.48 175.7,465.62 176.15,467.26 176.6,470.71 177.04,474.39 177.49,469.92 177.93,461.91 178.38,454.7 178.82,447.65 179.27,436.56 179.71,429.83 180.16,440.92 180.61,447.65 181.05,450.75 181.5,451.22 181.94,452.48 182.39,458.35 182.83,447.81 183.28,436.96 183.73,454.06 184.17,465.48 184.62,467.4 185.06,474.39 185.51,480.65 185.95,483.3 186.4,486.43 186.84,485.08 187.29,470.52 187.74,456.56 188.18,438.26 188.63,415.57 189.07,424.78 189.52,429.83 189.96,439.02 190.41,447.65 190.86,458.97 191.3,465.48 191.75,472.59 192.19,481.52 192.64,476.05 193.08,470.82 193.53,451.91 193.98,438.74 194.42,433.14 194.87,426.26 195.31,423.04 195.76,420.91 196.2,423.46 196.65,429.83 197.09,447.94 197.54,465.48 197.99,477.37 198.43,492.21 198.88,498.04 199.32,504.69 199.77,497.48 200.21,495.78 200.66,480.04 201.11,465.48 201.55,453.97 202,447.65 202.44,444.67 202.89,442.3 203.33,447.98 203.78,453 204.22,463.4 204.67,474.39 205.12,481.06 205.56,486.87 206.01,478.5 206.45,465.48 205.73,456.66 205,449.43 205.45,449.8 205.89,445.87 206.34,449.01 206.78,447.65 207.23,444.16 207.67,442.3 208.12,437.44 208.57,436.96 209.01,440.63 209.46,440.52 209.9,450.46 210.35,454.78 210.79,452.37 211.24,447.65 211.68,448.05 212.13,453 212.58,457.42 213.02,460.13 213.47,462.84 213.91,465.48 214.36,470.2 214.8,476.17 215.25,479.11 215.7,483.3 216.14,481.18 216.59,479.74 217.03,473.91 217.48,465.48 217.92,460.23 218.37,451.22 218.81,450.46 219.26,454.78 219.71,455.26 220.15,456.56 220.6,452.63 221.04,447.65 221.49,440.14 221.93,429.83 222.2,425.85 222.47,417.35 222.83,425.39 223.18,433.39 223.63,442.09 224.07,447.65 224.34,440.21 224.61,438.74 225.05,450.44 225.5,456.56 225.94,460.7 226.39,460.13 226.84,462.52 227.28,465.48 227.73,465.06 228.17,461.91 228.62,455.7 229.06,453 229.51,449.53 229.96,447.65 230.4,446.3 230.85,444.09 231.29,446.66 231.74,445.87 232.18,453.48 232.63,456.56 233.07,466.44 233.52,474.39 233.97,482.47 234.41,490.43 234.86,494.85 235.3,495.78 235.75,492.16 236.19,483.3 236.64,479.78 237.09,472.61 237.53,474.83 237.98,479.74 238.42,485.93 238.87,486.87 239.31,490.04 239.76,488.65 240.2,491.08 240.65,495.78 241.1,489.52 241.54,477.95 241.99,469.27 242.43,465.48 242.88,463.8 243.32,456.56 243.77,456.68 244.22,461.91 244.66,462.63 245.11,465.48 245.55,458.18 246,447.65 246.44,442.36 246.89,440.52 247.34,441.23 247.78,447.65 248.23,449.83 248.67,456.56 249.12,453.15 249.56,444.09 250.01,437.57 250.45,435.17 250.9,435.04 251.35,429.83 251.79,434.34 252.24,438.74 252.68,444.54 253.13,447.65 253.57,452.07 254.02,456.56 254.47,462.14 254.91,470.82 255.36,477.45 255.8,486.87 256.25,479.18 256.69,476.17 257.14,467.42 257.58,460.13 258.03,465.35 258.48,465.48 258.92,470.62 259.37,474.39 259.81,468.41 260.26,465.48 260.7,462.44 261.15,461.91 261.6,457.48 262.04,454.78 262.49,449.82 262.93,442.3 263.38,448.06 263.82,449.43 264.27,445.23 264.71,435.17 265.16,426.47 265.61,422.7 266.05,425.86 266.5,433.39 266.94,453.22 267.39,474.39 267.83,466.04 268.28,458.35 268.73,449.61 269.17,444.09 269.62,447.53 270.06,447.65 270.51,450.78 270.95,456.56 271.4,454.91 271.84,449.43 272.29,447.2 272.74,445.87 273.18,445.01 273.63,447.65 274.07,437.56 274.52,433.39 274.96,435.5 275.41,438.74 275.86,440.28 276.3,444.09 276.57,437.44 276.84,428.04 277.28,446.25 277.73,461.91 278.08,472.55 278.44,483.3 278.89,479.03 279.33,474.39 279.78,469.06 280.22,458.35 280.67,450.34 281.11,447.65 281.56,440.4 282.01,438.74 282.45,451.96 282.9,461.91 283.34,462.2 283.79,465.48 284.23,461.97 284.68,456.56 285.12,456.73 285.57,453 286.02,447.49 286.46,447.65 286.91,457.16 287.35,461.91 287.8,469.83 288.24,474.39 288.69,482.4 289.14,488.65 289.58,498.51 290.03,502.91 290.47,493.22 290.92,486.87 291.36,479.58 291.81,474.39 292.25,470.59 292.7,465.48 293.15,463.41 293.59,456.56 294.04,455.62 294.48,453 294.93,452.26 295.37,447.65 295.82,452.45 296.27,453 296.71,454.78 297.16,454.78 297.6,446.79 298.05,438.74 298.49,433.97 298.94,429.83 299.39,428.77 299.83,431.61 300.28,437.83 300.72,438.74 301.17,446.44 301.61,456.56 302.06,463.11 302.5,469.04 302.95,462.24 303.4,456.56 303.84,456.77 304.29,451.22 304.73,453.66 305.18,458.35 305.62,465.87 306.07,469.04 306.52,463.31 306.96,461.91 307.41,468.41 307.85,474.39 308.48,468.09 309.1,465.48" fill="none" stroke="#4a4a4a" stroke-width="1.4" stroke-linejoin="round"/>
<path d="M41.21,461.02C41.86,461.05 43.88,461.17 45.13,461.20C46.38,461.23 47.51,461.20 48.70,461.20C49.88,461.20 51.07,461.32 52.26,461.20C53.45,461.08 54.64,460.63 55.83,460.48C57.01,460.34 58.20,460.31 59.39,460.31C60.58,460.31 61.77,460.34 62.96,460.48C64.14,460.63 65.48,460.90 66.52,461.20C67.56,461.49 68.30,462.15 69.19,462.27C70.09,462.39 70.83,462.09 71.87,461.91C72.91,461.73 74.24,461.41 75.43,461.20C76.62,460.99 77.81,460.81 79.00,460.66C80.19,460.51 81.37,460.34 82.56,460.31C83.75,460.28 84.94,460.34 86.13,460.48C87.32,460.63 88.51,460.96 89.69,461.20C90.88,461.44 92.22,461.73 93.26,461.91C94.30,462.09 95.04,462.33 95.93,462.27C96.82,462.21 97.71,461.85 98.61,461.55C99.50,461.26 100.39,460.78 101.28,460.48C102.17,460.19 103.06,459.95 103.95,459.77C104.84,459.59 105.74,459.36 106.63,459.42C107.52,459.47 108.41,459.77 109.30,460.13C110.19,460.48 111.08,461.14 111.98,461.55C112.87,461.97 113.91,462.39 114.65,462.62C115.39,462.86 115.84,463.04 116.43,462.98C117.03,462.92 117.47,462.59 118.21,462.27C118.96,461.94 120.00,461.32 120.89,461.02C121.78,460.72 122.67,460.57 123.56,460.48C124.45,460.40 125.49,460.46 126.24,460.48C126.98,460.51 129.06,460.63 128.02,460.66C126.98,460.69 120.89,460.69 120.00,460.66C119.11,460.63 121.78,460.57 122.67,460.48C123.57,460.40 124.55,460.13 125.35,460.13C126.15,460.13 127.13,460.43 127.49,460.48" fill="none" stroke="#0000ff" stroke-width="1.45" stroke-linejoin="round"/>
<path d="M164.56,462.27C165.01,462.15 166.35,461.76 167.24,461.55C168.13,461.35 168.87,461.17 169.91,461.02C170.95,460.87 172.29,460.75 173.48,460.66C174.66,460.57 175.85,460.46 177.04,460.48C178.23,460.51 179.42,460.72 180.61,460.84C181.79,460.96 182.98,461.08 184.17,461.20C185.36,461.32 186.55,461.55 187.74,461.55C188.92,461.55 190.26,461.38 191.30,461.20C192.34,461.02 193.08,460.48 193.98,460.48C194.87,460.48 195.76,460.90 196.65,461.20C197.54,461.49 198.43,462.15 199.32,462.27C200.21,462.39 201.11,462.09 202.00,461.91C202.89,461.73 204.17,461.35 204.67,461.20C205.17,461.05 204.50,461.20 205.00,461.02C205.50,460.84 206.63,460.37 207.67,460.13C208.71,459.89 210.20,459.59 211.24,459.59C212.28,459.59 213.02,459.80 213.91,460.13C214.80,460.46 215.70,461.17 216.59,461.55C217.48,461.94 218.37,462.45 219.26,462.45C220.15,462.45 220.89,461.85 221.93,461.55C222.97,461.26 224.31,460.75 225.50,460.66C226.69,460.57 227.88,460.75 229.06,461.02C230.25,461.29 231.59,461.88 232.63,462.27C233.67,462.65 234.56,463.13 235.30,463.34C236.05,463.54 236.34,463.63 237.09,463.52C237.83,463.40 238.72,463.04 239.76,462.62C240.80,462.21 242.14,461.44 243.32,461.02C244.51,460.60 245.70,460.22 246.89,460.13C248.08,460.04 249.27,460.37 250.45,460.48C251.64,460.60 252.83,460.78 254.02,460.84C255.21,460.90 256.40,460.84 257.58,460.84C258.77,460.84 259.96,460.90 261.15,460.84C262.34,460.78 263.53,460.48 264.71,460.48C265.90,460.48 267.09,460.81 268.28,460.84C269.47,460.87 270.66,460.69 271.84,460.66C273.03,460.63 274.22,460.57 275.41,460.66C276.60,460.75 277.79,461.11 278.98,461.20C280.16,461.29 281.35,461.26 282.54,461.20C283.73,461.14 284.92,460.72 286.11,460.84C287.29,460.96 288.63,461.61 289.67,461.91C290.71,462.21 291.45,462.62 292.34,462.62C293.24,462.62 294.13,462.27 295.02,461.91C295.91,461.55 296.80,460.90 297.69,460.48C298.58,460.07 299.47,459.47 300.37,459.42C301.26,459.36 302.15,459.77 303.04,460.13C303.93,460.48 304.70,461.17 305.71,461.55C306.72,461.94 308.54,462.30 309.10,462.45" fill="none" stroke="#0000ff" stroke-width="1.45" stroke-linejoin="round"/>
</g>
<g clip-path="url(#c2Lu)">
<polyline points="40.61,379.09 41.91,378.65 43.43,376.91 44.96,378.65 46.7,378 48.43,377.35 49.96,376.91 51.48,378.65 53.22,377.35 54.96,377.57 56.48,378 58,378 59.74,377.35 61.48,378.65 63,379.09 64.52,379.52 66.26,380.83 68,380.17 69.52,380.17 71.04,380.83 72.78,380.17 74.52,379.09 76.04,378 77.57,376.48 79.3,375.17 81.04,374.3 82.57,373 84.09,372.13 85.83,372.57 87.57,372.13 89.3,372.57 91.04,373 92.35,374.3 93.65,375.83 94.96,378 96.26,380.17 97.78,380.83 99.3,381.26 100.61,380.83 102.13,380.17 103.65,378.65 104.96,376.91 106.48,375.17 108,374.3 109.74,373 111.48,372.13 113,371.48 114.52,370.83 115.83,371.48 117.35,369.96 118.87,370.83 120.61,371.48 122.35,370.83 123.87,371.48 125.39,373 127.13,374.74" fill="none" stroke="#008000" stroke-width="1.4" stroke-linejoin="round"/>
<polyline points="165.17,373.22 166.26,374.74 168,378 169.52,379.52 171.04,380.17 172.78,379.52 174.96,380.17 175,379.52 176.74,380.17 178.26,379.09 179.78,379.52 181.52,378.65 183.26,379.09 184.78,380.83 186.3,383.43 187.61,385.17 188.48,382.35 189.78,384.52 191.3,385.17 192.83,385.61 194.13,382.35 195.65,380.83 196.74,383.43 197.83,387.78 198.91,392.13 200,395.39 201.52,394.74 203.26,393.87 204.35,392.13 205.43,385.61 207.17,379.09 208.7,375.17 210.22,374.74 211.96,373.65 213.7,374.3 215.22,374.74 216.74,373.65 218.48,373 220.22,372.57 221.74,370.83 223.26,370.39 225,369.96 226.74,369.96 228.26,370.39 229.78,369.52 231.52,369.96 232.61,371.48 233.7,375.83 235.43,381.26 236.96,385.61 238.48,387.13 239.78,385.61 241.3,381.26 242.83,376.91 244.57,374.74 246.3,374.3 247.83,373.65 249.35,372.57 251.09,370.39 252.83,370.83 254.35,372.13 255.87,371.48 257.61,372.13 259.35,371.48 260.87,370.39 262.39,372.13 264.13,369.96 265.87,370.83 267.39,372.57 268.91,371.48 270.65,372.13 272.39,370.83 273.91,371.48 275.43,372.13 276.74,372.57 278.26,376.48 279.78,377.35 281.52,376.48 283.26,377.35 284.78,374.74 286.3,374.3 288.04,373.65 289.78,374.74 291.3,373.65 292.83,372.57 294.57,375.17 296.3,378.65 297.83,380.83 299.35,383 301.09,386.7 302.83,386.7 304.35,386.04 306.52,387.35" fill="none" stroke="#008000" stroke-width="1.4" stroke-linejoin="round"/>
</g>
<clipPath id="c2Ru"><rect x="347.8" y="355.4" width="267.7" height="58.10000000000002"/></clipPath>
<clipPath id="c2Rl"><rect x="347.8" y="413.5" width="267.7" height="94.89999999999998"/></clipPath>
<g clip-path="url(#c2Rl)">
<polygon points="347.8,449.1 348.5,449.1 349.2,449.1 349.9,449.1 350.6,449.1 351.3,449.1 352,449.1 352.7,449.03 353.4,449 354.1,449 354.8,449 355.5,449.05 356.2,449.1 356.9,449.1 357.6,449.1 358.3,449.1 359,449.1 359.7,449.1 360.4,449.1 361.1,449.1 361.8,449.1 362.5,449.1 363.2,449.1 363.9,449.1 364.6,449.1 365.3,449.1 366,449.1 366.7,449.1 367.4,449.1 368.1,449.1 368.8,449.1 369.5,449.1 370.2,449.1 370.9,449.1 371.6,449.1 372.3,449.1 373,449.1 373.7,449.1 374.4,449.1 375.1,449.1 375.8,449.1 376.5,449.1 377.2,449.1 377.9,449.1 378.6,449.1 379.3,449.1 380,449.1 380.7,449.1 381.4,449.1 382.1,449.1 382.8,449.1 383.5,449.1 384.2,449.1 384.9,449.1 385.6,449.1 386.3,449.1 387,449.1 387.7,449.1 388.4,449.1 389.1,445.62 389.8,440.4 390.5,440.4 391.2,440.4 391.9,442.14 392.6,448.23 393.3,449.1 394,449.1 394.7,449.1 395.4,449.1 396.1,449.1 396.8,449.1 397.5,449.1 398.2,449.1 398.9,449.1 399.6,449.1 400.3,449.1 401,449.1 401.7,449.1 402.4,449.1 403.1,449.1 403.8,449.1 404.5,449.1 405.2,449.1 405.9,449.1 406.6,449.1 407.3,449.1 408,449.1 408.7,449.1 409.4,449.09 410.1,449.02 410.8,449 411.5,449 412.2,449 412.9,449.06 413.6,449.1 414.3,449.1 415,449.1 415.7,449.1 416.4,449.1 417.1,449.1 417.8,449.1 418.5,449.1 419.2,449.1 419.9,449.1 420.6,449.1 421.3,449.1 422,449.1 422.7,449.1 423.4,449.1 424.1,449.1 424.8,449.1 425.5,449.1 426.2,449.1 426.9,449.1 427.6,449.1 428.3,448.58 429,447.38 429.7,446.18 430.4,444.97 431.1,444.8 431.8,444.8 432.5,444.8 433.2,444 433.9,441.2 434.6,440.4 435.3,440.4 436,440.4 436.7,442 437.4,444.8 438.1,444.8 438.8,444.8 439.5,444.8 440.2,444.8 440.9,444.8 441.6,444.8 442.3,444.8 443,444.8 443.7,444.8 444.4,442.8 445.1,440.4 445.8,440.4 446.5,440.4 447.2,440.4 447.9,443.2 448.6,444.8 449.3,444.8 450,444.8 450.7,444.8 451.4,444.8 452.1,444.8 452.8,444.8 453.5,444.8 454.2,444.8 454.9,444.8 455.6,444.8 456.3,439.85 457,433.9 457.7,433.9 458.4,433.9 459.1,433.9 459.8,440.84 460.5,444.8 461.2,444.8 461.9,444.8 462.6,444.8 463.3,444.8 464,443.68 464.7,442 465.4,442 466.1,442 466.8,442.56 467.5,444.52 468.2,445.23 468.9,446.73 469.6,448.24 470.3,449.1 471,449.1 471.7,449.1 472.4,449.1 473.1,449.1 473.8,449.1 474.5,449.1 475.2,449.1 475.9,449.1 476.6,449.1 477.3,449.1 478,449.1 478.7,449.1 479.4,449.1 480.1,449.1 480.8,449.1 481.5,449.1 482.2,449.1 482.9,449.1 483.6,449.1 484.3,449.1 485,449.1 485.7,449.1 486.4,449.1 487.1,449.1 487.8,449.1 488.5,449.1 489.2,449.1 489.9,449.1 490.6,449.1 491.3,449.1 492,449.1 492.7,449.1 493.4,449.1 494.1,449.1 494.8,433.87 495.5,415.6 496.2,415.6 496.9,415.6 497.6,415.6 498.3,436.92 499,449.1 499.7,449.1 500.4,449.04 501.1,449 501.8,449 502.5,449 503.2,449.07 503.9,449.1 504.6,449.1 505.3,449.1 506,449.1 506.7,449.1 507.4,449.1 508.1,449.1 508.8,449.1 509.5,449.1 510.2,449.1 510.9,449.1 511.6,449.1 512.3,449.1 513,449.1 513.7,449.1 514.4,449.1 515.1,449.1 515.8,449.1 516.5,449.1 517.2,449.1 517.9,449.1 518.6,449.1 519.3,449.1 520,449.1 520.7,449.1 521.4,449.1 522.1,449.1 522.8,449.1 523.5,449.1 524.2,448.99 524.9,448.61 525.6,448.22 526.3,447.96 527,447.88 527.7,447.79 528.4,447.7 529.1,447.61 529.8,447.53 530.5,447.65 531.2,447.86 531.9,448.07 532.6,448.28 533.3,448.49 534,448.7 534.7,448.91 535.4,450.15 536.1,452.15 536.8,453.3 537.5,453.3 538.2,453.3 538.9,453.3 539.6,443.26 540.3,419.85 541,416.5 541.7,416.5 542.4,416.5 543.1,433.23 543.8,453.3 544.5,453.3 545.2,453.3 545.9,453.3 546.6,453.3 547.3,453.3 548,453.3 548.7,453.3 549.4,453.3 550.1,453.3 550.8,453.3 551.5,453.3 552.2,453.3 552.9,453.3 553.6,453.3 554.3,453.3 555,453.3 555.7,453.3 556.4,453.3 557.1,453.3 557.8,453.3 558.5,453.3 559.2,453.3 559.9,453.3 560.6,453.3 561.3,453.3 562,453.3 562.7,453.3 563.4,437.35 564.1,423 564.8,423 565.5,423 566.2,437.35 566.9,453.3 567.6,453.3 568.3,453.3 569,453.3 569.7,453.3 570.4,453.3 571.1,453.3 571.8,453.3 572.5,453.3 573.2,453.3 573.9,453.3 574.6,453.3 575.3,453.3 576,453.3 576.7,453.3 577.4,453.3 578.1,453.3 578.8,453.3 579.5,452.89 580.2,450.04 580.9,448.2 581.6,448.2 582.3,448.2 583,448.2 583.7,450.44 584.4,453.3 585.1,453.3 585.8,453.3 586.5,453.3 587.2,453.3 587.9,453.3 588.6,453.3 589.3,453.3 590,453.3 590.7,442.52 591.4,433.9 592.1,433.9 592.8,433.9 593.5,446.83 594.2,453.3 594.9,453.3 595.6,453.3 596.3,453.3 597,453.3 597.7,453.3 598.4,453.3 599.1,453.3 599.8,453.3 600.5,453.3 601.2,453.3 601.9,453.3 602.6,453.06 603.3,452.78 604,452.5 604.7,452.5 605.4,452.5 606.1,452.5 606.8,452.5 607.5,452.5 608.2,452.5 608.9,452.5 609.6,452.5 610.3,452.5 611,452.5 611.7,452.5 612.3,452.5 612.3,472.9 611.7,472.87 611,472.84 610.3,472.8 609.6,472.77 608.9,472.74 608.2,472.7 607.5,472.67 606.8,472.63 606.1,472.6 605.4,472.57 604.7,472.53 604,472.5 603.3,471.21 602.6,469.91 601.9,468.8 601.2,468.8 600.5,468.8 599.8,468.79 599.1,468.79 598.4,468.79 597.7,468.79 597,468.78 596.3,468.78 595.6,468.78 594.9,468.78 594.2,468.78 593.5,474.92 592.8,487.2 592.1,487.2 591.4,487.2 590.7,479.01 590,468.76 589.3,468.76 588.6,468.76 587.9,468.76 587.2,468.75 586.5,468.75 585.8,468.75 585.1,468.75 584.4,468.75 583.7,468.78 583,468.8 582.3,468.8 581.6,468.8 580.9,468.8 580.2,468.78 579.5,468.74 578.8,468.73 578.1,468.73 577.4,468.72 576.7,468.72 576,468.72 575.3,468.72 574.6,468.72 573.9,468.71 573.2,468.71 572.5,468.71 571.8,468.71 571.1,468.71 570.4,468.7 569.7,468.7 569,468.7 568.3,468.7 567.6,468.69 566.9,468.69 566.2,484.64 565.5,499 564.8,499 564.1,499 563.4,484.64 562.7,468.68 562,468.68 561.3,468.68 560.6,468.67 559.9,468.67 559.2,468.67 558.5,468.67 557.8,468.67 557.1,468.66 556.4,468.66 555.7,468.66 555,473.4 554.3,481.7 553.6,481.7 552.9,481.7 552.2,481.7 551.5,474.58 550.8,468.64 550.1,468.64 549.4,468.64 548.7,468.64 548,468.64 547.3,468.63 546.6,468.63 545.9,468.63 545.2,468.63 544.5,468.62 543.8,468.62 543.1,488.79 542.4,505.6 541.7,505.6 541,505.6 540.3,502.24 539.6,478.7 538.9,468.61 538.2,468.61 537.5,468.6 536.8,468.6 536.1,469.91 535.4,472.19 534.7,473.53 534,473.6 533.3,473.67 532.6,473.74 531.9,473.81 531.2,473.88 530.5,473.95 529.8,473.97 529.1,473.89 528.4,473.8 527.7,473.71 527,473.62 526.3,473.54 525.6,473.4 524.9,473.22 524.2,473.05 523.5,473 522.8,473 522.1,473 521.4,473 520.7,473 520,473 519.3,473 518.6,473 517.9,473 517.2,473 516.5,473 515.8,473 515.1,473 514.4,473 513.7,473 513,473 512.3,473 511.6,473 510.9,473 510.2,473 509.5,473 508.8,473 508.1,473 507.4,473 506.7,473 506,473 505.3,473 504.6,473 503.9,473 503.2,476.67 502.5,484 501.8,484 501.1,484 500.4,479.11 499.7,473 499,473 498.3,485.18 497.6,506.5 496.9,506.5 496.2,506.5 495.5,506.5 494.8,488.23 494.1,473 493.4,473 492.7,473 492,473 491.3,473 490.6,473 489.9,473 489.2,473 488.5,473 487.8,473 487.1,473 486.4,473 485.7,473 485,473 484.3,473 483.6,473 482.9,473 482.2,473 481.5,473 480.8,473 480.1,473 479.4,473 478.7,473 478,473 477.3,473 476.6,473 475.9,473 475.2,473 474.5,473 473.8,473 473.1,473 472.4,473 471.7,473 471,473 470.3,473 469.6,473.44 468.9,474.21 468.2,474.98 467.5,475.28 466.8,475.84 466.1,476 465.4,476 464.7,476 464,475.52 463.3,475.2 462.6,475.2 461.9,475.2 461.2,475.2 460.5,475.2 459.8,479.96 459.1,488.3 458.4,488.3 457.7,488.3 457,488.3 456.3,481.15 455.6,475.2 454.9,475.2 454.2,475.2 453.5,475.2 452.8,475.2 452.1,475.2 451.4,475.2 450.7,475.2 450,475.2 449.3,475.2 448.6,475.2 447.9,475.49 447.2,476 446.5,476 445.8,476 445.1,476 444.4,475.56 443.7,475.2 443,475.2 442.3,475.2 441.6,475.2 440.9,475.2 440.2,475.2 439.5,475.2 438.8,475.2 438.1,475.2 437.4,475.2 436.7,475.71 436,476 435.3,476 434.6,476 433.9,475.85 433.2,475.35 432.5,475.2 431.8,475.2 431.1,475.2 430.4,475.13 429.7,474.66 429,474.18 428.3,473.7 427.6,473.5 426.9,473.5 426.2,473.5 425.5,473.5 424.8,473.5 424.1,473.5 423.4,473.5 422.7,473.5 422,473.5 421.3,473.5 420.6,473.5 419.9,473.5 419.2,473.5 418.5,473.5 417.8,473.5 417.1,473.5 416.4,473.5 415.7,473.5 415,473.5 414.3,473.5 413.6,473.5 412.9,476.38 412.2,480.7 411.5,480.7 410.8,480.7 410.1,479.26 409.4,474.22 408.7,473.5 408,473.5 407.3,473.5 406.6,473.5 405.9,473.5 405.2,473.5 404.5,473.5 403.8,473.5 403.1,473.5 402.4,473.5 401.7,473.5 401,473.5 400.3,473.5 399.6,473.5 398.9,473.5 398.2,473.5 397.5,473.5 396.8,473.5 396.1,473.5 395.4,473.5 394.7,473.5 394,473.5 393.3,473.5 392.6,473.5 391.9,473.5 391.2,473.5 390.5,473.5 389.8,473.5 389.1,473.5 388.4,473.5 387.7,473.5 387,473.5 386.3,473.5 385.6,473.5 384.9,473.5 384.2,473.5 383.5,473.5 382.8,473.5 382.1,473.5 381.4,473.5 380.7,473.5 380,473.5 379.3,473.5 378.6,473.5 377.9,473.5 377.2,473.5 376.5,473.5 375.8,473.5 375.1,473.5 374.4,473.5 373.7,473.5 373,473.5 372.3,473.5 371.6,473.5 370.9,473.5 370.2,473.5 369.5,473.5 368.8,473.5 368.1,473.5 367.4,473.5 366.7,473.5 366,473.5 365.3,473.5 364.6,473.5 363.9,473.5 363.2,473.5 362.5,473.5 361.8,473.5 361.1,473.5 360.4,473.5 359.7,473.5 359,473.5 358.3,473.5 357.6,473.5 356.9,473.5 356.2,473.5 355.5,477.75 354.8,482 354.1,482 353.4,482 352.7,479.45 352,473.5 351.3,473.5 350.6,473.5 349.9,473.5 349.2,473.5 348.5,473.5 347.8,473.5" fill="#dadada"/>
<polyline points="347.85,449.43 348.92,451.22 350.35,453 352.13,454.78 353.56,447.65 354.8,440.52 355.7,454.78 356.59,469.93 357.48,470.82 358.37,470.82 359.26,456.56 360.15,444.09 361.4,436.96 362.29,451.22 363.18,465.48 364.07,458.35 364.96,454.78 365.86,456.56 366.75,458.35 367.64,460.13 368.53,465.48 369.42,470.82 370.31,474.39 371.2,453 372.09,441.41 372.99,444.09 373.88,447.65 374.77,456.56 375.66,460.13 376.55,461.91 377.44,465.48 378.33,476.17 379.22,483.3 380.12,472.61 381.01,467.26 381.9,469.04 382.79,472.61 383.68,477.95 384.57,474.39 385.46,470.82 386.35,473.5 387.25,479.74 388.14,481.52 389.03,483.3 389.92,469.04 390.81,454.78 391.7,458.35 392.59,467.26 393.48,469.04 394.38,470.82 395.27,479.74 396.16,494 397.05,486.87 397.94,477.95 398.83,477.95 399.72,479.74 400.61,458.35 401.51,431.61 402.4,433.39 403.29,437.85 404.18,436.96 405.07,435.17 405.96,447.65 406.85,453 407.75,429.83 408.46,423.59 409.17,433.39 410.06,447.65 410.95,440.52 411.84,429.83 412.74,438.74 413.63,451.22 414.52,454.78 415.41,458.35 416.3,447.65 417.19,436.06 418.08,444.09 418.98,451.22 419.87,458.35 420.76,456.56 421.65,449.43 422.54,454.78 423.43,463.69 424.32,458.35 425.21,451.22 426.11,445.87 427,442.3 427.89,447.65 428.78,458.35 429.67,472.61 430.56,467.26 431.45,463.69 432.34,460.13 433.24,458.35 435,465.48 435.89,479.74 436.78,469.04 437.67,461.91 438.57,456.56 439.46,470.82 440.35,479.74 441.24,490.43 442.13,494.89 443.02,483.3 443.91,474.39 444.8,469.04 445.7,465.48 446.59,467.26 447.48,479.74 448.37,488.65 449.26,479.74 450.15,472.61 451.04,473.5 451.93,472.61 452.83,469.04 453.72,470.82 454.61,469.04 455.5,467.26 456.39,465.48 457.28,467.26 458.17,463.69 459.06,460.13 459.96,458.35 460.85,459.24 461.74,461.91 462.63,465.48 463.52,467.26 464.41,460.13 465.3,454.78 466.19,453 467.09,451.57 467.98,454.78 468.87,460.13 469.76,458.35 470.65,456.56 471.54,453 472.43,452.11 473.32,451.22 474.22,456.56 475.11,467.26 476,468.15 476.89,467.26 477.78,468.15 478.67,467.26 479.56,467.26 480.45,465.48 481.35,454.78 482.24,447.65 483.13,449.43 484.02,454.78 484.91,458.35 485.8,465.48 486.69,470.82 487.58,477.06 488.48,472.61 489.37,454.78 490.26,442.3 491.15,436.96 492.04,438.74 492.93,442.3 493.82,444.98 494.71,438.74 495.61,431.61 496.5,426.26 497.39,429.83 498.28,447.65 499.17,447.65 500.06,444.09 500.95,436.96 501.84,429.83 502.74,447.65 503.63,458.35 504.52,465.48 505.41,469.04 506.3,467.26 507.19,465.48 508.08,461.91 508.98,458.35 509.87,451.22 510.76,442.3 511.65,440.52 512.54,453 513.43,454.78 514.32,455.67 515.21,454.78 516.11,456.56 517,458.35 517.89,460.13 518.78,461.91 519.67,462.27 520.56,460.13 521.45,458.35 522.34,456.56 523.24,455.67 525,460.13 525.89,474.39 526.78,486.87 527.67,490.43 528.57,493.11 529.46,488.65 530.35,485.08 531.24,481.52 532.13,480.63 533.02,481.52 533.91,482.41 534.8,482.41 535.7,483.3 536.59,485.08 537.48,485.98 538.37,485.08 539.26,479.74 540.15,470.82 541.04,463.69 541.93,470.82 542.83,476.17 543.72,469.04 544.61,467.26 545.5,470.82 546.39,474.39 547.28,465.48 548.17,449.43 549.06,448.54 549.96,447.65 550.85,442.3 551.74,438.74 552.63,437.85 553.52,440.52 554.41,440.52 555.3,439.63 556.19,438.74 557.09,437.85 557.98,436.96 558.87,440.52 559.76,447.65 560.65,458.35 561.54,456.56 562.43,453 563.32,447.65 564.22,438.74 565.11,435.17 566,447.65 566.89,461.91 567.78,463.69 568.67,464.58 569.56,456.56 570.45,451.22 571.35,454.78 572.24,469.04 573.13,458.35 574.02,447.65 574.91,449.43 575.8,449.43 576.69,450.32 577.58,453 578.48,456.56 579.37,460.13 580.26,461.91 581.15,465.48 582.04,470.82 582.93,474.39 583.82,469.04 584.71,467.26 585.61,465.48 586.5,463.69 587.39,465.48 588.28,467.26 589.17,463.69 590.06,461.91 590.95,458.35 591.84,454.78 592.74,458.35 593.63,465.48 594.52,474.39 595.41,479.74 596.3,483.3 597.19,486.87 598.08,477.95 598.98,472.61 599.87,470.82 600.76,469.04 601.65,465.48 602.54,460.13 603.43,453 604.32,451.22 605.21,449.43 606.11,446.76 607,451.22 607.89,460.13 608.78,461.91 609.67,453 610.56,442.3 611.45,431.61 612.34,428.04" fill="none" stroke="#4a4a4a" stroke-width="1.4" stroke-linejoin="round"/>
<path d="M347.85,461.55C348.57,461.55 350.82,461.55 352.13,461.55C353.44,461.55 354.51,461.58 355.70,461.55C356.88,461.52 358.07,461.44 359.26,461.38C360.45,461.32 361.64,461.23 362.83,461.20C364.01,461.17 365.20,461.29 366.39,461.20C367.58,461.11 368.77,460.84 369.96,460.66C371.14,460.48 372.48,460.28 373.52,460.13C374.56,459.98 375.30,459.83 376.19,459.77C377.09,459.71 377.83,459.65 378.87,459.77C379.91,459.89 381.24,460.25 382.43,460.48C383.62,460.72 384.81,461.02 386.00,461.20C387.19,461.38 388.37,461.49 389.56,461.55C390.75,461.61 391.94,461.55 393.13,461.55C394.32,461.55 395.51,461.58 396.69,461.55C397.88,461.52 399.07,461.41 400.26,461.38C401.45,461.35 402.64,461.35 403.82,461.38C405.01,461.41 406.35,461.47 407.39,461.55C408.43,461.64 409.32,461.79 410.06,461.91C410.81,462.03 411.10,462.24 411.84,462.27C412.59,462.30 413.48,462.21 414.52,462.09C415.56,461.97 416.90,461.67 418.08,461.55C419.27,461.44 420.46,461.41 421.65,461.38C422.84,461.35 424.03,461.38 425.21,461.38C426.40,461.38 427.59,461.35 428.78,461.38C429.97,461.41 431.30,461.52 432.34,461.55C433.38,461.58 433.98,461.49 435.02,461.55C436.05,461.61 437.38,461.79 438.57,461.91C439.75,462.03 440.94,462.27 442.13,462.27C443.32,462.27 444.51,462.03 445.70,461.91C446.88,461.79 448.07,461.67 449.26,461.55C450.45,461.44 451.64,461.38 452.83,461.20C454.01,461.02 455.20,460.66 456.39,460.48C457.58,460.31 458.77,460.19 459.96,460.13C461.14,460.07 462.33,460.13 463.52,460.13C464.71,460.13 465.90,460.07 467.09,460.13C468.27,460.19 469.46,460.37 470.65,460.48C471.84,460.60 473.03,460.72 474.22,460.84C475.40,460.96 476.59,461.11 477.78,461.20C478.97,461.29 480.16,461.35 481.35,461.38C482.53,461.41 483.72,461.41 484.91,461.38C486.10,461.35 487.29,461.26 488.48,461.20C489.66,461.14 490.85,461.08 492.04,461.02C493.23,460.96 494.42,460.87 495.61,460.84C496.79,460.81 497.98,460.81 499.17,460.84C500.36,460.87 501.55,460.96 502.74,461.02C503.92,461.08 505.11,461.17 506.30,461.20C507.49,461.23 508.68,461.20 509.87,461.20C511.05,461.20 512.24,461.17 513.43,461.20C514.62,461.23 515.81,461.35 517.00,461.38C518.18,461.41 519.22,461.38 520.56,461.38C521.90,461.38 523.68,461.29 525.02,461.38C526.35,461.47 527.38,461.82 528.57,461.91C529.75,462.00 530.94,461.97 532.13,461.91C533.32,461.85 534.51,461.67 535.70,461.55C536.88,461.44 538.07,461.32 539.26,461.20C540.45,461.08 541.64,460.96 542.83,460.84C544.01,460.72 545.20,460.54 546.39,460.48C547.58,460.43 548.77,460.46 549.96,460.48C551.14,460.51 552.33,460.57 553.52,460.66C554.71,460.75 555.90,460.87 557.09,461.02C558.27,461.17 559.46,461.41 560.65,461.55C561.84,461.70 563.03,461.82 564.22,461.91C565.40,462.00 566.59,462.15 567.78,462.09C568.97,462.03 570.16,461.73 571.35,461.55C572.53,461.38 573.72,461.17 574.91,461.02C576.10,460.87 577.29,460.81 578.48,460.66C579.66,460.51 580.85,460.28 582.04,460.13C583.23,459.98 584.42,459.77 585.61,459.77C586.79,459.77 587.98,459.95 589.17,460.13C590.36,460.31 591.55,460.66 592.74,460.84C593.92,461.02 595.11,461.02 596.30,461.20C597.49,461.38 598.68,461.79 599.87,461.91C601.05,462.03 602.24,462.03 603.43,461.91C604.62,461.79 605.81,461.41 607.00,461.20C608.18,460.99 609.67,460.78 610.56,460.66C611.45,460.54 612.05,460.51 612.34,460.48" fill="none" stroke="#0000ff" stroke-width="1.45" stroke-linejoin="round"/>
</g>
<g clip-path="url(#c2Ru)">
<polyline points="348.04,372.13 349.78,372.57 351.52,373.65 353.26,373.65 354.78,372.13 355.87,374.74 356.96,379.09 358.48,380.83 360.22,379.09 361.96,380.17 362.83,384.52 364.13,387.78 365.65,388.87 367.17,391.7 368.91,393.87 370.43,396.04 371.52,392.57 372.83,389.52 374.35,389.52 375.87,390.39 377.61,390.39 379.35,392.13 380.87,388.87 382.39,388.22 384.13,389.52 385.87,389.96 387.39,391.04 388.91,392.13 390.22,388.87 391.3,386.7 392.83,387.78 394.57,388.22 396.09,390.39 397.17,388.22 398.26,385.17 399.78,383 401.09,376.91 401.96,371.48 403.7,370.83 405.43,369.3 406.96,371.48 408.48,366.48 409.78,368.65 411.3,370.39 412.39,368.22 413.48,370.39 414.57,373.65 416.3,374.74 417.83,370.39 419.35,373 420.65,374.3 422.17,371.48 423.7,372.57 425.43,371.48 427.17,368.22 428.04,366.48 429.35,371.48 430.87,369.3 432.39,368.22 434.13,367.13 435.87,368.65 437.39,368.22 438.91,366.04 440.65,369.96 442.39,372.57 443.91,370.83 445.43,368.65 446.74,369.3 448.26,373 449.35,374.74 451.09,373.65 452.61,375.17 454.13,376.48 455.87,377.35 457.61,378.65 459.13,378.65 460.65,379.52 462.39,381.26 464.13,381.7 465.65,380.83 467.17,380.17 468.91,381.7 470.65,380.83 472.17,380.17 473.7,379.52 475.43,381.7 477.17,381.26 478.7,380.83 480.22,379.52 482,378.65 483.74,376.48 485.26,377.35 486.78,378.65 488.09,380.17 489.61,375.83 491.13,372.13 492.87,373 494.17,374.3 495.48,372.13 496.78,370.39 497.65,373.65 498.96,374.74 500.48,375.83 502,374.3 503.3,376.91 504.17,381.26 505.48,384.09 507,384.52 508.52,384.09 509.83,382.35 510.91,379.52 512,381.26 513.52,380.83 515.04,381.26 516.78,381.26 518.52,381.26 520.04,380.83 521.57,380.83 522.87,381.26 524.39,383.43 525.91,386.7 527.65,390.39 529.39,392.13 530.91,392.57 532.43,392.13 534.17,392.78 535.91,393.22 537.43,394.3 538.96,393.87 540.26,391.7 541.13,388.87 542.43,390.39 543.96,388.22 545.48,388.87 546.78,386.7 548.3,383.43 549.83,380.83 551.57,378.65 553.3,376.91 554.83,375.83 556.35,374.3 558.09,373 559.83,373.65 561.35,374.74 562.87,373.65 564.17,370.83 565.04,369.96 566.35,374.74 567.87,374.3 569.39,375.83 570.7,374.74 572.22,373 573.3,376.91 574.39,373.65 575.91,374.3 577.65,374.74 579.39,376.48 580.91,378 582.43,380.83 584.17,381.7 585.91,381.26 587.43,381.7 588.96,382.35 590.7,380.83 592.43,380.17 593.96,381.26 595.48,383 597.22,385.17 598.96,383 600.48,381.26 602,380.83 603.74,379.52 605.48,378 607,378 608.09,381.26 609.83,379.52 611.35,378 612.43,376.48" fill="none" stroke="#008000" stroke-width="1.4" stroke-linejoin="round"/>
</g>
<line x1="46.44" y1="0.4" x2="46.44" y2="2.62" stroke="#000" stroke-width="1.2"/>
<line x1="46.44" y1="58.65" x2="46.44" y2="56.43" stroke="#000" stroke-width="1.2"/>
<line x1="46.44" y1="58.65" x2="46.44" y2="60.87" stroke="#000" stroke-width="1.2"/>
<line x1="46.44" y1="153.35" x2="46.44" y2="151.13" stroke="#000" stroke-width="1.2"/>
<line x1="52.38" y1="0.4" x2="52.38" y2="2.62" stroke="#000" stroke-width="1.2"/>
<line x1="52.38" y1="58.65" x2="52.38" y2="56.43" stroke="#000" stroke-width="1.2"/>
<line x1="52.38" y1="58.65" x2="52.38" y2="60.87" stroke="#000" stroke-width="1.2"/>
<line x1="52.38" y1="153.35" x2="52.38" y2="151.13" stroke="#000" stroke-width="1.2"/>
<line x1="58.33" y1="0.4" x2="58.33" y2="2.62" stroke="#000" stroke-width="1.2"/>
<line x1="58.33" y1="58.65" x2="58.33" y2="56.43" stroke="#000" stroke-width="1.2"/>
<line x1="58.33" y1="58.65" x2="58.33" y2="60.87" stroke="#000" stroke-width="1.2"/>
<line x1="58.33" y1="153.35" x2="58.33" y2="151.13" stroke="#000" stroke-width="1.2"/>
<line x1="64.27" y1="0.4" x2="64.27" y2="2.62" stroke="#000" stroke-width="1.2"/>
<line x1="64.27" y1="58.65" x2="64.27" y2="56.43" stroke="#000" stroke-width="1.2"/>
<line x1="64.27" y1="58.65" x2="64.27" y2="60.87" stroke="#000" stroke-width="1.2"/>
<line x1="64.27" y1="153.35" x2="64.27" y2="151.13" stroke="#000" stroke-width="1.2"/>
<line x1="70.21" y1="0.4" x2="70.21" y2="2.62" stroke="#000" stroke-width="1.2"/>
<line x1="70.21" y1="58.65" x2="70.21" y2="56.43" stroke="#000" stroke-width="1.2"/>
<line x1="70.21" y1="58.65" x2="70.21" y2="60.87" stroke="#000" stroke-width="1.2"/>
<line x1="70.21" y1="153.35" x2="70.21" y2="151.13" stroke="#000" stroke-width="1.2"/>
<line x1="76.15" y1="0.4" x2="76.15" y2="2.62" stroke="#000" stroke-width="1.2"/>
<line x1="76.15" y1="58.65" x2="76.15" y2="56.43" stroke="#000" stroke-width="1.2"/>
<line x1="76.15" y1="58.65" x2="76.15" y2="60.87" stroke="#000" stroke-width="1.2"/>
<line x1="76.15" y1="153.35" x2="76.15" y2="151.13" stroke="#000" stroke-width="1.2"/>
<line x1="82.1" y1="0.4" x2="82.1" y2="2.62" stroke="#000" stroke-width="1.2"/>
<line x1="82.1" y1="58.65" x2="82.1" y2="56.43" stroke="#000" stroke-width="1.2"/>
<line x1="82.1" y1="58.65" x2="82.1" y2="60.87" stroke="#000" stroke-width="1.2"/>
<line x1="82.1" y1="153.35" x2="82.1" y2="151.13" stroke="#000" stroke-width="1.2"/>
<line x1="88.04" y1="0.4" x2="88.04" y2="2.62" stroke="#000" stroke-width="1.2"/>
<line x1="88.04" y1="58.65" x2="88.04" y2="56.43" stroke="#000" stroke-width="1.2"/>
<line x1="88.04" y1="58.65" x2="88.04" y2="60.87" stroke="#000" stroke-width="1.2"/>
<line x1="88.04" y1="153.35" x2="88.04" y2="151.13" stroke="#000" stroke-width="1.2"/>
<line x1="93.98" y1="0.4" x2="93.98" y2="2.62" stroke="#000" stroke-width="1.2"/>
<line x1="93.98" y1="58.65" x2="93.98" y2="56.43" stroke="#000" stroke-width="1.2"/>
<line x1="93.98" y1="58.65" x2="93.98" y2="60.87" stroke="#000" stroke-width="1.2"/>
<line x1="93.98" y1="153.35" x2="93.98" y2="151.13" stroke="#000" stroke-width="1.2"/>
<line x1="99.92" y1="0.4" x2="99.92" y2="4.84" stroke="#000" stroke-width="1.2"/>
<line x1="99.92" y1="58.65" x2="99.92" y2="54.21" stroke="#000" stroke-width="1.2"/>
<line x1="99.92" y1="58.65" x2="99.92" y2="63.09" stroke="#000" stroke-width="1.2"/>
<line x1="99.92" y1="153.35" x2="99.92" y2="148.91" stroke="#000" stroke-width="1.2"/>
<line x1="105.86" y1="0.4" x2="105.86" y2="2.62" stroke="#000" stroke-width="1.2"/>
<line x1="105.86" y1="58.65" x2="105.86" y2="56.43" stroke="#000" stroke-width="1.2"/>
<line x1="105.86" y1="58.65" x2="105.86" y2="60.87" stroke="#000" stroke-width="1.2"/>
<line x1="105.86" y1="153.35" x2="105.86" y2="151.13" stroke="#000" stroke-width="1.2"/>
<line x1="111.81" y1="0.4" x2="111.81" y2="2.62" stroke="#000" stroke-width="1.2"/>
<line x1="111.81" y1="58.65" x2="111.81" y2="56.43" stroke="#000" stroke-width="1.2"/>
<line x1="111.81" y1="58.65" x2="111.81" y2="60.87" stroke="#000" stroke-width="1.2"/>
<line x1="111.81" y1="153.35" x2="111.81" y2="151.13" stroke="#000" stroke-width="1.2"/>
<line x1="117.75" y1="0.4" x2="117.75" y2="2.62" stroke="#000" stroke-width="1.2"/>
<line x1="117.75" y1="58.65" x2="117.75" y2="56.43" stroke="#000" stroke-width="1.2"/>
<line x1="117.75" y1="58.65" x2="117.75" y2="60.87" stroke="#000" stroke-width="1.2"/>
<line x1="117.75" y1="153.35" x2="117.75" y2="151.13" stroke="#000" stroke-width="1.2"/>
<line x1="123.69" y1="0.4" x2="123.69" y2="2.62" stroke="#000" stroke-width="1.2"/>
<line x1="123.69" y1="58.65" x2="123.69" y2="56.43" stroke="#000" stroke-width="1.2"/>
<line x1="123.69" y1="58.65" x2="123.69" y2="60.87" stroke="#000" stroke-width="1.2"/>
<line x1="123.69" y1="153.35" x2="123.69" y2="151.13" stroke="#000" stroke-width="1.2"/>
<line x1="129.63" y1="0.4" x2="129.63" y2="2.62" stroke="#000" stroke-width="1.2"/>
<line x1="129.63" y1="58.65" x2="129.63" y2="56.43" stroke="#000" stroke-width="1.2"/>
<line x1="129.63" y1="58.65" x2="129.63" y2="60.87" stroke="#000" stroke-width="1.2"/>
<line x1="129.63" y1="153.35" x2="129.63" y2="151.13" stroke="#000" stroke-width="1.2"/>
<line x1="135.58" y1="0.4" x2="135.58" y2="2.62" stroke="#000" stroke-width="1.2"/>
<line x1="135.58" y1="58.65" x2="135.58" y2="56.43" stroke="#000" stroke-width="1.2"/>
<line x1="135.58" y1="58.65" x2="135.58" y2="60.87" stroke="#000" stroke-width="1.2"/>
<line x1="135.58" y1="153.35" x2="135.58" y2="151.13" stroke="#000" stroke-width="1.2"/>
<line x1="141.52" y1="0.4" x2="141.52" y2="2.62" stroke="#000" stroke-width="1.2"/>
<line x1="141.52" y1="58.65" x2="141.52" y2="56.43" stroke="#000" stroke-width="1.2"/>
<line x1="141.52" y1="58.65" x2="141.52" y2="60.87" stroke="#000" stroke-width="1.2"/>
<line x1="141.52" y1="153.35" x2="141.52" y2="151.13" stroke="#000" stroke-width="1.2"/>
<line x1="147.46" y1="0.4" x2="147.46" y2="2.62" stroke="#000" stroke-width="1.2"/>
<line x1="147.46" y1="58.65" x2="147.46" y2="56.43" stroke="#000" stroke-width="1.2"/>
<line x1="147.46" y1="58.65" x2="147.46" y2="60.87" stroke="#000" stroke-width="1.2"/>
<line x1="147.46" y1="153.35" x2="147.46" y2="151.13" stroke="#000" stroke-width="1.2"/>
<line x1="153.4" y1="0.4" x2="153.4" y2="2.62" stroke="#000" stroke-width="1.2"/>
<line x1="153.4" y1="58.65" x2="153.4" y2="56.43" stroke="#000" stroke-width="1.2"/>
<line x1="153.4" y1="58.65" x2="153.4" y2="60.87" stroke="#000" stroke-width="1.2"/>
<line x1="153.4" y1="153.35" x2="153.4" y2="151.13" stroke="#000" stroke-width="1.2"/>
<line x1="159.34" y1="0.4" x2="159.34" y2="4.84" stroke="#000" stroke-width="1.2"/>
<line x1="159.34" y1="58.65" x2="159.34" y2="54.21" stroke="#000" stroke-width="1.2"/>
<line x1="159.34" y1="58.65" x2="159.34" y2="63.09" stroke="#000" stroke-width="1.2"/>
<line x1="159.34" y1="153.35" x2="159.34" y2="148.91" stroke="#000" stroke-width="1.2"/>
<line x1="165.29" y1="0.4" x2="165.29" y2="2.62" stroke="#000" stroke-width="1.2"/>
<line x1="165.29" y1="58.65" x2="165.29" y2="56.43" stroke="#000" stroke-width="1.2"/>
<line x1="165.29" y1="58.65" x2="165.29" y2="60.87" stroke="#000" stroke-width="1.2"/>
<line x1="165.29" y1="153.35" x2="165.29" y2="151.13" stroke="#000" stroke-width="1.2"/>
<line x1="171.23" y1="0.4" x2="171.23" y2="2.62" stroke="#000" stroke-width="1.2"/>
<line x1="171.23" y1="58.65" x2="171.23" y2="56.43" stroke="#000" stroke-width="1.2"/>
<line x1="171.23" y1="58.65" x2="171.23" y2="60.87" stroke="#000" stroke-width="1.2"/>
<line x1="171.23" y1="153.35" x2="171.23" y2="151.13" stroke="#000" stroke-width="1.2"/>
<line x1="177.17" y1="0.4" x2="177.17" y2="2.62" stroke="#000" stroke-width="1.2"/>
<line x1="177.17" y1="58.65" x2="177.17" y2="56.43" stroke="#000" stroke-width="1.2"/>
<line x1="177.17" y1="58.65" x2="177.17" y2="60.87" stroke="#000" stroke-width="1.2"/>
<line x1="177.17" y1="153.35" x2="177.17" y2="151.13" stroke="#000" stroke-width="1.2"/>
<line x1="183.11" y1="0.4" x2="183.11" y2="2.62" stroke="#000" stroke-width="1.2"/>
<line x1="183.11" y1="58.65" x2="183.11" y2="56.43" stroke="#000" stroke-width="1.2"/>
<line x1="183.11" y1="58.65" x2="183.11" y2="60.87" stroke="#000" stroke-width="1.2"/>
<line x1="183.11" y1="153.35" x2="183.11" y2="151.13" stroke="#000" stroke-width="1.2"/>
<line x1="189.06" y1="0.4" x2="189.06" y2="2.62" stroke="#000" stroke-width="1.2"/>
<line x1="189.06" y1="58.65" x2="189.06" y2="56.43" stroke="#000" stroke-width="1.2"/>
<line x1="189.06" y1="58.65" x2="189.06" y2="60.87" stroke="#000" stroke-width="1.2"/>
<line x1="189.06" y1="153.35" x2="189.06" y2="151.13" stroke="#000" stroke-width="1.2"/>
<line x1="195" y1="0.4" x2="195" y2="2.62" stroke="#000" stroke-width="1.2"/>
<line x1="195" y1="58.65" x2="195" y2="56.43" stroke="#000" stroke-width="1.2"/>
<line x1="195" y1="58.65" x2="195" y2="60.87" stroke="#000" stroke-width="1.2"/>
<line x1="195" y1="153.35" x2="195" y2="151.13" stroke="#000" stroke-width="1.2"/>
<line x1="200.94" y1="0.4" x2="200.94" y2="2.62" stroke="#000" stroke-width="1.2"/>
<line x1="200.94" y1="58.65" x2="200.94" y2="56.43" stroke="#000" stroke-width="1.2"/>
<line x1="200.94" y1="58.65" x2="200.94" y2="60.87" stroke="#000" stroke-width="1.2"/>
<line x1="200.94" y1="153.35" x2="200.94" y2="151.13" stroke="#000" stroke-width="1.2"/>
<line x1="206.88" y1="0.4" x2="206.88" y2="2.62" stroke="#000" stroke-width="1.2"/>
<line x1="206.88" y1="58.65" x2="206.88" y2="56.43" stroke="#000" stroke-width="1.2"/>
<line x1="206.88" y1="58.65" x2="206.88" y2="60.87" stroke="#000" stroke-width="1.2"/>
<line x1="206.88" y1="153.35" x2="206.88" y2="151.13" stroke="#000" stroke-width="1.2"/>
<line x1="212.82" y1="0.4" x2="212.82" y2="2.62" stroke="#000" stroke-width="1.2"/>
<line x1="212.82" y1="58.65" x2="212.82" y2="56.43" stroke="#000" stroke-width="1.2"/>
<line x1="212.82" y1="58.65" x2="212.82" y2="60.87" stroke="#000" stroke-width="1.2"/>
<line x1="212.82" y1="153.35" x2="212.82" y2="151.13" stroke="#000" stroke-width="1.2"/>
<line x1="218.77" y1="0.4" x2="218.77" y2="4.84" stroke="#000" stroke-width="1.2"/>
<line x1="218.77" y1="58.65" x2="218.77" y2="54.21" stroke="#000" stroke-width="1.2"/>
<line x1="218.77" y1="58.65" x2="218.77" y2="63.09" stroke="#000" stroke-width="1.2"/>
<line x1="218.77" y1="153.35" x2="218.77" y2="148.91" stroke="#000" stroke-width="1.2"/>
<line x1="224.71" y1="0.4" x2="224.71" y2="2.62" stroke="#000" stroke-width="1.2"/>
<line x1="224.71" y1="58.65" x2="224.71" y2="56.43" stroke="#000" stroke-width="1.2"/>
<line x1="224.71" y1="58.65" x2="224.71" y2="60.87" stroke="#000" stroke-width="1.2"/>
<line x1="224.71" y1="153.35" x2="224.71" y2="151.13" stroke="#000" stroke-width="1.2"/>
<line x1="230.65" y1="0.4" x2="230.65" y2="2.62" stroke="#000" stroke-width="1.2"/>
<line x1="230.65" y1="58.65" x2="230.65" y2="56.43" stroke="#000" stroke-width="1.2"/>
<line x1="230.65" y1="58.65" x2="230.65" y2="60.87" stroke="#000" stroke-width="1.2"/>
<line x1="230.65" y1="153.35" x2="230.65" y2="151.13" stroke="#000" stroke-width="1.2"/>
<line x1="236.59" y1="0.4" x2="236.59" y2="2.62" stroke="#000" stroke-width="1.2"/>
<line x1="236.59" y1="58.65" x2="236.59" y2="56.43" stroke="#000" stroke-width="1.2"/>
<line x1="236.59" y1="58.65" x2="236.59" y2="60.87" stroke="#000" stroke-width="1.2"/>
<line x1="236.59" y1="153.35" x2="236.59" y2="151.13" stroke="#000" stroke-width="1.2"/>
<line x1="242.54" y1="0.4" x2="242.54" y2="2.62" stroke="#000" stroke-width="1.2"/>
<line x1="242.54" y1="58.65" x2="242.54" y2="56.43" stroke="#000" stroke-width="1.2"/>
<line x1="242.54" y1="58.65" x2="242.54" y2="60.87" stroke="#000" stroke-width="1.2"/>
<line x1="242.54" y1="153.35" x2="242.54" y2="151.13" stroke="#000" stroke-width="1.2"/>
<line x1="248.48" y1="0.4" x2="248.48" y2="2.62" stroke="#000" stroke-width="1.2"/>
<line x1="248.48" y1="58.65" x2="248.48" y2="56.43" stroke="#000" stroke-width="1.2"/>
<line x1="248.48" y1="58.65" x2="248.48" y2="60.87" stroke="#000" stroke-width="1.2"/>
<line x1="248.48" y1="153.35" x2="248.48" y2="151.13" stroke="#000" stroke-width="1.2"/>
<line x1="254.42" y1="0.4" x2="254.42" y2="2.62" stroke="#000" stroke-width="1.2"/>
<line x1="254.42" y1="58.65" x2="254.42" y2="56.43" stroke="#000" stroke-width="1.2"/>
<line x1="254.42" y1="58.65" x2="254.42" y2="60.87" stroke="#000" stroke-width="1.2"/>
<line x1="254.42" y1="153.35" x2="254.42" y2="151.13" stroke="#000" stroke-width="1.2"/>
<line x1="260.36" y1="0.4" x2="260.36" y2="2.62" stroke="#000" stroke-width="1.2"/>
<line x1="260.36" y1="58.65" x2="260.36" y2="56.43" stroke="#000" stroke-width="1.2"/>
<line x1="260.36" y1="58.65" x2="260.36" y2="60.87" stroke="#000" stroke-width="1.2"/>
<line x1="260.36" y1="153.35" x2="260.36" y2="151.13" stroke="#000" stroke-width="1.2"/>
<line x1="266.3" y1="0.4" x2="266.3" y2="2.62" stroke="#000" stroke-width="1.2"/>
<line x1="266.3" y1="58.65" x2="266.3" y2="56.43" stroke="#000" stroke-width="1.2"/>
<line x1="266.3" y1="58.65" x2="266.3" y2="60.87" stroke="#000" stroke-width="1.2"/>
<line x1="266.3" y1="153.35" x2="266.3" y2="151.13" stroke="#000" stroke-width="1.2"/>
<line x1="272.25" y1="0.4" x2="272.25" y2="2.62" stroke="#000" stroke-width="1.2"/>
<line x1="272.25" y1="58.65" x2="272.25" y2="56.43" stroke="#000" stroke-width="1.2"/>
<line x1="272.25" y1="58.65" x2="272.25" y2="60.87" stroke="#000" stroke-width="1.2"/>
<line x1="272.25" y1="153.35" x2="272.25" y2="151.13" stroke="#000" stroke-width="1.2"/>
<line x1="278.19" y1="0.4" x2="278.19" y2="4.84" stroke="#000" stroke-width="1.2"/>
<line x1="278.19" y1="58.65" x2="278.19" y2="54.21" stroke="#000" stroke-width="1.2"/>
<line x1="278.19" y1="58.65" x2="278.19" y2="63.09" stroke="#000" stroke-width="1.2"/>
<line x1="278.19" y1="153.35" x2="278.19" y2="148.91" stroke="#000" stroke-width="1.2"/>
<line x1="284.13" y1="0.4" x2="284.13" y2="2.62" stroke="#000" stroke-width="1.2"/>
<line x1="284.13" y1="58.65" x2="284.13" y2="56.43" stroke="#000" stroke-width="1.2"/>
<line x1="284.13" y1="58.65" x2="284.13" y2="60.87" stroke="#000" stroke-width="1.2"/>
<line x1="284.13" y1="153.35" x2="284.13" y2="151.13" stroke="#000" stroke-width="1.2"/>
<line x1="290.07" y1="0.4" x2="290.07" y2="2.62" stroke="#000" stroke-width="1.2"/>
<line x1="290.07" y1="58.65" x2="290.07" y2="56.43" stroke="#000" stroke-width="1.2"/>
<line x1="290.07" y1="58.65" x2="290.07" y2="60.87" stroke="#000" stroke-width="1.2"/>
<line x1="290.07" y1="153.35" x2="290.07" y2="151.13" stroke="#000" stroke-width="1.2"/>
<line x1="296.02" y1="0.4" x2="296.02" y2="2.62" stroke="#000" stroke-width="1.2"/>
<line x1="296.02" y1="58.65" x2="296.02" y2="56.43" stroke="#000" stroke-width="1.2"/>
<line x1="296.02" y1="58.65" x2="296.02" y2="60.87" stroke="#000" stroke-width="1.2"/>
<line x1="296.02" y1="153.35" x2="296.02" y2="151.13" stroke="#000" stroke-width="1.2"/>
<line x1="301.96" y1="0.4" x2="301.96" y2="2.62" stroke="#000" stroke-width="1.2"/>
<line x1="301.96" y1="58.65" x2="301.96" y2="56.43" stroke="#000" stroke-width="1.2"/>
<line x1="301.96" y1="58.65" x2="301.96" y2="60.87" stroke="#000" stroke-width="1.2"/>
<line x1="301.96" y1="153.35" x2="301.96" y2="151.13" stroke="#000" stroke-width="1.2"/>
<line x1="40.5" y1="149.71" x2="42.72" y2="149.71" stroke="#000" stroke-width="1.2"/>
<line x1="307.9" y1="149.71" x2="305.68" y2="149.71" stroke="#000" stroke-width="1.2"/>
<line x1="40.5" y1="146.07" x2="44.94" y2="146.07" stroke="#000" stroke-width="1.2"/>
<line x1="307.9" y1="146.07" x2="303.46" y2="146.07" stroke="#000" stroke-width="1.2"/>
<line x1="40.5" y1="142.42" x2="42.72" y2="142.42" stroke="#000" stroke-width="1.2"/>
<line x1="307.9" y1="142.42" x2="305.68" y2="142.42" stroke="#000" stroke-width="1.2"/>
<line x1="40.5" y1="138.78" x2="42.72" y2="138.78" stroke="#000" stroke-width="1.2"/>
<line x1="307.9" y1="138.78" x2="305.68" y2="138.78" stroke="#000" stroke-width="1.2"/>
<line x1="40.5" y1="135.14" x2="42.72" y2="135.14" stroke="#000" stroke-width="1.2"/>
<line x1="307.9" y1="135.14" x2="305.68" y2="135.14" stroke="#000" stroke-width="1.2"/>
<line x1="40.5" y1="131.5" x2="44.94" y2="131.5" stroke="#000" stroke-width="1.2"/>
<line x1="307.9" y1="131.5" x2="303.46" y2="131.5" stroke="#000" stroke-width="1.2"/>
<line x1="40.5" y1="127.85" x2="42.72" y2="127.85" stroke="#000" stroke-width="1.2"/>
<line x1="307.9" y1="127.85" x2="305.68" y2="127.85" stroke="#000" stroke-width="1.2"/>
<line x1="40.5" y1="124.21" x2="42.72" y2="124.21" stroke="#000" stroke-width="1.2"/>
<line x1="307.9" y1="124.21" x2="305.68" y2="124.21" stroke="#000" stroke-width="1.2"/>
<line x1="40.5" y1="120.57" x2="42.72" y2="120.57" stroke="#000" stroke-width="1.2"/>
<line x1="307.9" y1="120.57" x2="305.68" y2="120.57" stroke="#000" stroke-width="1.2"/>
<line x1="40.5" y1="116.93" x2="44.94" y2="116.93" stroke="#000" stroke-width="1.2"/>
<line x1="307.9" y1="116.93" x2="303.46" y2="116.93" stroke="#000" stroke-width="1.2"/>
<line x1="40.5" y1="113.28" x2="42.72" y2="113.28" stroke="#000" stroke-width="1.2"/>
<line x1="307.9" y1="113.28" x2="305.68" y2="113.28" stroke="#000" stroke-width="1.2"/>
<line x1="40.5" y1="109.64" x2="42.72" y2="109.64" stroke="#000" stroke-width="1.2"/>
<line x1="307.9" y1="109.64" x2="305.68" y2="109.64" stroke="#000" stroke-width="1.2"/>
<line x1="40.5" y1="106" x2="42.72" y2="106" stroke="#000" stroke-width="1.2"/>
<line x1="307.9" y1="106" x2="305.68" y2="106" stroke="#000" stroke-width="1.2"/>
<line x1="40.5" y1="102.36" x2="44.94" y2="102.36" stroke="#000" stroke-width="1.2"/>
<line x1="307.9" y1="102.36" x2="303.46" y2="102.36" stroke="#000" stroke-width="1.2"/>
<line x1="40.5" y1="98.72" x2="42.72" y2="98.72" stroke="#000" stroke-width="1.2"/>
<line x1="307.9" y1="98.72" x2="305.68" y2="98.72" stroke="#000" stroke-width="1.2"/>
<line x1="40.5" y1="95.07" x2="42.72" y2="95.07" stroke="#000" stroke-width="1.2"/>
<line x1="307.9" y1="95.07" x2="305.68" y2="95.07" stroke="#000" stroke-width="1.2"/>
<line x1="40.5" y1="91.43" x2="42.72" y2="91.43" stroke="#000" stroke-width="1.2"/>
<line x1="307.9" y1="91.43" x2="305.68" y2="91.43" stroke="#000" stroke-width="1.2"/>
<line x1="40.5" y1="87.79" x2="44.94" y2="87.79" stroke="#000" stroke-width="1.2"/>
<line x1="307.9" y1="87.79" x2="303.46" y2="87.79" stroke="#000" stroke-width="1.2"/>
<line x1="40.5" y1="84.15" x2="42.72" y2="84.15" stroke="#000" stroke-width="1.2"/>
<line x1="307.9" y1="84.15" x2="305.68" y2="84.15" stroke="#000" stroke-width="1.2"/>
<line x1="40.5" y1="80.5" x2="42.72" y2="80.5" stroke="#000" stroke-width="1.2"/>
<line x1="307.9" y1="80.5" x2="305.68" y2="80.5" stroke="#000" stroke-width="1.2"/>
<line x1="40.5" y1="76.86" x2="42.72" y2="76.86" stroke="#000" stroke-width="1.2"/>
<line x1="307.9" y1="76.86" x2="305.68" y2="76.86" stroke="#000" stroke-width="1.2"/>
<line x1="40.5" y1="73.22" x2="44.94" y2="73.22" stroke="#000" stroke-width="1.2"/>
<line x1="307.9" y1="73.22" x2="303.46" y2="73.22" stroke="#000" stroke-width="1.2"/>
<line x1="40.5" y1="69.58" x2="42.72" y2="69.58" stroke="#000" stroke-width="1.2"/>
<line x1="307.9" y1="69.58" x2="305.68" y2="69.58" stroke="#000" stroke-width="1.2"/>
<line x1="40.5" y1="65.93" x2="42.72" y2="65.93" stroke="#000" stroke-width="1.2"/>
<line x1="307.9" y1="65.93" x2="305.68" y2="65.93" stroke="#000" stroke-width="1.2"/>
<line x1="40.5" y1="62.29" x2="42.72" y2="62.29" stroke="#000" stroke-width="1.2"/>
<line x1="307.9" y1="62.29" x2="305.68" y2="62.29" stroke="#000" stroke-width="1.2"/>
<line x1="40.5" y1="2.2" x2="44.94" y2="2.2" stroke="#000" stroke-width="1.2"/>
<line x1="307.9" y1="2.2" x2="303.46" y2="2.2" stroke="#000" stroke-width="1.2"/>
<line x1="40.5" y1="5.52" x2="42.72" y2="5.52" stroke="#000" stroke-width="1.2"/>
<line x1="307.9" y1="5.52" x2="305.68" y2="5.52" stroke="#000" stroke-width="1.2"/>
<line x1="40.5" y1="8.83" x2="44.94" y2="8.83" stroke="#000" stroke-width="1.2"/>
<line x1="307.9" y1="8.83" x2="303.46" y2="8.83" stroke="#000" stroke-width="1.2"/>
<line x1="40.5" y1="12.15" x2="42.72" y2="12.15" stroke="#000" stroke-width="1.2"/>
<line x1="307.9" y1="12.15" x2="305.68" y2="12.15" stroke="#000" stroke-width="1.2"/>
<line x1="40.5" y1="15.46" x2="44.94" y2="15.46" stroke="#000" stroke-width="1.2"/>
<line x1="307.9" y1="15.46" x2="303.46" y2="15.46" stroke="#000" stroke-width="1.2"/>
<line x1="40.5" y1="18.78" x2="42.72" y2="18.78" stroke="#000" stroke-width="1.2"/>
<line x1="307.9" y1="18.78" x2="305.68" y2="18.78" stroke="#000" stroke-width="1.2"/>
<line x1="40.5" y1="22.09" x2="44.94" y2="22.09" stroke="#000" stroke-width="1.2"/>
<line x1="307.9" y1="22.09" x2="303.46" y2="22.09" stroke="#000" stroke-width="1.2"/>
<line x1="40.5" y1="25.41" x2="42.72" y2="25.41" stroke="#000" stroke-width="1.2"/>
<line x1="307.9" y1="25.41" x2="305.68" y2="25.41" stroke="#000" stroke-width="1.2"/>
<line x1="40.5" y1="28.72" x2="44.94" y2="28.72" stroke="#000" stroke-width="1.2"/>
<line x1="307.9" y1="28.72" x2="303.46" y2="28.72" stroke="#000" stroke-width="1.2"/>
<line x1="40.5" y1="32.03" x2="42.72" y2="32.03" stroke="#000" stroke-width="1.2"/>
<line x1="307.9" y1="32.03" x2="305.68" y2="32.03" stroke="#000" stroke-width="1.2"/>
<line x1="40.5" y1="35.35" x2="44.94" y2="35.35" stroke="#000" stroke-width="1.2"/>
<line x1="307.9" y1="35.35" x2="303.46" y2="35.35" stroke="#000" stroke-width="1.2"/>
<line x1="40.5" y1="38.66" x2="42.72" y2="38.66" stroke="#000" stroke-width="1.2"/>
<line x1="307.9" y1="38.66" x2="305.68" y2="38.66" stroke="#000" stroke-width="1.2"/>
<line x1="40.5" y1="41.98" x2="44.94" y2="41.98" stroke="#000" stroke-width="1.2"/>
<line x1="307.9" y1="41.98" x2="303.46" y2="41.98" stroke="#000" stroke-width="1.2"/>
<line x1="40.5" y1="45.3" x2="42.72" y2="45.3" stroke="#000" stroke-width="1.2"/>
<line x1="307.9" y1="45.3" x2="305.68" y2="45.3" stroke="#000" stroke-width="1.2"/>
<line x1="40.5" y1="48.61" x2="44.94" y2="48.61" stroke="#000" stroke-width="1.2"/>
<line x1="307.9" y1="48.61" x2="303.46" y2="48.61" stroke="#000" stroke-width="1.2"/>
<line x1="40.5" y1="51.93" x2="42.72" y2="51.93" stroke="#000" stroke-width="1.2"/>
<line x1="307.9" y1="51.93" x2="305.68" y2="51.93" stroke="#000" stroke-width="1.2"/>
<line x1="40.5" y1="55.24" x2="44.94" y2="55.24" stroke="#000" stroke-width="1.2"/>
<line x1="307.9" y1="55.24" x2="303.46" y2="55.24" stroke="#000" stroke-width="1.2"/>
<rect x="40.5" y="0.4" width="267.4" height="152.95" fill="none" stroke="#000" stroke-width="1.2"/>
<line x1="40.5" y1="58.65" x2="307.9" y2="58.65" stroke="#000" stroke-width="1.2"/>
<line x1="352.67" y1="0.4" x2="352.67" y2="2.62" stroke="#000" stroke-width="1.2"/>
<line x1="352.67" y1="58.65" x2="352.67" y2="56.43" stroke="#000" stroke-width="1.2"/>
<line x1="352.67" y1="58.65" x2="352.67" y2="60.87" stroke="#000" stroke-width="1.2"/>
<line x1="352.67" y1="153.35" x2="352.67" y2="151.13" stroke="#000" stroke-width="1.2"/>
<line x1="362.4" y1="0.4" x2="362.4" y2="2.62" stroke="#000" stroke-width="1.2"/>
<line x1="362.4" y1="58.65" x2="362.4" y2="56.43" stroke="#000" stroke-width="1.2"/>
<line x1="362.4" y1="58.65" x2="362.4" y2="60.87" stroke="#000" stroke-width="1.2"/>
<line x1="362.4" y1="153.35" x2="362.4" y2="151.13" stroke="#000" stroke-width="1.2"/>
<line x1="372.14" y1="0.4" x2="372.14" y2="4.84" stroke="#000" stroke-width="1.2"/>
<line x1="372.14" y1="58.65" x2="372.14" y2="54.21" stroke="#000" stroke-width="1.2"/>
<line x1="372.14" y1="58.65" x2="372.14" y2="63.09" stroke="#000" stroke-width="1.2"/>
<line x1="372.14" y1="153.35" x2="372.14" y2="148.91" stroke="#000" stroke-width="1.2"/>
<line x1="381.87" y1="0.4" x2="381.87" y2="2.62" stroke="#000" stroke-width="1.2"/>
<line x1="381.87" y1="58.65" x2="381.87" y2="56.43" stroke="#000" stroke-width="1.2"/>
<line x1="381.87" y1="58.65" x2="381.87" y2="60.87" stroke="#000" stroke-width="1.2"/>
<line x1="381.87" y1="153.35" x2="381.87" y2="151.13" stroke="#000" stroke-width="1.2"/>
<line x1="391.61" y1="0.4" x2="391.61" y2="2.62" stroke="#000" stroke-width="1.2"/>
<line x1="391.61" y1="58.65" x2="391.61" y2="56.43" stroke="#000" stroke-width="1.2"/>
<line x1="391.61" y1="58.65" x2="391.61" y2="60.87" stroke="#000" stroke-width="1.2"/>
<line x1="391.61" y1="153.35" x2="391.61" y2="151.13" stroke="#000" stroke-width="1.2"/>
<line x1="401.34" y1="0.4" x2="401.34" y2="2.62" stroke="#000" stroke-width="1.2"/>
<line x1="401.34" y1="58.65" x2="401.34" y2="56.43" stroke="#000" stroke-width="1.2"/>
<line x1="401.34" y1="58.65" x2="401.34" y2="60.87" stroke="#000" stroke-width="1.2"/>
<line x1="401.34" y1="153.35" x2="401.34" y2="151.13" stroke="#000" stroke-width="1.2"/>
<line x1="411.07" y1="0.4" x2="411.07" y2="2.62" stroke="#000" stroke-width="1.2"/>
<line x1="411.07" y1="58.65" x2="411.07" y2="56.43" stroke="#000" stroke-width="1.2"/>
<line x1="411.07" y1="58.65" x2="411.07" y2="60.87" stroke="#000" stroke-width="1.2"/>
<line x1="411.07" y1="153.35" x2="411.07" y2="151.13" stroke="#000" stroke-width="1.2"/>
<line x1="420.81" y1="0.4" x2="420.81" y2="4.84" stroke="#000" stroke-width="1.2"/>
<line x1="420.81" y1="58.65" x2="420.81" y2="54.21" stroke="#000" stroke-width="1.2"/>
<line x1="420.81" y1="58.65" x2="420.81" y2="63.09" stroke="#000" stroke-width="1.2"/>
<line x1="420.81" y1="153.35" x2="420.81" y2="148.91" stroke="#000" stroke-width="1.2"/>
<line x1="430.54" y1="0.4" x2="430.54" y2="2.62" stroke="#000" stroke-width="1.2"/>
<line x1="430.54" y1="58.65" x2="430.54" y2="56.43" stroke="#000" stroke-width="1.2"/>
<line x1="430.54" y1="58.65" x2="430.54" y2="60.87" stroke="#000" stroke-width="1.2"/>
<line x1="430.54" y1="153.35" x2="430.54" y2="151.13" stroke="#000" stroke-width="1.2"/>
<line x1="440.28" y1="0.4" x2="440.28" y2="2.62" stroke="#000" stroke-width="1.2"/>
<line x1="440.28" y1="58.65" x2="440.28" y2="56.43" stroke="#000" stroke-width="1.2"/>
<line x1="440.28" y1="58.65" x2="440.28" y2="60.87" stroke="#000" stroke-width="1.2"/>
<line x1="440.28" y1="153.35" x2="440.28" y2="151.13" stroke="#000" stroke-width="1.2"/>
<line x1="450.01" y1="0.4" x2="450.01" y2="2.62" stroke="#000" stroke-width="1.2"/>
<line x1="450.01" y1="58.65" x2="450.01" y2="56.43" stroke="#000" stroke-width="1.2"/>
<line x1="450.01" y1="58.65" x2="450.01" y2="60.87" stroke="#000" stroke-width="1.2"/>
<line x1="450.01" y1="153.35" x2="450.01" y2="151.13" stroke="#000" stroke-width="1.2"/>
<line x1="459.75" y1="0.4" x2="459.75" y2="2.62" stroke="#000" stroke-width="1.2"/>
<line x1="459.75" y1="58.65" x2="459.75" y2="56.43" stroke="#000" stroke-width="1.2"/>
<line x1="459.75" y1="58.65" x2="459.75" y2="60.87" stroke="#000" stroke-width="1.2"/>
<line x1="459.75" y1="153.35" x2="459.75" y2="151.13" stroke="#000" stroke-width="1.2"/>
<line x1="469.48" y1="0.4" x2="469.48" y2="4.84" stroke="#000" stroke-width="1.2"/>
<line x1="469.48" y1="58.65" x2="469.48" y2="54.21" stroke="#000" stroke-width="1.2"/>
<line x1="469.48" y1="58.65" x2="469.48" y2="63.09" stroke="#000" stroke-width="1.2"/>
<line x1="469.48" y1="153.35" x2="469.48" y2="148.91" stroke="#000" stroke-width="1.2"/>
<line x1="479.22" y1="0.4" x2="479.22" y2="2.62" stroke="#000" stroke-width="1.2"/>
<line x1="479.22" y1="58.65" x2="479.22" y2="56.43" stroke="#000" stroke-width="1.2"/>
<line x1="479.22" y1="58.65" x2="479.22" y2="60.87" stroke="#000" stroke-width="1.2"/>
<line x1="479.22" y1="153.35" x2="479.22" y2="151.13" stroke="#000" stroke-width="1.2"/>
<line x1="488.95" y1="0.4" x2="488.95" y2="2.62" stroke="#000" stroke-width="1.2"/>
<line x1="488.95" y1="58.65" x2="488.95" y2="56.43" stroke="#000" stroke-width="1.2"/>
<line x1="488.95" y1="58.65" x2="488.95" y2="60.87" stroke="#000" stroke-width="1.2"/>
<line x1="488.95" y1="153.35" x2="488.95" y2="151.13" stroke="#000" stroke-width="1.2"/>
<line x1="498.69" y1="0.4" x2="498.69" y2="2.62" stroke="#000" stroke-width="1.2"/>
<line x1="498.69" y1="58.65" x2="498.69" y2="56.43" stroke="#000" stroke-width="1.2"/>
<line x1="498.69" y1="58.65" x2="498.69" y2="60.87" stroke="#000" stroke-width="1.2"/>
<line x1="498.69" y1="153.35" x2="498.69" y2="151.13" stroke="#000" stroke-width="1.2"/>
<line x1="508.42" y1="0.4" x2="508.42" y2="2.62" stroke="#000" stroke-width="1.2"/>
<line x1="508.42" y1="58.65" x2="508.42" y2="56.43" stroke="#000" stroke-width="1.2"/>
<line x1="508.42" y1="58.65" x2="508.42" y2="60.87" stroke="#000" stroke-width="1.2"/>
<line x1="508.42" y1="153.35" x2="508.42" y2="151.13" stroke="#000" stroke-width="1.2"/>
<line x1="518.15" y1="0.4" x2="518.15" y2="4.84" stroke="#000" stroke-width="1.2"/>
<line x1="518.15" y1="58.65" x2="518.15" y2="54.21" stroke="#000" stroke-width="1.2"/>
<line x1="518.15" y1="58.65" x2="518.15" y2="63.09" stroke="#000" stroke-width="1.2"/>
<line x1="518.15" y1="153.35" x2="518.15" y2="148.91" stroke="#000" stroke-width="1.2"/>
<line x1="527.89" y1="0.4" x2="527.89" y2="2.62" stroke="#000" stroke-width="1.2"/>
<line x1="527.89" y1="58.65" x2="527.89" y2="56.43" stroke="#000" stroke-width="1.2"/>
<line x1="527.89" y1="58.65" x2="527.89" y2="60.87" stroke="#000" stroke-width="1.2"/>
<line x1="527.89" y1="153.35" x2="527.89" y2="151.13" stroke="#000" stroke-width="1.2"/>
<line x1="537.62" y1="0.4" x2="537.62" y2="2.62" stroke="#000" stroke-width="1.2"/>
<line x1="537.62" y1="58.65" x2="537.62" y2="56.43" stroke="#000" stroke-width="1.2"/>
<line x1="537.62" y1="58.65" x2="537.62" y2="60.87" stroke="#000" stroke-width="1.2"/>
<line x1="537.62" y1="153.35" x2="537.62" y2="151.13" stroke="#000" stroke-width="1.2"/>
<line x1="547.36" y1="0.4" x2="547.36" y2="2.62" stroke="#000" stroke-width="1.2"/>
<line x1="547.36" y1="58.65" x2="547.36" y2="56.43" stroke="#000" stroke-width="1.2"/>
<line x1="547.36" y1="58.65" x2="547.36" y2="60.87" stroke="#000" stroke-width="1.2"/>
<line x1="547.36" y1="153.35" x2="547.36" y2="151.13" stroke="#000" stroke-width="1.2"/>
<line x1="557.09" y1="0.4" x2="557.09" y2="2.62" stroke="#000" stroke-width="1.2"/>
<line x1="557.09" y1="58.65" x2="557.09" y2="56.43" stroke="#000" stroke-width="1.2"/>
<line x1="557.09" y1="58.65" x2="557.09" y2="60.87" stroke="#000" stroke-width="1.2"/>
<line x1="557.09" y1="153.35" x2="557.09" y2="151.13" stroke="#000" stroke-width="1.2"/>
<line x1="566.83" y1="0.4" x2="566.83" y2="4.84" stroke="#000" stroke-width="1.2"/>
<line x1="566.83" y1="58.65" x2="566.83" y2="54.21" stroke="#000" stroke-width="1.2"/>
<line x1="566.83" y1="58.65" x2="566.83" y2="63.09" stroke="#000" stroke-width="1.2"/>
<line x1="566.83" y1="153.35" x2="566.83" y2="148.91" stroke="#000" stroke-width="1.2"/>
<line x1="576.56" y1="0.4" x2="576.56" y2="2.62" stroke="#000" stroke-width="1.2"/>
<line x1="576.56" y1="58.65" x2="576.56" y2="56.43" stroke="#000" stroke-width="1.2"/>
<line x1="576.56" y1="58.65" x2="576.56" y2="60.87" stroke="#000" stroke-width="1.2"/>
<line x1="576.56" y1="153.35" x2="576.56" y2="151.13" stroke="#000" stroke-width="1.2"/>
<line x1="586.3" y1="0.4" x2="586.3" y2="2.62" stroke="#000" stroke-width="1.2"/>
<line x1="586.3" y1="58.65" x2="586.3" y2="56.43" stroke="#000" stroke-width="1.2"/>
<line x1="586.3" y1="58.65" x2="586.3" y2="60.87" stroke="#000" stroke-width="1.2"/>
<line x1="586.3" y1="153.35" x2="586.3" y2="151.13" stroke="#000" stroke-width="1.2"/>
<line x1="596.03" y1="0.4" x2="596.03" y2="2.62" stroke="#000" stroke-width="1.2"/>
<line x1="596.03" y1="58.65" x2="596.03" y2="56.43" stroke="#000" stroke-width="1.2"/>
<line x1="596.03" y1="58.65" x2="596.03" y2="60.87" stroke="#000" stroke-width="1.2"/>
<line x1="596.03" y1="153.35" x2="596.03" y2="151.13" stroke="#000" stroke-width="1.2"/>
<line x1="605.77" y1="0.4" x2="605.77" y2="2.62" stroke="#000" stroke-width="1.2"/>
<line x1="605.77" y1="58.65" x2="605.77" y2="56.43" stroke="#000" stroke-width="1.2"/>
<line x1="605.77" y1="58.65" x2="605.77" y2="60.87" stroke="#000" stroke-width="1.2"/>
<line x1="605.77" y1="153.35" x2="605.77" y2="151.13" stroke="#000" stroke-width="1.2"/>
<line x1="347.8" y1="141.51" x2="350.02" y2="141.51" stroke="#000" stroke-width="1.2"/>
<line x1="615.5" y1="141.51" x2="613.28" y2="141.51" stroke="#000" stroke-width="1.2"/>
<line x1="347.8" y1="129.68" x2="352.24" y2="129.68" stroke="#000" stroke-width="1.2"/>
<line x1="615.5" y1="129.68" x2="611.06" y2="129.68" stroke="#000" stroke-width="1.2"/>
<line x1="347.8" y1="117.84" x2="350.02" y2="117.84" stroke="#000" stroke-width="1.2"/>
<line x1="615.5" y1="117.84" x2="613.28" y2="117.84" stroke="#000" stroke-width="1.2"/>
<line x1="347.8" y1="106" x2="352.24" y2="106" stroke="#000" stroke-width="1.2"/>
<line x1="615.5" y1="106" x2="611.06" y2="106" stroke="#000" stroke-width="1.2"/>
<line x1="347.8" y1="94.16" x2="350.02" y2="94.16" stroke="#000" stroke-width="1.2"/>
<line x1="615.5" y1="94.16" x2="613.28" y2="94.16" stroke="#000" stroke-width="1.2"/>
<line x1="347.8" y1="82.33" x2="352.24" y2="82.33" stroke="#000" stroke-width="1.2"/>
<line x1="615.5" y1="82.33" x2="611.06" y2="82.33" stroke="#000" stroke-width="1.2"/>
<line x1="347.8" y1="70.49" x2="350.02" y2="70.49" stroke="#000" stroke-width="1.2"/>
<line x1="615.5" y1="70.49" x2="613.28" y2="70.49" stroke="#000" stroke-width="1.2"/>
<line x1="347.8" y1="4.43" x2="350.02" y2="4.43" stroke="#000" stroke-width="1.2"/>
<line x1="615.5" y1="4.43" x2="613.28" y2="4.43" stroke="#000" stroke-width="1.2"/>
<line x1="347.8" y1="8.3" x2="352.24" y2="8.3" stroke="#000" stroke-width="1.2"/>
<line x1="615.5" y1="8.3" x2="611.06" y2="8.3" stroke="#000" stroke-width="1.2"/>
<line x1="347.8" y1="12.18" x2="350.02" y2="12.18" stroke="#000" stroke-width="1.2"/>
<line x1="615.5" y1="12.18" x2="613.28" y2="12.18" stroke="#000" stroke-width="1.2"/>
<line x1="347.8" y1="16.05" x2="352.24" y2="16.05" stroke="#000" stroke-width="1.2"/>
<line x1="615.5" y1="16.05" x2="611.06" y2="16.05" stroke="#000" stroke-width="1.2"/>
<line x1="347.8" y1="19.93" x2="350.02" y2="19.93" stroke="#000" stroke-width="1.2"/>
<line x1="615.5" y1="19.93" x2="613.28" y2="19.93" stroke="#000" stroke-width="1.2"/>
<line x1="347.8" y1="23.8" x2="352.24" y2="23.8" stroke="#000" stroke-width="1.2"/>
<line x1="615.5" y1="23.8" x2="611.06" y2="23.8" stroke="#000" stroke-width="1.2"/>
<line x1="347.8" y1="27.68" x2="350.02" y2="27.68" stroke="#000" stroke-width="1.2"/>
<line x1="615.5" y1="27.68" x2="613.28" y2="27.68" stroke="#000" stroke-width="1.2"/>
<line x1="347.8" y1="31.55" x2="352.24" y2="31.55" stroke="#000" stroke-width="1.2"/>
<line x1="615.5" y1="31.55" x2="611.06" y2="31.55" stroke="#000" stroke-width="1.2"/>
<line x1="347.8" y1="35.42" x2="350.02" y2="35.42" stroke="#000" stroke-width="1.2"/>
<line x1="615.5" y1="35.42" x2="613.28" y2="35.42" stroke="#000" stroke-width="1.2"/>
<line x1="347.8" y1="39.3" x2="352.24" y2="39.3" stroke="#000" stroke-width="1.2"/>
<line x1="615.5" y1="39.3" x2="611.06" y2="39.3" stroke="#000" stroke-width="1.2"/>
<line x1="347.8" y1="43.17" x2="350.02" y2="43.17" stroke="#000" stroke-width="1.2"/>
<line x1="615.5" y1="43.17" x2="613.28" y2="43.17" stroke="#000" stroke-width="1.2"/>
<line x1="347.8" y1="47.05" x2="352.24" y2="47.05" stroke="#000" stroke-width="1.2"/>
<line x1="615.5" y1="47.05" x2="611.06" y2="47.05" stroke="#000" stroke-width="1.2"/>
<line x1="347.8" y1="50.92" x2="350.02" y2="50.92" stroke="#000" stroke-width="1.2"/>
<line x1="615.5" y1="50.92" x2="613.28" y2="50.92" stroke="#000" stroke-width="1.2"/>
<line x1="347.8" y1="54.8" x2="352.24" y2="54.8" stroke="#000" stroke-width="1.2"/>
<line x1="615.5" y1="54.8" x2="611.06" y2="54.8" stroke="#000" stroke-width="1.2"/>
<rect x="347.8" y="0.4" width="267.7" height="152.95" fill="none" stroke="#000" stroke-width="1.2"/>
<line x1="347.8" y1="58.65" x2="615.5" y2="58.65" stroke="#000" stroke-width="1.2"/>
<line x1="46.44" y1="178.1" x2="46.44" y2="180.32" stroke="#000" stroke-width="1.2"/>
<line x1="46.44" y1="236.3" x2="46.44" y2="234.08" stroke="#000" stroke-width="1.2"/>
<line x1="46.44" y1="236.3" x2="46.44" y2="238.52" stroke="#000" stroke-width="1.2"/>
<line x1="46.44" y1="331" x2="46.44" y2="328.78" stroke="#000" stroke-width="1.2"/>
<line x1="52.38" y1="178.1" x2="52.38" y2="180.32" stroke="#000" stroke-width="1.2"/>
<line x1="52.38" y1="236.3" x2="52.38" y2="234.08" stroke="#000" stroke-width="1.2"/>
<line x1="52.38" y1="236.3" x2="52.38" y2="238.52" stroke="#000" stroke-width="1.2"/>
<line x1="52.38" y1="331" x2="52.38" y2="328.78" stroke="#000" stroke-width="1.2"/>
<line x1="58.33" y1="178.1" x2="58.33" y2="180.32" stroke="#000" stroke-width="1.2"/>
<line x1="58.33" y1="236.3" x2="58.33" y2="234.08" stroke="#000" stroke-width="1.2"/>
<line x1="58.33" y1="236.3" x2="58.33" y2="238.52" stroke="#000" stroke-width="1.2"/>
<line x1="58.33" y1="331" x2="58.33" y2="328.78" stroke="#000" stroke-width="1.2"/>
<line x1="64.27" y1="178.1" x2="64.27" y2="180.32" stroke="#000" stroke-width="1.2"/>
<line x1="64.27" y1="236.3" x2="64.27" y2="234.08" stroke="#000" stroke-width="1.2"/>
<line x1="64.27" y1="236.3" x2="64.27" y2="238.52" stroke="#000" stroke-width="1.2"/>
<line x1="64.27" y1="331" x2="64.27" y2="328.78" stroke="#000" stroke-width="1.2"/>
<line x1="70.21" y1="178.1" x2="70.21" y2="180.32" stroke="#000" stroke-width="1.2"/>
<line x1="70.21" y1="236.3" x2="70.21" y2="234.08" stroke="#000" stroke-width="1.2"/>
<line x1="70.21" y1="236.3" x2="70.21" y2="238.52" stroke="#000" stroke-width="1.2"/>
<line x1="70.21" y1="331" x2="70.21" y2="328.78" stroke="#000" stroke-width="1.2"/>
<line x1="76.15" y1="178.1" x2="76.15" y2="180.32" stroke="#000" stroke-width="1.2"/>
<line x1="76.15" y1="236.3" x2="76.15" y2="234.08" stroke="#000" stroke-width="1.2"/>
<line x1="76.15" y1="236.3" x2="76.15" y2="238.52" stroke="#000" stroke-width="1.2"/>
<line x1="76.15" y1="331" x2="76.15" y2="328.78" stroke="#000" stroke-width="1.2"/>
<line x1="82.1" y1="178.1" x2="82.1" y2="180.32" stroke="#000" stroke-width="1.2"/>
<line x1="82.1" y1="236.3" x2="82.1" y2="234.08" stroke="#000" stroke-width="1.2"/>
<line x1="82.1" y1="236.3" x2="82.1" y2="238.52" stroke="#000" stroke-width="1.2"/>
<line x1="82.1" y1="331" x2="82.1" y2="328.78" stroke="#000" stroke-width="1.2"/>
<line x1="88.04" y1="178.1" x2="88.04" y2="180.32" stroke="#000" stroke-width="1.2"/>
<line x1="88.04" y1="236.3" x2="88.04" y2="234.08" stroke="#000" stroke-width="1.2"/>
<line x1="88.04" y1="236.3" x2="88.04" y2="238.52" stroke="#000" stroke-width="1.2"/>
<line x1="88.04" y1="331" x2="88.04" y2="328.78" stroke="#000" stroke-width="1.2"/>
<line x1="93.98" y1="178.1" x2="93.98" y2="180.32" stroke="#000" stroke-width="1.2"/>
<line x1="93.98" y1="236.3" x2="93.98" y2="234.08" stroke="#000" stroke-width="1.2"/>
<line x1="93.98" y1="236.3" x2="93.98" y2="238.52" stroke="#000" stroke-width="1.2"/>
<line x1="93.98" y1="331" x2="93.98" y2="328.78" stroke="#000" stroke-width="1.2"/>
<line x1="99.92" y1="178.1" x2="99.92" y2="182.54" stroke="#000" stroke-width="1.2"/>
<line x1="99.92" y1="236.3" x2="99.92" y2="231.86" stroke="#000" stroke-width="1.2"/>
<line x1="99.92" y1="236.3" x2="99.92" y2="240.74" stroke="#000" stroke-width="1.2"/>
<line x1="99.92" y1="331" x2="99.92" y2="326.56" stroke="#000" stroke-width="1.2"/>
<line x1="105.86" y1="178.1" x2="105.86" y2="180.32" stroke="#000" stroke-width="1.2"/>
<line x1="105.86" y1="236.3" x2="105.86" y2="234.08" stroke="#000" stroke-width="1.2"/>
<line x1="105.86" y1="236.3" x2="105.86" y2="238.52" stroke="#000" stroke-width="1.2"/>
<line x1="105.86" y1="331" x2="105.86" y2="328.78" stroke="#000" stroke-width="1.2"/>
<line x1="111.81" y1="178.1" x2="111.81" y2="180.32" stroke="#000" stroke-width="1.2"/>
<line x1="111.81" y1="236.3" x2="111.81" y2="234.08" stroke="#000" stroke-width="1.2"/>
<line x1="111.81" y1="236.3" x2="111.81" y2="238.52" stroke="#000" stroke-width="1.2"/>
<line x1="111.81" y1="331" x2="111.81" y2="328.78" stroke="#000" stroke-width="1.2"/>
<line x1="117.75" y1="178.1" x2="117.75" y2="180.32" stroke="#000" stroke-width="1.2"/>
<line x1="117.75" y1="236.3" x2="117.75" y2="234.08" stroke="#000" stroke-width="1.2"/>
<line x1="117.75" y1="236.3" x2="117.75" y2="238.52" stroke="#000" stroke-width="1.2"/>
<line x1="117.75" y1="331" x2="117.75" y2="328.78" stroke="#000" stroke-width="1.2"/>
<line x1="123.69" y1="178.1" x2="123.69" y2="180.32" stroke="#000" stroke-width="1.2"/>
<line x1="123.69" y1="236.3" x2="123.69" y2="234.08" stroke="#000" stroke-width="1.2"/>
<line x1="123.69" y1="236.3" x2="123.69" y2="238.52" stroke="#000" stroke-width="1.2"/>
<line x1="123.69" y1="331" x2="123.69" y2="328.78" stroke="#000" stroke-width="1.2"/>
<line x1="129.63" y1="178.1" x2="129.63" y2="180.32" stroke="#000" stroke-width="1.2"/>
<line x1="129.63" y1="236.3" x2="129.63" y2="234.08" stroke="#000" stroke-width="1.2"/>
<line x1="129.63" y1="236.3" x2="129.63" y2="238.52" stroke="#000" stroke-width="1.2"/>
<line x1="129.63" y1="331" x2="129.63" y2="328.78" stroke="#000" stroke-width="1.2"/>
<line x1="135.58" y1="178.1" x2="135.58" y2="180.32" stroke="#000" stroke-width="1.2"/>
<line x1="135.58" y1="236.3" x2="135.58" y2="234.08" stroke="#000" stroke-width="1.2"/>
<line x1="135.58" y1="236.3" x2="135.58" y2="238.52" stroke="#000" stroke-width="1.2"/>
<line x1="135.58" y1="331" x2="135.58" y2="328.78" stroke="#000" stroke-width="1.2"/>
<line x1="141.52" y1="178.1" x2="141.52" y2="180.32" stroke="#000" stroke-width="1.2"/>
<line x1="141.52" y1="236.3" x2="141.52" y2="234.08" stroke="#000" stroke-width="1.2"/>
<line x1="141.52" y1="236.3" x2="141.52" y2="238.52" stroke="#000" stroke-width="1.2"/>
<line x1="141.52" y1="331" x2="141.52" y2="328.78" stroke="#000" stroke-width="1.2"/>
<line x1="147.46" y1="178.1" x2="147.46" y2="180.32" stroke="#000" stroke-width="1.2"/>
<line x1="147.46" y1="236.3" x2="147.46" y2="234.08" stroke="#000" stroke-width="1.2"/>
<line x1="147.46" y1="236.3" x2="147.46" y2="238.52" stroke="#000" stroke-width="1.2"/>
<line x1="147.46" y1="331" x2="147.46" y2="328.78" stroke="#000" stroke-width="1.2"/>
<line x1="153.4" y1="178.1" x2="153.4" y2="180.32" stroke="#000" stroke-width="1.2"/>
<line x1="153.4" y1="236.3" x2="153.4" y2="234.08" stroke="#000" stroke-width="1.2"/>
<line x1="153.4" y1="236.3" x2="153.4" y2="238.52" stroke="#000" stroke-width="1.2"/>
<line x1="153.4" y1="331" x2="153.4" y2="328.78" stroke="#000" stroke-width="1.2"/>
<line x1="159.34" y1="178.1" x2="159.34" y2="182.54" stroke="#000" stroke-width="1.2"/>
<line x1="159.34" y1="236.3" x2="159.34" y2="231.86" stroke="#000" stroke-width="1.2"/>
<line x1="159.34" y1="236.3" x2="159.34" y2="240.74" stroke="#000" stroke-width="1.2"/>
<line x1="159.34" y1="331" x2="159.34" y2="326.56" stroke="#000" stroke-width="1.2"/>
<line x1="165.29" y1="178.1" x2="165.29" y2="180.32" stroke="#000" stroke-width="1.2"/>
<line x1="165.29" y1="236.3" x2="165.29" y2="234.08" stroke="#000" stroke-width="1.2"/>
<line x1="165.29" y1="236.3" x2="165.29" y2="238.52" stroke="#000" stroke-width="1.2"/>
<line x1="165.29" y1="331" x2="165.29" y2="328.78" stroke="#000" stroke-width="1.2"/>
<line x1="171.23" y1="178.1" x2="171.23" y2="180.32" stroke="#000" stroke-width="1.2"/>
<line x1="171.23" y1="236.3" x2="171.23" y2="234.08" stroke="#000" stroke-width="1.2"/>
<line x1="171.23" y1="236.3" x2="171.23" y2="238.52" stroke="#000" stroke-width="1.2"/>
<line x1="171.23" y1="331" x2="171.23" y2="328.78" stroke="#000" stroke-width="1.2"/>
<line x1="177.17" y1="178.1" x2="177.17" y2="180.32" stroke="#000" stroke-width="1.2"/>
<line x1="177.17" y1="236.3" x2="177.17" y2="234.08" stroke="#000" stroke-width="1.2"/>
<line x1="177.17" y1="236.3" x2="177.17" y2="238.52" stroke="#000" stroke-width="1.2"/>
<line x1="177.17" y1="331" x2="177.17" y2="328.78" stroke="#000" stroke-width="1.2"/>
<line x1="183.11" y1="178.1" x2="183.11" y2="180.32" stroke="#000" stroke-width="1.2"/>
<line x1="183.11" y1="236.3" x2="183.11" y2="234.08" stroke="#000" stroke-width="1.2"/>
<line x1="183.11" y1="236.3" x2="183.11" y2="238.52" stroke="#000" stroke-width="1.2"/>
<line x1="183.11" y1="331" x2="183.11" y2="328.78" stroke="#000" stroke-width="1.2"/>
<line x1="189.06" y1="178.1" x2="189.06" y2="180.32" stroke="#000" stroke-width="1.2"/>
<line x1="189.06" y1="236.3" x2="189.06" y2="234.08" stroke="#000" stroke-width="1.2"/>
<line x1="189.06" y1="236.3" x2="189.06" y2="238.52" stroke="#000" stroke-width="1.2"/>
<line x1="189.06" y1="331" x2="189.06" y2="328.78" stroke="#000" stroke-width="1.2"/>
<line x1="195" y1="178.1" x2="195" y2="180.32" stroke="#000" stroke-width="1.2"/>
<line x1="195" y1="236.3" x2="195" y2="234.08" stroke="#000" stroke-width="1.2"/>
<line x1="195" y1="236.3" x2="195" y2="238.52" stroke="#000" stroke-width="1.2"/>
<line x1="195" y1="331" x2="195" y2="328.78" stroke="#000" stroke-width="1.2"/>
<line x1="200.94" y1="178.1" x2="200.94" y2="180.32" stroke="#000" stroke-width="1.2"/>
<line x1="200.94" y1="236.3" x2="200.94" y2="234.08" stroke="#000" stroke-width="1.2"/>
<line x1="200.94" y1="236.3" x2="200.94" y2="238.52" stroke="#000" stroke-width="1.2"/>
<line x1="200.94" y1="331" x2="200.94" y2="328.78" stroke="#000" stroke-width="1.2"/>
<line x1="206.88" y1="178.1" x2="206.88" y2="180.32" stroke="#000" stroke-width="1.2"/>
<line x1="206.88" y1="236.3" x2="206.88" y2="234.08" stroke="#000" stroke-width="1.2"/>
<line x1="206.88" y1="236.3" x2="206.88" y2="238.52" stroke="#000" stroke-width="1.2"/>
<line x1="206.88" y1="331" x2="206.88" y2="328.78" stroke="#000" stroke-width="1.2"/>
<line x1="212.82" y1="178.1" x2="212.82" y2="180.32" stroke="#000" stroke-width="1.2"/>
<line x1="212.82" y1="236.3" x2="212.82" y2="234.08" stroke="#000" stroke-width="1.2"/>
<line x1="212.82" y1="236.3" x2="212.82" y2="238.52" stroke="#000" stroke-width="1.2"/>
<line x1="212.82" y1="331" x2="212.82" y2="328.78" stroke="#000" stroke-width="1.2"/>
<line x1="218.77" y1="178.1" x2="218.77" y2="182.54" stroke="#000" stroke-width="1.2"/>
<line x1="218.77" y1="236.3" x2="218.77" y2="231.86" stroke="#000" stroke-width="1.2"/>
<line x1="218.77" y1="236.3" x2="218.77" y2="240.74" stroke="#000" stroke-width="1.2"/>
<line x1="218.77" y1="331" x2="218.77" y2="326.56" stroke="#000" stroke-width="1.2"/>
<line x1="224.71" y1="178.1" x2="224.71" y2="180.32" stroke="#000" stroke-width="1.2"/>
<line x1="224.71" y1="236.3" x2="224.71" y2="234.08" stroke="#000" stroke-width="1.2"/>
<line x1="224.71" y1="236.3" x2="224.71" y2="238.52" stroke="#000" stroke-width="1.2"/>
<line x1="224.71" y1="331" x2="224.71" y2="328.78" stroke="#000" stroke-width="1.2"/>
<line x1="230.65" y1="178.1" x2="230.65" y2="180.32" stroke="#000" stroke-width="1.2"/>
<line x1="230.65" y1="236.3" x2="230.65" y2="234.08" stroke="#000" stroke-width="1.2"/>
<line x1="230.65" y1="236.3" x2="230.65" y2="238.52" stroke="#000" stroke-width="1.2"/>
<line x1="230.65" y1="331" x2="230.65" y2="328.78" stroke="#000" stroke-width="1.2"/>
<line x1="236.59" y1="178.1" x2="236.59" y2="180.32" stroke="#000" stroke-width="1.2"/>
<line x1="236.59" y1="236.3" x2="236.59" y2="234.08" stroke="#000" stroke-width="1.2"/>
<line x1="236.59" y1="236.3" x2="236.59" y2="238.52" stroke="#000" stroke-width="1.2"/>
<line x1="236.59" y1="331" x2="236.59" y2="328.78" stroke="#000" stroke-width="1.2"/>
<line x1="242.54" y1="178.1" x2="242.54" y2="180.32" stroke="#000" stroke-width="1.2"/>
<line x1="242.54" y1="236.3" x2="242.54" y2="234.08" stroke="#000" stroke-width="1.2"/>
<line x1="242.54" y1="236.3" x2="242.54" y2="238.52" stroke="#000" stroke-width="1.2"/>
<line x1="242.54" y1="331" x2="242.54" y2="328.78" stroke="#000" stroke-width="1.2"/>
<line x1="248.48" y1="178.1" x2="248.48" y2="180.32" stroke="#000" stroke-width="1.2"/>
<line x1="248.48" y1="236.3" x2="248.48" y2="234.08" stroke="#000" stroke-width="1.2"/>
<line x1="248.48" y1="236.3" x2="248.48" y2="238.52" stroke="#000" stroke-width="1.2"/>
<line x1="248.48" y1="331" x2="248.48" y2="328.78" stroke="#000" stroke-width="1.2"/>
<line x1="254.42" y1="178.1" x2="254.42" y2="180.32" stroke="#000" stroke-width="1.2"/>
<line x1="254.42" y1="236.3" x2="254.42" y2="234.08" stroke="#000" stroke-width="1.2"/>
<line x1="254.42" y1="236.3" x2="254.42" y2="238.52" stroke="#000" stroke-width="1.2"/>
<line x1="254.42" y1="331" x2="254.42" y2="328.78" stroke="#000" stroke-width="1.2"/>
<line x1="260.36" y1="178.1" x2="260.36" y2="180.32" stroke="#000" stroke-width="1.2"/>
<line x1="260.36" y1="236.3" x2="260.36" y2="234.08" stroke="#000" stroke-width="1.2"/>
<line x1="260.36" y1="236.3" x2="260.36" y2="238.52" stroke="#000" stroke-width="1.2"/>
<line x1="260.36" y1="331" x2="260.36" y2="328.78" stroke="#000" stroke-width="1.2"/>
<line x1="266.3" y1="178.1" x2="266.3" y2="180.32" stroke="#000" stroke-width="1.2"/>
<line x1="266.3" y1="236.3" x2="266.3" y2="234.08" stroke="#000" stroke-width="1.2"/>
<line x1="266.3" y1="236.3" x2="266.3" y2="238.52" stroke="#000" stroke-width="1.2"/>
<line x1="266.3" y1="331" x2="266.3" y2="328.78" stroke="#000" stroke-width="1.2"/>
<line x1="272.25" y1="178.1" x2="272.25" y2="180.32" stroke="#000" stroke-width="1.2"/>
<line x1="272.25" y1="236.3" x2="272.25" y2="234.08" stroke="#000" stroke-width="1.2"/>
<line x1="272.25" y1="236.3" x2="272.25" y2="238.52" stroke="#000" stroke-width="1.2"/>
<line x1="272.25" y1="331" x2="272.25" y2="328.78" stroke="#000" stroke-width="1.2"/>
<line x1="278.19" y1="178.1" x2="278.19" y2="182.54" stroke="#000" stroke-width="1.2"/>
<line x1="278.19" y1="236.3" x2="278.19" y2="231.86" stroke="#000" stroke-width="1.2"/>
<line x1="278.19" y1="236.3" x2="278.19" y2="240.74" stroke="#000" stroke-width="1.2"/>
<line x1="278.19" y1="331" x2="278.19" y2="326.56" stroke="#000" stroke-width="1.2"/>
<line x1="284.13" y1="178.1" x2="284.13" y2="180.32" stroke="#000" stroke-width="1.2"/>
<line x1="284.13" y1="236.3" x2="284.13" y2="234.08" stroke="#000" stroke-width="1.2"/>
<line x1="284.13" y1="236.3" x2="284.13" y2="238.52" stroke="#000" stroke-width="1.2"/>
<line x1="284.13" y1="331" x2="284.13" y2="328.78" stroke="#000" stroke-width="1.2"/>
<line x1="290.07" y1="178.1" x2="290.07" y2="180.32" stroke="#000" stroke-width="1.2"/>
<line x1="290.07" y1="236.3" x2="290.07" y2="234.08" stroke="#000" stroke-width="1.2"/>
<line x1="290.07" y1="236.3" x2="290.07" y2="238.52" stroke="#000" stroke-width="1.2"/>
<line x1="290.07" y1="331" x2="290.07" y2="328.78" stroke="#000" stroke-width="1.2"/>
<line x1="296.02" y1="178.1" x2="296.02" y2="180.32" stroke="#000" stroke-width="1.2"/>
<line x1="296.02" y1="236.3" x2="296.02" y2="234.08" stroke="#000" stroke-width="1.2"/>
<line x1="296.02" y1="236.3" x2="296.02" y2="238.52" stroke="#000" stroke-width="1.2"/>
<line x1="296.02" y1="331" x2="296.02" y2="328.78" stroke="#000" stroke-width="1.2"/>
<line x1="301.96" y1="178.1" x2="301.96" y2="180.32" stroke="#000" stroke-width="1.2"/>
<line x1="301.96" y1="236.3" x2="301.96" y2="234.08" stroke="#000" stroke-width="1.2"/>
<line x1="301.96" y1="236.3" x2="301.96" y2="238.52" stroke="#000" stroke-width="1.2"/>
<line x1="301.96" y1="331" x2="301.96" y2="328.78" stroke="#000" stroke-width="1.2"/>
<line x1="40.5" y1="319.16" x2="42.72" y2="319.16" stroke="#000" stroke-width="1.2"/>
<line x1="307.9" y1="319.16" x2="305.68" y2="319.16" stroke="#000" stroke-width="1.2"/>
<line x1="40.5" y1="307.32" x2="44.94" y2="307.32" stroke="#000" stroke-width="1.2"/>
<line x1="307.9" y1="307.32" x2="303.46" y2="307.32" stroke="#000" stroke-width="1.2"/>
<line x1="40.5" y1="295.49" x2="42.72" y2="295.49" stroke="#000" stroke-width="1.2"/>
<line x1="307.9" y1="295.49" x2="305.68" y2="295.49" stroke="#000" stroke-width="1.2"/>
<line x1="40.5" y1="283.65" x2="44.94" y2="283.65" stroke="#000" stroke-width="1.2"/>
<line x1="307.9" y1="283.65" x2="303.46" y2="283.65" stroke="#000" stroke-width="1.2"/>
<line x1="40.5" y1="271.81" x2="42.72" y2="271.81" stroke="#000" stroke-width="1.2"/>
<line x1="307.9" y1="271.81" x2="305.68" y2="271.81" stroke="#000" stroke-width="1.2"/>
<line x1="40.5" y1="259.98" x2="44.94" y2="259.98" stroke="#000" stroke-width="1.2"/>
<line x1="307.9" y1="259.98" x2="303.46" y2="259.98" stroke="#000" stroke-width="1.2"/>
<line x1="40.5" y1="248.14" x2="42.72" y2="248.14" stroke="#000" stroke-width="1.2"/>
<line x1="307.9" y1="248.14" x2="305.68" y2="248.14" stroke="#000" stroke-width="1.2"/>
<line x1="40.5" y1="182.8" x2="42.72" y2="182.8" stroke="#000" stroke-width="1.2"/>
<line x1="307.9" y1="182.8" x2="305.68" y2="182.8" stroke="#000" stroke-width="1.2"/>
<line x1="40.5" y1="187.2" x2="44.94" y2="187.2" stroke="#000" stroke-width="1.2"/>
<line x1="307.9" y1="187.2" x2="303.46" y2="187.2" stroke="#000" stroke-width="1.2"/>
<line x1="40.5" y1="191.6" x2="42.72" y2="191.6" stroke="#000" stroke-width="1.2"/>
<line x1="307.9" y1="191.6" x2="305.68" y2="191.6" stroke="#000" stroke-width="1.2"/>
<line x1="40.5" y1="196" x2="44.94" y2="196" stroke="#000" stroke-width="1.2"/>
<line x1="307.9" y1="196" x2="303.46" y2="196" stroke="#000" stroke-width="1.2"/>
<line x1="40.5" y1="200.4" x2="42.72" y2="200.4" stroke="#000" stroke-width="1.2"/>
<line x1="307.9" y1="200.4" x2="305.68" y2="200.4" stroke="#000" stroke-width="1.2"/>
<line x1="40.5" y1="204.8" x2="44.94" y2="204.8" stroke="#000" stroke-width="1.2"/>
<line x1="307.9" y1="204.8" x2="303.46" y2="204.8" stroke="#000" stroke-width="1.2"/>
<line x1="40.5" y1="209.2" x2="42.72" y2="209.2" stroke="#000" stroke-width="1.2"/>
<line x1="307.9" y1="209.2" x2="305.68" y2="209.2" stroke="#000" stroke-width="1.2"/>
<line x1="40.5" y1="213.6" x2="44.94" y2="213.6" stroke="#000" stroke-width="1.2"/>
<line x1="307.9" y1="213.6" x2="303.46" y2="213.6" stroke="#000" stroke-width="1.2"/>
<line x1="40.5" y1="218" x2="42.72" y2="218" stroke="#000" stroke-width="1.2"/>
<line x1="307.9" y1="218" x2="305.68" y2="218" stroke="#000" stroke-width="1.2"/>
<line x1="40.5" y1="222.4" x2="44.94" y2="222.4" stroke="#000" stroke-width="1.2"/>
<line x1="307.9" y1="222.4" x2="303.46" y2="222.4" stroke="#000" stroke-width="1.2"/>
<line x1="40.5" y1="226.8" x2="42.72" y2="226.8" stroke="#000" stroke-width="1.2"/>
<line x1="307.9" y1="226.8" x2="305.68" y2="226.8" stroke="#000" stroke-width="1.2"/>
<line x1="40.5" y1="231.2" x2="44.94" y2="231.2" stroke="#000" stroke-width="1.2"/>
<line x1="307.9" y1="231.2" x2="303.46" y2="231.2" stroke="#000" stroke-width="1.2"/>
<line x1="40.5" y1="235.6" x2="42.72" y2="235.6" stroke="#000" stroke-width="1.2"/>
<line x1="307.9" y1="235.6" x2="305.68" y2="235.6" stroke="#000" stroke-width="1.2"/>
<rect x="40.5" y="178.1" width="267.4" height="152.9" fill="none" stroke="#000" stroke-width="1.2"/>
<line x1="40.5" y1="236.3" x2="307.9" y2="236.3" stroke="#000" stroke-width="1.2"/>
<line x1="351.92" y1="178.1" x2="351.92" y2="180.32" stroke="#000" stroke-width="1.2"/>
<line x1="351.92" y1="236.3" x2="351.92" y2="234.08" stroke="#000" stroke-width="1.2"/>
<line x1="351.92" y1="236.3" x2="351.92" y2="238.52" stroke="#000" stroke-width="1.2"/>
<line x1="351.92" y1="331" x2="351.92" y2="328.78" stroke="#000" stroke-width="1.2"/>
<line x1="356.04" y1="178.1" x2="356.04" y2="180.32" stroke="#000" stroke-width="1.2"/>
<line x1="356.04" y1="236.3" x2="356.04" y2="234.08" stroke="#000" stroke-width="1.2"/>
<line x1="356.04" y1="236.3" x2="356.04" y2="238.52" stroke="#000" stroke-width="1.2"/>
<line x1="356.04" y1="331" x2="356.04" y2="328.78" stroke="#000" stroke-width="1.2"/>
<line x1="360.16" y1="178.1" x2="360.16" y2="180.32" stroke="#000" stroke-width="1.2"/>
<line x1="360.16" y1="236.3" x2="360.16" y2="234.08" stroke="#000" stroke-width="1.2"/>
<line x1="360.16" y1="236.3" x2="360.16" y2="238.52" stroke="#000" stroke-width="1.2"/>
<line x1="360.16" y1="331" x2="360.16" y2="328.78" stroke="#000" stroke-width="1.2"/>
<line x1="364.27" y1="178.1" x2="364.27" y2="180.32" stroke="#000" stroke-width="1.2"/>
<line x1="364.27" y1="236.3" x2="364.27" y2="234.08" stroke="#000" stroke-width="1.2"/>
<line x1="364.27" y1="236.3" x2="364.27" y2="238.52" stroke="#000" stroke-width="1.2"/>
<line x1="364.27" y1="331" x2="364.27" y2="328.78" stroke="#000" stroke-width="1.2"/>
<line x1="368.39" y1="178.1" x2="368.39" y2="182.54" stroke="#000" stroke-width="1.2"/>
<line x1="368.39" y1="236.3" x2="368.39" y2="231.86" stroke="#000" stroke-width="1.2"/>
<line x1="368.39" y1="236.3" x2="368.39" y2="240.74" stroke="#000" stroke-width="1.2"/>
<line x1="368.39" y1="331" x2="368.39" y2="326.56" stroke="#000" stroke-width="1.2"/>
<line x1="372.51" y1="178.1" x2="372.51" y2="180.32" stroke="#000" stroke-width="1.2"/>
<line x1="372.51" y1="236.3" x2="372.51" y2="234.08" stroke="#000" stroke-width="1.2"/>
<line x1="372.51" y1="236.3" x2="372.51" y2="238.52" stroke="#000" stroke-width="1.2"/>
<line x1="372.51" y1="331" x2="372.51" y2="328.78" stroke="#000" stroke-width="1.2"/>
<line x1="376.63" y1="178.1" x2="376.63" y2="180.32" stroke="#000" stroke-width="1.2"/>
<line x1="376.63" y1="236.3" x2="376.63" y2="234.08" stroke="#000" stroke-width="1.2"/>
<line x1="376.63" y1="236.3" x2="376.63" y2="238.52" stroke="#000" stroke-width="1.2"/>
<line x1="376.63" y1="331" x2="376.63" y2="328.78" stroke="#000" stroke-width="1.2"/>
<line x1="380.75" y1="178.1" x2="380.75" y2="180.32" stroke="#000" stroke-width="1.2"/>
<line x1="380.75" y1="236.3" x2="380.75" y2="234.08" stroke="#000" stroke-width="1.2"/>
<line x1="380.75" y1="236.3" x2="380.75" y2="238.52" stroke="#000" stroke-width="1.2"/>
<line x1="380.75" y1="331" x2="380.75" y2="328.78" stroke="#000" stroke-width="1.2"/>
<line x1="384.87" y1="178.1" x2="384.87" y2="180.32" stroke="#000" stroke-width="1.2"/>
<line x1="384.87" y1="236.3" x2="384.87" y2="234.08" stroke="#000" stroke-width="1.2"/>
<line x1="384.87" y1="236.3" x2="384.87" y2="238.52" stroke="#000" stroke-width="1.2"/>
<line x1="384.87" y1="331" x2="384.87" y2="328.78" stroke="#000" stroke-width="1.2"/>
<line x1="388.98" y1="178.1" x2="388.98" y2="180.32" stroke="#000" stroke-width="1.2"/>
<line x1="388.98" y1="236.3" x2="388.98" y2="234.08" stroke="#000" stroke-width="1.2"/>
<line x1="388.98" y1="236.3" x2="388.98" y2="238.52" stroke="#000" stroke-width="1.2"/>
<line x1="388.98" y1="331" x2="388.98" y2="328.78" stroke="#000" stroke-width="1.2"/>
<line x1="393.1" y1="178.1" x2="393.1" y2="180.32" stroke="#000" stroke-width="1.2"/>
<line x1="393.1" y1="236.3" x2="393.1" y2="234.08" stroke="#000" stroke-width="1.2"/>
<line x1="393.1" y1="236.3" x2="393.1" y2="238.52" stroke="#000" stroke-width="1.2"/>
<line x1="393.1" y1="331" x2="393.1" y2="328.78" stroke="#000" stroke-width="1.2"/>
<line x1="397.22" y1="178.1" x2="397.22" y2="180.32" stroke="#000" stroke-width="1.2"/>
<line x1="397.22" y1="236.3" x2="397.22" y2="234.08" stroke="#000" stroke-width="1.2"/>
<line x1="397.22" y1="236.3" x2="397.22" y2="238.52" stroke="#000" stroke-width="1.2"/>
<line x1="397.22" y1="331" x2="397.22" y2="328.78" stroke="#000" stroke-width="1.2"/>
<line x1="401.34" y1="178.1" x2="401.34" y2="180.32" stroke="#000" stroke-width="1.2"/>
<line x1="401.34" y1="236.3" x2="401.34" y2="234.08" stroke="#000" stroke-width="1.2"/>
<line x1="401.34" y1="236.3" x2="401.34" y2="238.52" stroke="#000" stroke-width="1.2"/>
<line x1="401.34" y1="331" x2="401.34" y2="328.78" stroke="#000" stroke-width="1.2"/>
<line x1="405.46" y1="178.1" x2="405.46" y2="180.32" stroke="#000" stroke-width="1.2"/>
<line x1="405.46" y1="236.3" x2="405.46" y2="234.08" stroke="#000" stroke-width="1.2"/>
<line x1="405.46" y1="236.3" x2="405.46" y2="238.52" stroke="#000" stroke-width="1.2"/>
<line x1="405.46" y1="331" x2="405.46" y2="328.78" stroke="#000" stroke-width="1.2"/>
<line x1="409.58" y1="178.1" x2="409.58" y2="182.54" stroke="#000" stroke-width="1.2"/>
<line x1="409.58" y1="236.3" x2="409.58" y2="231.86" stroke="#000" stroke-width="1.2"/>
<line x1="409.58" y1="236.3" x2="409.58" y2="240.74" stroke="#000" stroke-width="1.2"/>
<line x1="409.58" y1="331" x2="409.58" y2="326.56" stroke="#000" stroke-width="1.2"/>
<line x1="413.7" y1="178.1" x2="413.7" y2="180.32" stroke="#000" stroke-width="1.2"/>
<line x1="413.7" y1="236.3" x2="413.7" y2="234.08" stroke="#000" stroke-width="1.2"/>
<line x1="413.7" y1="236.3" x2="413.7" y2="238.52" stroke="#000" stroke-width="1.2"/>
<line x1="413.7" y1="331" x2="413.7" y2="328.78" stroke="#000" stroke-width="1.2"/>
<line x1="417.81" y1="178.1" x2="417.81" y2="180.32" stroke="#000" stroke-width="1.2"/>
<line x1="417.81" y1="236.3" x2="417.81" y2="234.08" stroke="#000" stroke-width="1.2"/>
<line x1="417.81" y1="236.3" x2="417.81" y2="238.52" stroke="#000" stroke-width="1.2"/>
<line x1="417.81" y1="331" x2="417.81" y2="328.78" stroke="#000" stroke-width="1.2"/>
<line x1="421.93" y1="178.1" x2="421.93" y2="180.32" stroke="#000" stroke-width="1.2"/>
<line x1="421.93" y1="236.3" x2="421.93" y2="234.08" stroke="#000" stroke-width="1.2"/>
<line x1="421.93" y1="236.3" x2="421.93" y2="238.52" stroke="#000" stroke-width="1.2"/>
<line x1="421.93" y1="331" x2="421.93" y2="328.78" stroke="#000" stroke-width="1.2"/>
<line x1="426.05" y1="178.1" x2="426.05" y2="180.32" stroke="#000" stroke-width="1.2"/>
<line x1="426.05" y1="236.3" x2="426.05" y2="234.08" stroke="#000" stroke-width="1.2"/>
<line x1="426.05" y1="236.3" x2="426.05" y2="238.52" stroke="#000" stroke-width="1.2"/>
<line x1="426.05" y1="331" x2="426.05" y2="328.78" stroke="#000" stroke-width="1.2"/>
<line x1="430.17" y1="178.1" x2="430.17" y2="180.32" stroke="#000" stroke-width="1.2"/>
<line x1="430.17" y1="236.3" x2="430.17" y2="234.08" stroke="#000" stroke-width="1.2"/>
<line x1="430.17" y1="236.3" x2="430.17" y2="238.52" stroke="#000" stroke-width="1.2"/>
<line x1="430.17" y1="331" x2="430.17" y2="328.78" stroke="#000" stroke-width="1.2"/>
<line x1="434.29" y1="178.1" x2="434.29" y2="180.32" stroke="#000" stroke-width="1.2"/>
<line x1="434.29" y1="236.3" x2="434.29" y2="234.08" stroke="#000" stroke-width="1.2"/>
<line x1="434.29" y1="236.3" x2="434.29" y2="238.52" stroke="#000" stroke-width="1.2"/>
<line x1="434.29" y1="331" x2="434.29" y2="328.78" stroke="#000" stroke-width="1.2"/>
<line x1="438.41" y1="178.1" x2="438.41" y2="180.32" stroke="#000" stroke-width="1.2"/>
<line x1="438.41" y1="236.3" x2="438.41" y2="234.08" stroke="#000" stroke-width="1.2"/>
<line x1="438.41" y1="236.3" x2="438.41" y2="238.52" stroke="#000" stroke-width="1.2"/>
<line x1="438.41" y1="331" x2="438.41" y2="328.78" stroke="#000" stroke-width="1.2"/>
<line x1="442.52" y1="178.1" x2="442.52" y2="180.32" stroke="#000" stroke-width="1.2"/>
<line x1="442.52" y1="236.3" x2="442.52" y2="234.08" stroke="#000" stroke-width="1.2"/>
<line x1="442.52" y1="236.3" x2="442.52" y2="238.52" stroke="#000" stroke-width="1.2"/>
<line x1="442.52" y1="331" x2="442.52" y2="328.78" stroke="#000" stroke-width="1.2"/>
<line x1="446.64" y1="178.1" x2="446.64" y2="180.32" stroke="#000" stroke-width="1.2"/>
<line x1="446.64" y1="236.3" x2="446.64" y2="234.08" stroke="#000" stroke-width="1.2"/>
<line x1="446.64" y1="236.3" x2="446.64" y2="238.52" stroke="#000" stroke-width="1.2"/>
<line x1="446.64" y1="331" x2="446.64" y2="328.78" stroke="#000" stroke-width="1.2"/>
<line x1="450.76" y1="178.1" x2="450.76" y2="182.54" stroke="#000" stroke-width="1.2"/>
<line x1="450.76" y1="236.3" x2="450.76" y2="231.86" stroke="#000" stroke-width="1.2"/>
<line x1="450.76" y1="236.3" x2="450.76" y2="240.74" stroke="#000" stroke-width="1.2"/>
<line x1="450.76" y1="331" x2="450.76" y2="326.56" stroke="#000" stroke-width="1.2"/>
<line x1="454.88" y1="178.1" x2="454.88" y2="180.32" stroke="#000" stroke-width="1.2"/>
<line x1="454.88" y1="236.3" x2="454.88" y2="234.08" stroke="#000" stroke-width="1.2"/>
<line x1="454.88" y1="236.3" x2="454.88" y2="238.52" stroke="#000" stroke-width="1.2"/>
<line x1="454.88" y1="331" x2="454.88" y2="328.78" stroke="#000" stroke-width="1.2"/>
<line x1="459" y1="178.1" x2="459" y2="180.32" stroke="#000" stroke-width="1.2"/>
<line x1="459" y1="236.3" x2="459" y2="234.08" stroke="#000" stroke-width="1.2"/>
<line x1="459" y1="236.3" x2="459" y2="238.52" stroke="#000" stroke-width="1.2"/>
<line x1="459" y1="331" x2="459" y2="328.78" stroke="#000" stroke-width="1.2"/>
<line x1="463.12" y1="178.1" x2="463.12" y2="180.32" stroke="#000" stroke-width="1.2"/>
<line x1="463.12" y1="236.3" x2="463.12" y2="234.08" stroke="#000" stroke-width="1.2"/>
<line x1="463.12" y1="236.3" x2="463.12" y2="238.52" stroke="#000" stroke-width="1.2"/>
<line x1="463.12" y1="331" x2="463.12" y2="328.78" stroke="#000" stroke-width="1.2"/>
<line x1="467.24" y1="178.1" x2="467.24" y2="180.32" stroke="#000" stroke-width="1.2"/>
<line x1="467.24" y1="236.3" x2="467.24" y2="234.08" stroke="#000" stroke-width="1.2"/>
<line x1="467.24" y1="236.3" x2="467.24" y2="238.52" stroke="#000" stroke-width="1.2"/>
<line x1="467.24" y1="331" x2="467.24" y2="328.78" stroke="#000" stroke-width="1.2"/>
<line x1="471.35" y1="178.1" x2="471.35" y2="180.32" stroke="#000" stroke-width="1.2"/>
<line x1="471.35" y1="236.3" x2="471.35" y2="234.08" stroke="#000" stroke-width="1.2"/>
<line x1="471.35" y1="236.3" x2="471.35" y2="238.52" stroke="#000" stroke-width="1.2"/>
<line x1="471.35" y1="331" x2="471.35" y2="328.78" stroke="#000" stroke-width="1.2"/>
<line x1="475.47" y1="178.1" x2="475.47" y2="180.32" stroke="#000" stroke-width="1.2"/>
<line x1="475.47" y1="236.3" x2="475.47" y2="234.08" stroke="#000" stroke-width="1.2"/>
<line x1="475.47" y1="236.3" x2="475.47" y2="238.52" stroke="#000" stroke-width="1.2"/>
<line x1="475.47" y1="331" x2="475.47" y2="328.78" stroke="#000" stroke-width="1.2"/>
<line x1="479.59" y1="178.1" x2="479.59" y2="180.32" stroke="#000" stroke-width="1.2"/>
<line x1="479.59" y1="236.3" x2="479.59" y2="234.08" stroke="#000" stroke-width="1.2"/>
<line x1="479.59" y1="236.3" x2="479.59" y2="238.52" stroke="#000" stroke-width="1.2"/>
<line x1="479.59" y1="331" x2="479.59" y2="328.78" stroke="#000" stroke-width="1.2"/>
<line x1="483.71" y1="178.1" x2="483.71" y2="180.32" stroke="#000" stroke-width="1.2"/>
<line x1="483.71" y1="236.3" x2="483.71" y2="234.08" stroke="#000" stroke-width="1.2"/>
<line x1="483.71" y1="236.3" x2="483.71" y2="238.52" stroke="#000" stroke-width="1.2"/>
<line x1="483.71" y1="331" x2="483.71" y2="328.78" stroke="#000" stroke-width="1.2"/>
<line x1="487.83" y1="178.1" x2="487.83" y2="180.32" stroke="#000" stroke-width="1.2"/>
<line x1="487.83" y1="236.3" x2="487.83" y2="234.08" stroke="#000" stroke-width="1.2"/>
<line x1="487.83" y1="236.3" x2="487.83" y2="238.52" stroke="#000" stroke-width="1.2"/>
<line x1="487.83" y1="331" x2="487.83" y2="328.78" stroke="#000" stroke-width="1.2"/>
<line x1="491.95" y1="178.1" x2="491.95" y2="182.54" stroke="#000" stroke-width="1.2"/>
<line x1="491.95" y1="236.3" x2="491.95" y2="231.86" stroke="#000" stroke-width="1.2"/>
<line x1="491.95" y1="236.3" x2="491.95" y2="240.74" stroke="#000" stroke-width="1.2"/>
<line x1="491.95" y1="331" x2="491.95" y2="326.56" stroke="#000" stroke-width="1.2"/>
<line x1="496.06" y1="178.1" x2="496.06" y2="180.32" stroke="#000" stroke-width="1.2"/>
<line x1="496.06" y1="236.3" x2="496.06" y2="234.08" stroke="#000" stroke-width="1.2"/>
<line x1="496.06" y1="236.3" x2="496.06" y2="238.52" stroke="#000" stroke-width="1.2"/>
<line x1="496.06" y1="331" x2="496.06" y2="328.78" stroke="#000" stroke-width="1.2"/>
<line x1="500.18" y1="178.1" x2="500.18" y2="180.32" stroke="#000" stroke-width="1.2"/>
<line x1="500.18" y1="236.3" x2="500.18" y2="234.08" stroke="#000" stroke-width="1.2"/>
<line x1="500.18" y1="236.3" x2="500.18" y2="238.52" stroke="#000" stroke-width="1.2"/>
<line x1="500.18" y1="331" x2="500.18" y2="328.78" stroke="#000" stroke-width="1.2"/>
<line x1="504.3" y1="178.1" x2="504.3" y2="180.32" stroke="#000" stroke-width="1.2"/>
<line x1="504.3" y1="236.3" x2="504.3" y2="234.08" stroke="#000" stroke-width="1.2"/>
<line x1="504.3" y1="236.3" x2="504.3" y2="238.52" stroke="#000" stroke-width="1.2"/>
<line x1="504.3" y1="331" x2="504.3" y2="328.78" stroke="#000" stroke-width="1.2"/>
<line x1="508.42" y1="178.1" x2="508.42" y2="180.32" stroke="#000" stroke-width="1.2"/>
<line x1="508.42" y1="236.3" x2="508.42" y2="234.08" stroke="#000" stroke-width="1.2"/>
<line x1="508.42" y1="236.3" x2="508.42" y2="238.52" stroke="#000" stroke-width="1.2"/>
<line x1="508.42" y1="331" x2="508.42" y2="328.78" stroke="#000" stroke-width="1.2"/>
<line x1="512.54" y1="178.1" x2="512.54" y2="180.32" stroke="#000" stroke-width="1.2"/>
<line x1="512.54" y1="236.3" x2="512.54" y2="234.08" stroke="#000" stroke-width="1.2"/>
<line x1="512.54" y1="236.3" x2="512.54" y2="238.52" stroke="#000" stroke-width="1.2"/>
<line x1="512.54" y1="331" x2="512.54" y2="328.78" stroke="#000" stroke-width="1.2"/>
<line x1="516.66" y1="178.1" x2="516.66" y2="180.32" stroke="#000" stroke-width="1.2"/>
<line x1="516.66" y1="236.3" x2="516.66" y2="234.08" stroke="#000" stroke-width="1.2"/>
<line x1="516.66" y1="236.3" x2="516.66" y2="238.52" stroke="#000" stroke-width="1.2"/>
<line x1="516.66" y1="331" x2="516.66" y2="328.78" stroke="#000" stroke-width="1.2"/>
<line x1="520.78" y1="178.1" x2="520.78" y2="180.32" stroke="#000" stroke-width="1.2"/>
<line x1="520.78" y1="236.3" x2="520.78" y2="234.08" stroke="#000" stroke-width="1.2"/>
<line x1="520.78" y1="236.3" x2="520.78" y2="238.52" stroke="#000" stroke-width="1.2"/>
<line x1="520.78" y1="331" x2="520.78" y2="328.78" stroke="#000" stroke-width="1.2"/>
<line x1="524.89" y1="178.1" x2="524.89" y2="180.32" stroke="#000" stroke-width="1.2"/>
<line x1="524.89" y1="236.3" x2="524.89" y2="234.08" stroke="#000" stroke-width="1.2"/>
<line x1="524.89" y1="236.3" x2="524.89" y2="238.52" stroke="#000" stroke-width="1.2"/>
<line x1="524.89" y1="331" x2="524.89" y2="328.78" stroke="#000" stroke-width="1.2"/>
<line x1="529.01" y1="178.1" x2="529.01" y2="180.32" stroke="#000" stroke-width="1.2"/>
<line x1="529.01" y1="236.3" x2="529.01" y2="234.08" stroke="#000" stroke-width="1.2"/>
<line x1="529.01" y1="236.3" x2="529.01" y2="238.52" stroke="#000" stroke-width="1.2"/>
<line x1="529.01" y1="331" x2="529.01" y2="328.78" stroke="#000" stroke-width="1.2"/>
<line x1="533.13" y1="178.1" x2="533.13" y2="182.54" stroke="#000" stroke-width="1.2"/>
<line x1="533.13" y1="236.3" x2="533.13" y2="231.86" stroke="#000" stroke-width="1.2"/>
<line x1="533.13" y1="236.3" x2="533.13" y2="240.74" stroke="#000" stroke-width="1.2"/>
<line x1="533.13" y1="331" x2="533.13" y2="326.56" stroke="#000" stroke-width="1.2"/>
<line x1="537.25" y1="178.1" x2="537.25" y2="180.32" stroke="#000" stroke-width="1.2"/>
<line x1="537.25" y1="236.3" x2="537.25" y2="234.08" stroke="#000" stroke-width="1.2"/>
<line x1="537.25" y1="236.3" x2="537.25" y2="238.52" stroke="#000" stroke-width="1.2"/>
<line x1="537.25" y1="331" x2="537.25" y2="328.78" stroke="#000" stroke-width="1.2"/>
<line x1="541.37" y1="178.1" x2="541.37" y2="180.32" stroke="#000" stroke-width="1.2"/>
<line x1="541.37" y1="236.3" x2="541.37" y2="234.08" stroke="#000" stroke-width="1.2"/>
<line x1="541.37" y1="236.3" x2="541.37" y2="238.52" stroke="#000" stroke-width="1.2"/>
<line x1="541.37" y1="331" x2="541.37" y2="328.78" stroke="#000" stroke-width="1.2"/>
<line x1="545.49" y1="178.1" x2="545.49" y2="180.32" stroke="#000" stroke-width="1.2"/>
<line x1="545.49" y1="236.3" x2="545.49" y2="234.08" stroke="#000" stroke-width="1.2"/>
<line x1="545.49" y1="236.3" x2="545.49" y2="238.52" stroke="#000" stroke-width="1.2"/>
<line x1="545.49" y1="331" x2="545.49" y2="328.78" stroke="#000" stroke-width="1.2"/>
<line x1="549.6" y1="178.1" x2="549.6" y2="180.32" stroke="#000" stroke-width="1.2"/>
<line x1="549.6" y1="236.3" x2="549.6" y2="234.08" stroke="#000" stroke-width="1.2"/>
<line x1="549.6" y1="236.3" x2="549.6" y2="238.52" stroke="#000" stroke-width="1.2"/>
<line x1="549.6" y1="331" x2="549.6" y2="328.78" stroke="#000" stroke-width="1.2"/>
<line x1="553.72" y1="178.1" x2="553.72" y2="180.32" stroke="#000" stroke-width="1.2"/>
<line x1="553.72" y1="236.3" x2="553.72" y2="234.08" stroke="#000" stroke-width="1.2"/>
<line x1="553.72" y1="236.3" x2="553.72" y2="238.52" stroke="#000" stroke-width="1.2"/>
<line x1="553.72" y1="331" x2="553.72" y2="328.78" stroke="#000" stroke-width="1.2"/>
<line x1="557.84" y1="178.1" x2="557.84" y2="180.32" stroke="#000" stroke-width="1.2"/>
<line x1="557.84" y1="236.3" x2="557.84" y2="234.08" stroke="#000" stroke-width="1.2"/>
<line x1="557.84" y1="236.3" x2="557.84" y2="238.52" stroke="#000" stroke-width="1.2"/>
<line x1="557.84" y1="331" x2="557.84" y2="328.78" stroke="#000" stroke-width="1.2"/>
<line x1="561.96" y1="178.1" x2="561.96" y2="180.32" stroke="#000" stroke-width="1.2"/>
<line x1="561.96" y1="236.3" x2="561.96" y2="234.08" stroke="#000" stroke-width="1.2"/>
<line x1="561.96" y1="236.3" x2="561.96" y2="238.52" stroke="#000" stroke-width="1.2"/>
<line x1="561.96" y1="331" x2="561.96" y2="328.78" stroke="#000" stroke-width="1.2"/>
<line x1="566.08" y1="178.1" x2="566.08" y2="180.32" stroke="#000" stroke-width="1.2"/>
<line x1="566.08" y1="236.3" x2="566.08" y2="234.08" stroke="#000" stroke-width="1.2"/>
<line x1="566.08" y1="236.3" x2="566.08" y2="238.52" stroke="#000" stroke-width="1.2"/>
<line x1="566.08" y1="331" x2="566.08" y2="328.78" stroke="#000" stroke-width="1.2"/>
<line x1="570.2" y1="178.1" x2="570.2" y2="180.32" stroke="#000" stroke-width="1.2"/>
<line x1="570.2" y1="236.3" x2="570.2" y2="234.08" stroke="#000" stroke-width="1.2"/>
<line x1="570.2" y1="236.3" x2="570.2" y2="238.52" stroke="#000" stroke-width="1.2"/>
<line x1="570.2" y1="331" x2="570.2" y2="328.78" stroke="#000" stroke-width="1.2"/>
<line x1="574.32" y1="178.1" x2="574.32" y2="182.54" stroke="#000" stroke-width="1.2"/>
<line x1="574.32" y1="236.3" x2="574.32" y2="231.86" stroke="#000" stroke-width="1.2"/>
<line x1="574.32" y1="236.3" x2="574.32" y2="240.74" stroke="#000" stroke-width="1.2"/>
<line x1="574.32" y1="331" x2="574.32" y2="326.56" stroke="#000" stroke-width="1.2"/>
<line x1="578.43" y1="178.1" x2="578.43" y2="180.32" stroke="#000" stroke-width="1.2"/>
<line x1="578.43" y1="236.3" x2="578.43" y2="234.08" stroke="#000" stroke-width="1.2"/>
<line x1="578.43" y1="236.3" x2="578.43" y2="238.52" stroke="#000" stroke-width="1.2"/>
<line x1="578.43" y1="331" x2="578.43" y2="328.78" stroke="#000" stroke-width="1.2"/>
<line x1="582.55" y1="178.1" x2="582.55" y2="180.32" stroke="#000" stroke-width="1.2"/>
<line x1="582.55" y1="236.3" x2="582.55" y2="234.08" stroke="#000" stroke-width="1.2"/>
<line x1="582.55" y1="236.3" x2="582.55" y2="238.52" stroke="#000" stroke-width="1.2"/>
<line x1="582.55" y1="331" x2="582.55" y2="328.78" stroke="#000" stroke-width="1.2"/>
<line x1="586.67" y1="178.1" x2="586.67" y2="180.32" stroke="#000" stroke-width="1.2"/>
<line x1="586.67" y1="236.3" x2="586.67" y2="234.08" stroke="#000" stroke-width="1.2"/>
<line x1="586.67" y1="236.3" x2="586.67" y2="238.52" stroke="#000" stroke-width="1.2"/>
<line x1="586.67" y1="331" x2="586.67" y2="328.78" stroke="#000" stroke-width="1.2"/>
<line x1="590.79" y1="178.1" x2="590.79" y2="180.32" stroke="#000" stroke-width="1.2"/>
<line x1="590.79" y1="236.3" x2="590.79" y2="234.08" stroke="#000" stroke-width="1.2"/>
<line x1="590.79" y1="236.3" x2="590.79" y2="238.52" stroke="#000" stroke-width="1.2"/>
<line x1="590.79" y1="331" x2="590.79" y2="328.78" stroke="#000" stroke-width="1.2"/>
<line x1="594.91" y1="178.1" x2="594.91" y2="180.32" stroke="#000" stroke-width="1.2"/>
<line x1="594.91" y1="236.3" x2="594.91" y2="234.08" stroke="#000" stroke-width="1.2"/>
<line x1="594.91" y1="236.3" x2="594.91" y2="238.52" stroke="#000" stroke-width="1.2"/>
<line x1="594.91" y1="331" x2="594.91" y2="328.78" stroke="#000" stroke-width="1.2"/>
<line x1="599.03" y1="178.1" x2="599.03" y2="180.32" stroke="#000" stroke-width="1.2"/>
<line x1="599.03" y1="236.3" x2="599.03" y2="234.08" stroke="#000" stroke-width="1.2"/>
<line x1="599.03" y1="236.3" x2="599.03" y2="238.52" stroke="#000" stroke-width="1.2"/>
<line x1="599.03" y1="331" x2="599.03" y2="328.78" stroke="#000" stroke-width="1.2"/>
<line x1="603.14" y1="178.1" x2="603.14" y2="180.32" stroke="#000" stroke-width="1.2"/>
<line x1="603.14" y1="236.3" x2="603.14" y2="234.08" stroke="#000" stroke-width="1.2"/>
<line x1="603.14" y1="236.3" x2="603.14" y2="238.52" stroke="#000" stroke-width="1.2"/>
<line x1="603.14" y1="331" x2="603.14" y2="328.78" stroke="#000" stroke-width="1.2"/>
<line x1="607.26" y1="178.1" x2="607.26" y2="180.32" stroke="#000" stroke-width="1.2"/>
<line x1="607.26" y1="236.3" x2="607.26" y2="234.08" stroke="#000" stroke-width="1.2"/>
<line x1="607.26" y1="236.3" x2="607.26" y2="238.52" stroke="#000" stroke-width="1.2"/>
<line x1="607.26" y1="331" x2="607.26" y2="328.78" stroke="#000" stroke-width="1.2"/>
<line x1="611.38" y1="178.1" x2="611.38" y2="180.32" stroke="#000" stroke-width="1.2"/>
<line x1="611.38" y1="236.3" x2="611.38" y2="234.08" stroke="#000" stroke-width="1.2"/>
<line x1="611.38" y1="236.3" x2="611.38" y2="238.52" stroke="#000" stroke-width="1.2"/>
<line x1="611.38" y1="331" x2="611.38" y2="328.78" stroke="#000" stroke-width="1.2"/>
<line x1="347.8" y1="319.16" x2="350.02" y2="319.16" stroke="#000" stroke-width="1.2"/>
<line x1="615.5" y1="319.16" x2="613.28" y2="319.16" stroke="#000" stroke-width="1.2"/>
<line x1="347.8" y1="307.32" x2="352.24" y2="307.32" stroke="#000" stroke-width="1.2"/>
<line x1="615.5" y1="307.32" x2="611.06" y2="307.32" stroke="#000" stroke-width="1.2"/>
<line x1="347.8" y1="295.49" x2="350.02" y2="295.49" stroke="#000" stroke-width="1.2"/>
<line x1="615.5" y1="295.49" x2="613.28" y2="295.49" stroke="#000" stroke-width="1.2"/>
<line x1="347.8" y1="283.65" x2="352.24" y2="283.65" stroke="#000" stroke-width="1.2"/>
<line x1="615.5" y1="283.65" x2="611.06" y2="283.65" stroke="#000" stroke-width="1.2"/>
<line x1="347.8" y1="271.81" x2="350.02" y2="271.81" stroke="#000" stroke-width="1.2"/>
<line x1="615.5" y1="271.81" x2="613.28" y2="271.81" stroke="#000" stroke-width="1.2"/>
<line x1="347.8" y1="259.98" x2="352.24" y2="259.98" stroke="#000" stroke-width="1.2"/>
<line x1="615.5" y1="259.98" x2="611.06" y2="259.98" stroke="#000" stroke-width="1.2"/>
<line x1="347.8" y1="248.14" x2="350.02" y2="248.14" stroke="#000" stroke-width="1.2"/>
<line x1="615.5" y1="248.14" x2="613.28" y2="248.14" stroke="#000" stroke-width="1.2"/>
<line x1="347.8" y1="184.7" x2="350.02" y2="184.7" stroke="#000" stroke-width="1.2"/>
<line x1="615.5" y1="184.7" x2="613.28" y2="184.7" stroke="#000" stroke-width="1.2"/>
<line x1="347.8" y1="191.1" x2="352.24" y2="191.1" stroke="#000" stroke-width="1.2"/>
<line x1="615.5" y1="191.1" x2="611.06" y2="191.1" stroke="#000" stroke-width="1.2"/>
<line x1="347.8" y1="197.5" x2="350.02" y2="197.5" stroke="#000" stroke-width="1.2"/>
<line x1="615.5" y1="197.5" x2="613.28" y2="197.5" stroke="#000" stroke-width="1.2"/>
<line x1="347.8" y1="203.9" x2="352.24" y2="203.9" stroke="#000" stroke-width="1.2"/>
<line x1="615.5" y1="203.9" x2="611.06" y2="203.9" stroke="#000" stroke-width="1.2"/>
<line x1="347.8" y1="210.3" x2="350.02" y2="210.3" stroke="#000" stroke-width="1.2"/>
<line x1="615.5" y1="210.3" x2="613.28" y2="210.3" stroke="#000" stroke-width="1.2"/>
<line x1="347.8" y1="216.7" x2="352.24" y2="216.7" stroke="#000" stroke-width="1.2"/>
<line x1="615.5" y1="216.7" x2="611.06" y2="216.7" stroke="#000" stroke-width="1.2"/>
<line x1="347.8" y1="223.1" x2="350.02" y2="223.1" stroke="#000" stroke-width="1.2"/>
<line x1="615.5" y1="223.1" x2="613.28" y2="223.1" stroke="#000" stroke-width="1.2"/>
<line x1="347.8" y1="229.5" x2="352.24" y2="229.5" stroke="#000" stroke-width="1.2"/>
<line x1="615.5" y1="229.5" x2="611.06" y2="229.5" stroke="#000" stroke-width="1.2"/>
<rect x="347.8" y="178.1" width="267.7" height="152.9" fill="none" stroke="#000" stroke-width="1.2"/>
<line x1="347.8" y1="236.3" x2="615.5" y2="236.3" stroke="#000" stroke-width="1.2"/>
<line x1="46.44" y1="355.4" x2="46.44" y2="357.62" stroke="#000" stroke-width="1.2"/>
<line x1="46.44" y1="413.5" x2="46.44" y2="411.28" stroke="#000" stroke-width="1.2"/>
<line x1="46.44" y1="413.5" x2="46.44" y2="415.72" stroke="#000" stroke-width="1.2"/>
<line x1="46.44" y1="508.4" x2="46.44" y2="506.18" stroke="#000" stroke-width="1.2"/>
<line x1="52.38" y1="355.4" x2="52.38" y2="357.62" stroke="#000" stroke-width="1.2"/>
<line x1="52.38" y1="413.5" x2="52.38" y2="411.28" stroke="#000" stroke-width="1.2"/>
<line x1="52.38" y1="413.5" x2="52.38" y2="415.72" stroke="#000" stroke-width="1.2"/>
<line x1="52.38" y1="508.4" x2="52.38" y2="506.18" stroke="#000" stroke-width="1.2"/>
<line x1="58.33" y1="355.4" x2="58.33" y2="357.62" stroke="#000" stroke-width="1.2"/>
<line x1="58.33" y1="413.5" x2="58.33" y2="411.28" stroke="#000" stroke-width="1.2"/>
<line x1="58.33" y1="413.5" x2="58.33" y2="415.72" stroke="#000" stroke-width="1.2"/>
<line x1="58.33" y1="508.4" x2="58.33" y2="506.18" stroke="#000" stroke-width="1.2"/>
<line x1="64.27" y1="355.4" x2="64.27" y2="357.62" stroke="#000" stroke-width="1.2"/>
<line x1="64.27" y1="413.5" x2="64.27" y2="411.28" stroke="#000" stroke-width="1.2"/>
<line x1="64.27" y1="413.5" x2="64.27" y2="415.72" stroke="#000" stroke-width="1.2"/>
<line x1="64.27" y1="508.4" x2="64.27" y2="506.18" stroke="#000" stroke-width="1.2"/>
<line x1="70.21" y1="355.4" x2="70.21" y2="357.62" stroke="#000" stroke-width="1.2"/>
<line x1="70.21" y1="413.5" x2="70.21" y2="411.28" stroke="#000" stroke-width="1.2"/>
<line x1="70.21" y1="413.5" x2="70.21" y2="415.72" stroke="#000" stroke-width="1.2"/>
<line x1="70.21" y1="508.4" x2="70.21" y2="506.18" stroke="#000" stroke-width="1.2"/>
<line x1="76.15" y1="355.4" x2="76.15" y2="357.62" stroke="#000" stroke-width="1.2"/>
<line x1="76.15" y1="413.5" x2="76.15" y2="411.28" stroke="#000" stroke-width="1.2"/>
<line x1="76.15" y1="413.5" x2="76.15" y2="415.72" stroke="#000" stroke-width="1.2"/>
<line x1="76.15" y1="508.4" x2="76.15" y2="506.18" stroke="#000" stroke-width="1.2"/>
<line x1="82.1" y1="355.4" x2="82.1" y2="357.62" stroke="#000" stroke-width="1.2"/>
<line x1="82.1" y1="413.5" x2="82.1" y2="411.28" stroke="#000" stroke-width="1.2"/>
<line x1="82.1" y1="413.5" x2="82.1" y2="415.72" stroke="#000" stroke-width="1.2"/>
<line x1="82.1" y1="508.4" x2="82.1" y2="506.18" stroke="#000" stroke-width="1.2"/>
<line x1="88.04" y1="355.4" x2="88.04" y2="357.62" stroke="#000" stroke-width="1.2"/>
<line x1="88.04" y1="413.5" x2="88.04" y2="411.28" stroke="#000" stroke-width="1.2"/>
<line x1="88.04" y1="413.5" x2="88.04" y2="415.72" stroke="#000" stroke-width="1.2"/>
<line x1="88.04" y1="508.4" x2="88.04" y2="506.18" stroke="#000" stroke-width="1.2"/>
<line x1="93.98" y1="355.4" x2="93.98" y2="357.62" stroke="#000" stroke-width="1.2"/>
<line x1="93.98" y1="413.5" x2="93.98" y2="411.28" stroke="#000" stroke-width="1.2"/>
<line x1="93.98" y1="413.5" x2="93.98" y2="415.72" stroke="#000" stroke-width="1.2"/>
<line x1="93.98" y1="508.4" x2="93.98" y2="506.18" stroke="#000" stroke-width="1.2"/>
<line x1="99.92" y1="355.4" x2="99.92" y2="359.84" stroke="#000" stroke-width="1.2"/>
<line x1="99.92" y1="413.5" x2="99.92" y2="409.06" stroke="#000" stroke-width="1.2"/>
<line x1="99.92" y1="413.5" x2="99.92" y2="417.94" stroke="#000" stroke-width="1.2"/>
<line x1="99.92" y1="508.4" x2="99.92" y2="503.96" stroke="#000" stroke-width="1.2"/>
<line x1="105.86" y1="355.4" x2="105.86" y2="357.62" stroke="#000" stroke-width="1.2"/>
<line x1="105.86" y1="413.5" x2="105.86" y2="411.28" stroke="#000" stroke-width="1.2"/>
<line x1="105.86" y1="413.5" x2="105.86" y2="415.72" stroke="#000" stroke-width="1.2"/>
<line x1="105.86" y1="508.4" x2="105.86" y2="506.18" stroke="#000" stroke-width="1.2"/>
<line x1="111.81" y1="355.4" x2="111.81" y2="357.62" stroke="#000" stroke-width="1.2"/>
<line x1="111.81" y1="413.5" x2="111.81" y2="411.28" stroke="#000" stroke-width="1.2"/>
<line x1="111.81" y1="413.5" x2="111.81" y2="415.72" stroke="#000" stroke-width="1.2"/>
<line x1="111.81" y1="508.4" x2="111.81" y2="506.18" stroke="#000" stroke-width="1.2"/>
<line x1="117.75" y1="355.4" x2="117.75" y2="357.62" stroke="#000" stroke-width="1.2"/>
<line x1="117.75" y1="413.5" x2="117.75" y2="411.28" stroke="#000" stroke-width="1.2"/>
<line x1="117.75" y1="413.5" x2="117.75" y2="415.72" stroke="#000" stroke-width="1.2"/>
<line x1="117.75" y1="508.4" x2="117.75" y2="506.18" stroke="#000" stroke-width="1.2"/>
<line x1="123.69" y1="355.4" x2="123.69" y2="357.62" stroke="#000" stroke-width="1.2"/>
<line x1="123.69" y1="413.5" x2="123.69" y2="411.28" stroke="#000" stroke-width="1.2"/>
<line x1="123.69" y1="413.5" x2="123.69" y2="415.72" stroke="#000" stroke-width="1.2"/>
<line x1="123.69" y1="508.4" x2="123.69" y2="506.18" stroke="#000" stroke-width="1.2"/>
<line x1="129.63" y1="355.4" x2="129.63" y2="357.62" stroke="#000" stroke-width="1.2"/>
<line x1="129.63" y1="413.5" x2="129.63" y2="411.28" stroke="#000" stroke-width="1.2"/>
<line x1="129.63" y1="413.5" x2="129.63" y2="415.72" stroke="#000" stroke-width="1.2"/>
<line x1="129.63" y1="508.4" x2="129.63" y2="506.18" stroke="#000" stroke-width="1.2"/>
<line x1="135.58" y1="355.4" x2="135.58" y2="357.62" stroke="#000" stroke-width="1.2"/>
<line x1="135.58" y1="413.5" x2="135.58" y2="411.28" stroke="#000" stroke-width="1.2"/>
<line x1="135.58" y1="413.5" x2="135.58" y2="415.72" stroke="#000" stroke-width="1.2"/>
<line x1="135.58" y1="508.4" x2="135.58" y2="506.18" stroke="#000" stroke-width="1.2"/>
<line x1="141.52" y1="355.4" x2="141.52" y2="357.62" stroke="#000" stroke-width="1.2"/>
<line x1="141.52" y1="413.5" x2="141.52" y2="411.28" stroke="#000" stroke-width="1.2"/>
<line x1="141.52" y1="413.5" x2="141.52" y2="415.72" stroke="#000" stroke-width="1.2"/>
<line x1="141.52" y1="508.4" x2="141.52" y2="506.18" stroke="#000" stroke-width="1.2"/>
<line x1="147.46" y1="355.4" x2="147.46" y2="357.62" stroke="#000" stroke-width="1.2"/>
<line x1="147.46" y1="413.5" x2="147.46" y2="411.28" stroke="#000" stroke-width="1.2"/>
<line x1="147.46" y1="413.5" x2="147.46" y2="415.72" stroke="#000" stroke-width="1.2"/>
<line x1="147.46" y1="508.4" x2="147.46" y2="506.18" stroke="#000" stroke-width="1.2"/>
<line x1="153.4" y1="355.4" x2="153.4" y2="357.62" stroke="#000" stroke-width="1.2"/>
<line x1="153.4" y1="413.5" x2="153.4" y2="411.28" stroke="#000" stroke-width="1.2"/>
<line x1="153.4" y1="413.5" x2="153.4" y2="415.72" stroke="#000" stroke-width="1.2"/>
<line x1="153.4" y1="508.4" x2="153.4" y2="506.18" stroke="#000" stroke-width="1.2"/>
<line x1="159.34" y1="355.4" x2="159.34" y2="359.84" stroke="#000" stroke-width="1.2"/>
<line x1="159.34" y1="413.5" x2="159.34" y2="409.06" stroke="#000" stroke-width="1.2"/>
<line x1="159.34" y1="413.5" x2="159.34" y2="417.94" stroke="#000" stroke-width="1.2"/>
<line x1="159.34" y1="508.4" x2="159.34" y2="503.96" stroke="#000" stroke-width="1.2"/>
<line x1="165.29" y1="355.4" x2="165.29" y2="357.62" stroke="#000" stroke-width="1.2"/>
<line x1="165.29" y1="413.5" x2="165.29" y2="411.28" stroke="#000" stroke-width="1.2"/>
<line x1="165.29" y1="413.5" x2="165.29" y2="415.72" stroke="#000" stroke-width="1.2"/>
<line x1="165.29" y1="508.4" x2="165.29" y2="506.18" stroke="#000" stroke-width="1.2"/>
<line x1="171.23" y1="355.4" x2="171.23" y2="357.62" stroke="#000" stroke-width="1.2"/>
<line x1="171.23" y1="413.5" x2="171.23" y2="411.28" stroke="#000" stroke-width="1.2"/>
<line x1="171.23" y1="413.5" x2="171.23" y2="415.72" stroke="#000" stroke-width="1.2"/>
<line x1="171.23" y1="508.4" x2="171.23" y2="506.18" stroke="#000" stroke-width="1.2"/>
<line x1="177.17" y1="355.4" x2="177.17" y2="357.62" stroke="#000" stroke-width="1.2"/>
<line x1="177.17" y1="413.5" x2="177.17" y2="411.28" stroke="#000" stroke-width="1.2"/>
<line x1="177.17" y1="413.5" x2="177.17" y2="415.72" stroke="#000" stroke-width="1.2"/>
<line x1="177.17" y1="508.4" x2="177.17" y2="506.18" stroke="#000" stroke-width="1.2"/>
<line x1="183.11" y1="355.4" x2="183.11" y2="357.62" stroke="#000" stroke-width="1.2"/>
<line x1="183.11" y1="413.5" x2="183.11" y2="411.28" stroke="#000" stroke-width="1.2"/>
<line x1="183.11" y1="413.5" x2="183.11" y2="415.72" stroke="#000" stroke-width="1.2"/>
<line x1="183.11" y1="508.4" x2="183.11" y2="506.18" stroke="#000" stroke-width="1.2"/>
<line x1="189.06" y1="355.4" x2="189.06" y2="357.62" stroke="#000" stroke-width="1.2"/>
<line x1="189.06" y1="413.5" x2="189.06" y2="411.28" stroke="#000" stroke-width="1.2"/>
<line x1="189.06" y1="413.5" x2="189.06" y2="415.72" stroke="#000" stroke-width="1.2"/>
<line x1="189.06" y1="508.4" x2="189.06" y2="506.18" stroke="#000" stroke-width="1.2"/>
<line x1="195" y1="355.4" x2="195" y2="357.62" stroke="#000" stroke-width="1.2"/>
<line x1="195" y1="413.5" x2="195" y2="411.28" stroke="#000" stroke-width="1.2"/>
<line x1="195" y1="413.5" x2="195" y2="415.72" stroke="#000" stroke-width="1.2"/>
<line x1="195" y1="508.4" x2="195" y2="506.18" stroke="#000" stroke-width="1.2"/>
<line x1="200.94" y1="355.4" x2="200.94" y2="357.62" stroke="#000" stroke-width="1.2"/>
<line x1="200.94" y1="413.5" x2="200.94" y2="411.28" stroke="#000" stroke-width="1.2"/>
<line x1="200.94" y1="413.5" x2="200.94" y2="415.72" stroke="#000" stroke-width="1.2"/>
<line x1="200.94" y1="508.4" x2="200.94" y2="506.18" stroke="#000" stroke-width="1.2"/>
<line x1="206.88" y1="355.4" x2="206.88" y2="357.62" stroke="#000" stroke-width="1.2"/>
<line x1="206.88" y1="413.5" x2="206.88" y2="411.28" stroke="#000" stroke-width="1.2"/>
<line x1="206.88" y1="413.5" x2="206.88" y2="415.72" stroke="#000" stroke-width="1.2"/>
<line x1="206.88" y1="508.4" x2="206.88" y2="506.18" stroke="#000" stroke-width="1.2"/>
<line x1="212.82" y1="355.4" x2="212.82" y2="357.62" stroke="#000" stroke-width="1.2"/>
<line x1="212.82" y1="413.5" x2="212.82" y2="411.28" stroke="#000" stroke-width="1.2"/>
<line x1="212.82" y1="413.5" x2="212.82" y2="415.72" stroke="#000" stroke-width="1.2"/>
<line x1="212.82" y1="508.4" x2="212.82" y2="506.18" stroke="#000" stroke-width="1.2"/>
<line x1="218.77" y1="355.4" x2="218.77" y2="359.84" stroke="#000" stroke-width="1.2"/>
<line x1="218.77" y1="413.5" x2="218.77" y2="409.06" stroke="#000" stroke-width="1.2"/>
<line x1="218.77" y1="413.5" x2="218.77" y2="417.94" stroke="#000" stroke-width="1.2"/>
<line x1="218.77" y1="508.4" x2="218.77" y2="503.96" stroke="#000" stroke-width="1.2"/>
<line x1="224.71" y1="355.4" x2="224.71" y2="357.62" stroke="#000" stroke-width="1.2"/>
<line x1="224.71" y1="413.5" x2="224.71" y2="411.28" stroke="#000" stroke-width="1.2"/>
<line x1="224.71" y1="413.5" x2="224.71" y2="415.72" stroke="#000" stroke-width="1.2"/>
<line x1="224.71" y1="508.4" x2="224.71" y2="506.18" stroke="#000" stroke-width="1.2"/>
<line x1="230.65" y1="355.4" x2="230.65" y2="357.62" stroke="#000" stroke-width="1.2"/>
<line x1="230.65" y1="413.5" x2="230.65" y2="411.28" stroke="#000" stroke-width="1.2"/>
<line x1="230.65" y1="413.5" x2="230.65" y2="415.72" stroke="#000" stroke-width="1.2"/>
<line x1="230.65" y1="508.4" x2="230.65" y2="506.18" stroke="#000" stroke-width="1.2"/>
<line x1="236.59" y1="355.4" x2="236.59" y2="357.62" stroke="#000" stroke-width="1.2"/>
<line x1="236.59" y1="413.5" x2="236.59" y2="411.28" stroke="#000" stroke-width="1.2"/>
<line x1="236.59" y1="413.5" x2="236.59" y2="415.72" stroke="#000" stroke-width="1.2"/>
<line x1="236.59" y1="508.4" x2="236.59" y2="506.18" stroke="#000" stroke-width="1.2"/>
<line x1="242.54" y1="355.4" x2="242.54" y2="357.62" stroke="#000" stroke-width="1.2"/>
<line x1="242.54" y1="413.5" x2="242.54" y2="411.28" stroke="#000" stroke-width="1.2"/>
<line x1="242.54" y1="413.5" x2="242.54" y2="415.72" stroke="#000" stroke-width="1.2"/>
<line x1="242.54" y1="508.4" x2="242.54" y2="506.18" stroke="#000" stroke-width="1.2"/>
<line x1="248.48" y1="355.4" x2="248.48" y2="357.62" stroke="#000" stroke-width="1.2"/>
<line x1="248.48" y1="413.5" x2="248.48" y2="411.28" stroke="#000" stroke-width="1.2"/>
<line x1="248.48" y1="413.5" x2="248.48" y2="415.72" stroke="#000" stroke-width="1.2"/>
<line x1="248.48" y1="508.4" x2="248.48" y2="506.18" stroke="#000" stroke-width="1.2"/>
<line x1="254.42" y1="355.4" x2="254.42" y2="357.62" stroke="#000" stroke-width="1.2"/>
<line x1="254.42" y1="413.5" x2="254.42" y2="411.28" stroke="#000" stroke-width="1.2"/>
<line x1="254.42" y1="413.5" x2="254.42" y2="415.72" stroke="#000" stroke-width="1.2"/>
<line x1="254.42" y1="508.4" x2="254.42" y2="506.18" stroke="#000" stroke-width="1.2"/>
<line x1="260.36" y1="355.4" x2="260.36" y2="357.62" stroke="#000" stroke-width="1.2"/>
<line x1="260.36" y1="413.5" x2="260.36" y2="411.28" stroke="#000" stroke-width="1.2"/>
<line x1="260.36" y1="413.5" x2="260.36" y2="415.72" stroke="#000" stroke-width="1.2"/>
<line x1="260.36" y1="508.4" x2="260.36" y2="506.18" stroke="#000" stroke-width="1.2"/>
<line x1="266.3" y1="355.4" x2="266.3" y2="357.62" stroke="#000" stroke-width="1.2"/>
<line x1="266.3" y1="413.5" x2="266.3" y2="411.28" stroke="#000" stroke-width="1.2"/>
<line x1="266.3" y1="413.5" x2="266.3" y2="415.72" stroke="#000" stroke-width="1.2"/>
<line x1="266.3" y1="508.4" x2="266.3" y2="506.18" stroke="#000" stroke-width="1.2"/>
<line x1="272.25" y1="355.4" x2="272.25" y2="357.62" stroke="#000" stroke-width="1.2"/>
<line x1="272.25" y1="413.5" x2="272.25" y2="411.28" stroke="#000" stroke-width="1.2"/>
<line x1="272.25" y1="413.5" x2="272.25" y2="415.72" stroke="#000" stroke-width="1.2"/>
<line x1="272.25" y1="508.4" x2="272.25" y2="506.18" stroke="#000" stroke-width="1.2"/>
<line x1="278.19" y1="355.4" x2="278.19" y2="359.84" stroke="#000" stroke-width="1.2"/>
<line x1="278.19" y1="413.5" x2="278.19" y2="409.06" stroke="#000" stroke-width="1.2"/>
<line x1="278.19" y1="413.5" x2="278.19" y2="417.94" stroke="#000" stroke-width="1.2"/>
<line x1="278.19" y1="508.4" x2="278.19" y2="503.96" stroke="#000" stroke-width="1.2"/>
<line x1="284.13" y1="355.4" x2="284.13" y2="357.62" stroke="#000" stroke-width="1.2"/>
<line x1="284.13" y1="413.5" x2="284.13" y2="411.28" stroke="#000" stroke-width="1.2"/>
<line x1="284.13" y1="413.5" x2="284.13" y2="415.72" stroke="#000" stroke-width="1.2"/>
<line x1="284.13" y1="508.4" x2="284.13" y2="506.18" stroke="#000" stroke-width="1.2"/>
<line x1="290.07" y1="355.4" x2="290.07" y2="357.62" stroke="#000" stroke-width="1.2"/>
<line x1="290.07" y1="413.5" x2="290.07" y2="411.28" stroke="#000" stroke-width="1.2"/>
<line x1="290.07" y1="413.5" x2="290.07" y2="415.72" stroke="#000" stroke-width="1.2"/>
<line x1="290.07" y1="508.4" x2="290.07" y2="506.18" stroke="#000" stroke-width="1.2"/>
<line x1="296.02" y1="355.4" x2="296.02" y2="357.62" stroke="#000" stroke-width="1.2"/>
<line x1="296.02" y1="413.5" x2="296.02" y2="411.28" stroke="#000" stroke-width="1.2"/>
<line x1="296.02" y1="413.5" x2="296.02" y2="415.72" stroke="#000" stroke-width="1.2"/>
<line x1="296.02" y1="508.4" x2="296.02" y2="506.18" stroke="#000" stroke-width="1.2"/>
<line x1="301.96" y1="355.4" x2="301.96" y2="357.62" stroke="#000" stroke-width="1.2"/>
<line x1="301.96" y1="413.5" x2="301.96" y2="411.28" stroke="#000" stroke-width="1.2"/>
<line x1="301.96" y1="413.5" x2="301.96" y2="415.72" stroke="#000" stroke-width="1.2"/>
<line x1="301.96" y1="508.4" x2="301.96" y2="506.18" stroke="#000" stroke-width="1.2"/>
<line x1="40.5" y1="496.54" x2="42.72" y2="496.54" stroke="#000" stroke-width="1.2"/>
<line x1="307.9" y1="496.54" x2="305.68" y2="496.54" stroke="#000" stroke-width="1.2"/>
<line x1="40.5" y1="484.67" x2="44.94" y2="484.67" stroke="#000" stroke-width="1.2"/>
<line x1="307.9" y1="484.67" x2="303.46" y2="484.67" stroke="#000" stroke-width="1.2"/>
<line x1="40.5" y1="472.81" x2="42.72" y2="472.81" stroke="#000" stroke-width="1.2"/>
<line x1="307.9" y1="472.81" x2="305.68" y2="472.81" stroke="#000" stroke-width="1.2"/>
<line x1="40.5" y1="460.95" x2="44.94" y2="460.95" stroke="#000" stroke-width="1.2"/>
<line x1="307.9" y1="460.95" x2="303.46" y2="460.95" stroke="#000" stroke-width="1.2"/>
<line x1="40.5" y1="449.09" x2="42.72" y2="449.09" stroke="#000" stroke-width="1.2"/>
<line x1="307.9" y1="449.09" x2="305.68" y2="449.09" stroke="#000" stroke-width="1.2"/>
<line x1="40.5" y1="437.23" x2="44.94" y2="437.23" stroke="#000" stroke-width="1.2"/>
<line x1="307.9" y1="437.23" x2="303.46" y2="437.23" stroke="#000" stroke-width="1.2"/>
<line x1="40.5" y1="425.36" x2="42.72" y2="425.36" stroke="#000" stroke-width="1.2"/>
<line x1="307.9" y1="425.36" x2="305.68" y2="425.36" stroke="#000" stroke-width="1.2"/>
<line x1="40.5" y1="360.3" x2="44.94" y2="360.3" stroke="#000" stroke-width="1.2"/>
<line x1="307.9" y1="360.3" x2="303.46" y2="360.3" stroke="#000" stroke-width="1.2"/>
<line x1="40.5" y1="368.68" x2="42.72" y2="368.68" stroke="#000" stroke-width="1.2"/>
<line x1="307.9" y1="368.68" x2="305.68" y2="368.68" stroke="#000" stroke-width="1.2"/>
<line x1="40.5" y1="377.07" x2="44.94" y2="377.07" stroke="#000" stroke-width="1.2"/>
<line x1="307.9" y1="377.07" x2="303.46" y2="377.07" stroke="#000" stroke-width="1.2"/>
<line x1="40.5" y1="385.45" x2="42.72" y2="385.45" stroke="#000" stroke-width="1.2"/>
<line x1="307.9" y1="385.45" x2="305.68" y2="385.45" stroke="#000" stroke-width="1.2"/>
<line x1="40.5" y1="393.84" x2="44.94" y2="393.84" stroke="#000" stroke-width="1.2"/>
<line x1="307.9" y1="393.84" x2="303.46" y2="393.84" stroke="#000" stroke-width="1.2"/>
<line x1="40.5" y1="402.22" x2="42.72" y2="402.22" stroke="#000" stroke-width="1.2"/>
<line x1="307.9" y1="402.22" x2="305.68" y2="402.22" stroke="#000" stroke-width="1.2"/>
<line x1="40.5" y1="410.61" x2="44.94" y2="410.61" stroke="#000" stroke-width="1.2"/>
<line x1="307.9" y1="410.61" x2="303.46" y2="410.61" stroke="#000" stroke-width="1.2"/>
<rect x="40.5" y="355.4" width="267.4" height="153" fill="none" stroke="#000" stroke-width="1.2"/>
<line x1="40.5" y1="413.5" x2="307.9" y2="413.5" stroke="#000" stroke-width="1.2"/>
<line x1="358.51" y1="355.4" x2="358.51" y2="357.62" stroke="#000" stroke-width="1.2"/>
<line x1="358.51" y1="413.5" x2="358.51" y2="411.28" stroke="#000" stroke-width="1.2"/>
<line x1="358.51" y1="413.5" x2="358.51" y2="415.72" stroke="#000" stroke-width="1.2"/>
<line x1="358.51" y1="508.4" x2="358.51" y2="506.18" stroke="#000" stroke-width="1.2"/>
<line x1="369.22" y1="355.4" x2="369.22" y2="357.62" stroke="#000" stroke-width="1.2"/>
<line x1="369.22" y1="413.5" x2="369.22" y2="411.28" stroke="#000" stroke-width="1.2"/>
<line x1="369.22" y1="413.5" x2="369.22" y2="415.72" stroke="#000" stroke-width="1.2"/>
<line x1="369.22" y1="508.4" x2="369.22" y2="506.18" stroke="#000" stroke-width="1.2"/>
<line x1="379.92" y1="355.4" x2="379.92" y2="357.62" stroke="#000" stroke-width="1.2"/>
<line x1="379.92" y1="413.5" x2="379.92" y2="411.28" stroke="#000" stroke-width="1.2"/>
<line x1="379.92" y1="413.5" x2="379.92" y2="415.72" stroke="#000" stroke-width="1.2"/>
<line x1="379.92" y1="508.4" x2="379.92" y2="506.18" stroke="#000" stroke-width="1.2"/>
<line x1="390.63" y1="355.4" x2="390.63" y2="357.62" stroke="#000" stroke-width="1.2"/>
<line x1="390.63" y1="413.5" x2="390.63" y2="411.28" stroke="#000" stroke-width="1.2"/>
<line x1="390.63" y1="413.5" x2="390.63" y2="415.72" stroke="#000" stroke-width="1.2"/>
<line x1="390.63" y1="508.4" x2="390.63" y2="506.18" stroke="#000" stroke-width="1.2"/>
<line x1="401.34" y1="355.4" x2="401.34" y2="359.84" stroke="#000" stroke-width="1.2"/>
<line x1="401.34" y1="413.5" x2="401.34" y2="409.06" stroke="#000" stroke-width="1.2"/>
<line x1="401.34" y1="413.5" x2="401.34" y2="417.94" stroke="#000" stroke-width="1.2"/>
<line x1="401.34" y1="508.4" x2="401.34" y2="503.96" stroke="#000" stroke-width="1.2"/>
<line x1="412.05" y1="355.4" x2="412.05" y2="357.62" stroke="#000" stroke-width="1.2"/>
<line x1="412.05" y1="413.5" x2="412.05" y2="411.28" stroke="#000" stroke-width="1.2"/>
<line x1="412.05" y1="413.5" x2="412.05" y2="415.72" stroke="#000" stroke-width="1.2"/>
<line x1="412.05" y1="508.4" x2="412.05" y2="506.18" stroke="#000" stroke-width="1.2"/>
<line x1="422.76" y1="355.4" x2="422.76" y2="357.62" stroke="#000" stroke-width="1.2"/>
<line x1="422.76" y1="413.5" x2="422.76" y2="411.28" stroke="#000" stroke-width="1.2"/>
<line x1="422.76" y1="413.5" x2="422.76" y2="415.72" stroke="#000" stroke-width="1.2"/>
<line x1="422.76" y1="508.4" x2="422.76" y2="506.18" stroke="#000" stroke-width="1.2"/>
<line x1="433.46" y1="355.4" x2="433.46" y2="357.62" stroke="#000" stroke-width="1.2"/>
<line x1="433.46" y1="413.5" x2="433.46" y2="411.28" stroke="#000" stroke-width="1.2"/>
<line x1="433.46" y1="413.5" x2="433.46" y2="415.72" stroke="#000" stroke-width="1.2"/>
<line x1="433.46" y1="508.4" x2="433.46" y2="506.18" stroke="#000" stroke-width="1.2"/>
<line x1="444.17" y1="355.4" x2="444.17" y2="357.62" stroke="#000" stroke-width="1.2"/>
<line x1="444.17" y1="413.5" x2="444.17" y2="411.28" stroke="#000" stroke-width="1.2"/>
<line x1="444.17" y1="413.5" x2="444.17" y2="415.72" stroke="#000" stroke-width="1.2"/>
<line x1="444.17" y1="508.4" x2="444.17" y2="506.18" stroke="#000" stroke-width="1.2"/>
<line x1="454.88" y1="355.4" x2="454.88" y2="359.84" stroke="#000" stroke-width="1.2"/>
<line x1="454.88" y1="413.5" x2="454.88" y2="409.06" stroke="#000" stroke-width="1.2"/>
<line x1="454.88" y1="413.5" x2="454.88" y2="417.94" stroke="#000" stroke-width="1.2"/>
<line x1="454.88" y1="508.4" x2="454.88" y2="503.96" stroke="#000" stroke-width="1.2"/>
<line x1="465.59" y1="355.4" x2="465.59" y2="357.62" stroke="#000" stroke-width="1.2"/>
<line x1="465.59" y1="413.5" x2="465.59" y2="411.28" stroke="#000" stroke-width="1.2"/>
<line x1="465.59" y1="413.5" x2="465.59" y2="415.72" stroke="#000" stroke-width="1.2"/>
<line x1="465.59" y1="508.4" x2="465.59" y2="506.18" stroke="#000" stroke-width="1.2"/>
<line x1="476.3" y1="355.4" x2="476.3" y2="357.62" stroke="#000" stroke-width="1.2"/>
<line x1="476.3" y1="413.5" x2="476.3" y2="411.28" stroke="#000" stroke-width="1.2"/>
<line x1="476.3" y1="413.5" x2="476.3" y2="415.72" stroke="#000" stroke-width="1.2"/>
<line x1="476.3" y1="508.4" x2="476.3" y2="506.18" stroke="#000" stroke-width="1.2"/>
<line x1="487" y1="355.4" x2="487" y2="357.62" stroke="#000" stroke-width="1.2"/>
<line x1="487" y1="413.5" x2="487" y2="411.28" stroke="#000" stroke-width="1.2"/>
<line x1="487" y1="413.5" x2="487" y2="415.72" stroke="#000" stroke-width="1.2"/>
<line x1="487" y1="508.4" x2="487" y2="506.18" stroke="#000" stroke-width="1.2"/>
<line x1="497.71" y1="355.4" x2="497.71" y2="357.62" stroke="#000" stroke-width="1.2"/>
<line x1="497.71" y1="413.5" x2="497.71" y2="411.28" stroke="#000" stroke-width="1.2"/>
<line x1="497.71" y1="413.5" x2="497.71" y2="415.72" stroke="#000" stroke-width="1.2"/>
<line x1="497.71" y1="508.4" x2="497.71" y2="506.18" stroke="#000" stroke-width="1.2"/>
<line x1="508.42" y1="355.4" x2="508.42" y2="359.84" stroke="#000" stroke-width="1.2"/>
<line x1="508.42" y1="413.5" x2="508.42" y2="409.06" stroke="#000" stroke-width="1.2"/>
<line x1="508.42" y1="413.5" x2="508.42" y2="417.94" stroke="#000" stroke-width="1.2"/>
<line x1="508.42" y1="508.4" x2="508.42" y2="503.96" stroke="#000" stroke-width="1.2"/>
<line x1="519.13" y1="355.4" x2="519.13" y2="357.62" stroke="#000" stroke-width="1.2"/>
<line x1="519.13" y1="413.5" x2="519.13" y2="411.28" stroke="#000" stroke-width="1.2"/>
<line x1="519.13" y1="413.5" x2="519.13" y2="415.72" stroke="#000" stroke-width="1.2"/>
<line x1="519.13" y1="508.4" x2="519.13" y2="506.18" stroke="#000" stroke-width="1.2"/>
<line x1="529.84" y1="355.4" x2="529.84" y2="357.62" stroke="#000" stroke-width="1.2"/>
<line x1="529.84" y1="413.5" x2="529.84" y2="411.28" stroke="#000" stroke-width="1.2"/>
<line x1="529.84" y1="413.5" x2="529.84" y2="415.72" stroke="#000" stroke-width="1.2"/>
<line x1="529.84" y1="508.4" x2="529.84" y2="506.18" stroke="#000" stroke-width="1.2"/>
<line x1="540.54" y1="355.4" x2="540.54" y2="357.62" stroke="#000" stroke-width="1.2"/>
<line x1="540.54" y1="413.5" x2="540.54" y2="411.28" stroke="#000" stroke-width="1.2"/>
<line x1="540.54" y1="413.5" x2="540.54" y2="415.72" stroke="#000" stroke-width="1.2"/>
<line x1="540.54" y1="508.4" x2="540.54" y2="506.18" stroke="#000" stroke-width="1.2"/>
<line x1="551.25" y1="355.4" x2="551.25" y2="357.62" stroke="#000" stroke-width="1.2"/>
<line x1="551.25" y1="413.5" x2="551.25" y2="411.28" stroke="#000" stroke-width="1.2"/>
<line x1="551.25" y1="413.5" x2="551.25" y2="415.72" stroke="#000" stroke-width="1.2"/>
<line x1="551.25" y1="508.4" x2="551.25" y2="506.18" stroke="#000" stroke-width="1.2"/>
<line x1="561.96" y1="355.4" x2="561.96" y2="359.84" stroke="#000" stroke-width="1.2"/>
<line x1="561.96" y1="413.5" x2="561.96" y2="409.06" stroke="#000" stroke-width="1.2"/>
<line x1="561.96" y1="413.5" x2="561.96" y2="417.94" stroke="#000" stroke-width="1.2"/>
<line x1="561.96" y1="508.4" x2="561.96" y2="503.96" stroke="#000" stroke-width="1.2"/>
<line x1="572.67" y1="355.4" x2="572.67" y2="357.62" stroke="#000" stroke-width="1.2"/>
<line x1="572.67" y1="413.5" x2="572.67" y2="411.28" stroke="#000" stroke-width="1.2"/>
<line x1="572.67" y1="413.5" x2="572.67" y2="415.72" stroke="#000" stroke-width="1.2"/>
<line x1="572.67" y1="508.4" x2="572.67" y2="506.18" stroke="#000" stroke-width="1.2"/>
<line x1="583.38" y1="355.4" x2="583.38" y2="357.62" stroke="#000" stroke-width="1.2"/>
<line x1="583.38" y1="413.5" x2="583.38" y2="411.28" stroke="#000" stroke-width="1.2"/>
<line x1="583.38" y1="413.5" x2="583.38" y2="415.72" stroke="#000" stroke-width="1.2"/>
<line x1="583.38" y1="508.4" x2="583.38" y2="506.18" stroke="#000" stroke-width="1.2"/>
<line x1="594.08" y1="355.4" x2="594.08" y2="357.62" stroke="#000" stroke-width="1.2"/>
<line x1="594.08" y1="413.5" x2="594.08" y2="411.28" stroke="#000" stroke-width="1.2"/>
<line x1="594.08" y1="413.5" x2="594.08" y2="415.72" stroke="#000" stroke-width="1.2"/>
<line x1="594.08" y1="508.4" x2="594.08" y2="506.18" stroke="#000" stroke-width="1.2"/>
<line x1="604.79" y1="355.4" x2="604.79" y2="357.62" stroke="#000" stroke-width="1.2"/>
<line x1="604.79" y1="413.5" x2="604.79" y2="411.28" stroke="#000" stroke-width="1.2"/>
<line x1="604.79" y1="413.5" x2="604.79" y2="415.72" stroke="#000" stroke-width="1.2"/>
<line x1="604.79" y1="508.4" x2="604.79" y2="506.18" stroke="#000" stroke-width="1.2"/>
<line x1="347.8" y1="496.54" x2="350.02" y2="496.54" stroke="#000" stroke-width="1.2"/>
<line x1="615.5" y1="496.54" x2="613.28" y2="496.54" stroke="#000" stroke-width="1.2"/>
<line x1="347.8" y1="484.67" x2="352.24" y2="484.67" stroke="#000" stroke-width="1.2"/>
<line x1="615.5" y1="484.67" x2="611.06" y2="484.67" stroke="#000" stroke-width="1.2"/>
<line x1="347.8" y1="472.81" x2="350.02" y2="472.81" stroke="#000" stroke-width="1.2"/>
<line x1="615.5" y1="472.81" x2="613.28" y2="472.81" stroke="#000" stroke-width="1.2"/>
<line x1="347.8" y1="460.95" x2="352.24" y2="460.95" stroke="#000" stroke-width="1.2"/>
<line x1="615.5" y1="460.95" x2="611.06" y2="460.95" stroke="#000" stroke-width="1.2"/>
<line x1="347.8" y1="449.09" x2="350.02" y2="449.09" stroke="#000" stroke-width="1.2"/>
<line x1="615.5" y1="449.09" x2="613.28" y2="449.09" stroke="#000" stroke-width="1.2"/>
<line x1="347.8" y1="437.23" x2="352.24" y2="437.23" stroke="#000" stroke-width="1.2"/>
<line x1="615.5" y1="437.23" x2="611.06" y2="437.23" stroke="#000" stroke-width="1.2"/>
<line x1="347.8" y1="425.36" x2="350.02" y2="425.36" stroke="#000" stroke-width="1.2"/>
<line x1="615.5" y1="425.36" x2="613.28" y2="425.36" stroke="#000" stroke-width="1.2"/>
<line x1="347.8" y1="360.6" x2="352.24" y2="360.6" stroke="#000" stroke-width="1.2"/>
<line x1="615.5" y1="360.6" x2="611.06" y2="360.6" stroke="#000" stroke-width="1.2"/>
<line x1="347.8" y1="365.4" x2="350.02" y2="365.4" stroke="#000" stroke-width="1.2"/>
<line x1="615.5" y1="365.4" x2="613.28" y2="365.4" stroke="#000" stroke-width="1.2"/>
<line x1="347.8" y1="370.2" x2="352.24" y2="370.2" stroke="#000" stroke-width="1.2"/>
<line x1="615.5" y1="370.2" x2="611.06" y2="370.2" stroke="#000" stroke-width="1.2"/>
<line x1="347.8" y1="375" x2="350.02" y2="375" stroke="#000" stroke-width="1.2"/>
<line x1="615.5" y1="375" x2="613.28" y2="375" stroke="#000" stroke-width="1.2"/>
<line x1="347.8" y1="379.8" x2="352.24" y2="379.8" stroke="#000" stroke-width="1.2"/>
<line x1="615.5" y1="379.8" x2="611.06" y2="379.8" stroke="#000" stroke-width="1.2"/>
<line x1="347.8" y1="384.6" x2="350.02" y2="384.6" stroke="#000" stroke-width="1.2"/>
<line x1="615.5" y1="384.6" x2="613.28" y2="384.6" stroke="#000" stroke-width="1.2"/>
<line x1="347.8" y1="389.4" x2="352.24" y2="389.4" stroke="#000" stroke-width="1.2"/>
<line x1="615.5" y1="389.4" x2="611.06" y2="389.4" stroke="#000" stroke-width="1.2"/>
<line x1="347.8" y1="394.2" x2="350.02" y2="394.2" stroke="#000" stroke-width="1.2"/>
<line x1="615.5" y1="394.2" x2="613.28" y2="394.2" stroke="#000" stroke-width="1.2"/>
<line x1="347.8" y1="399" x2="352.24" y2="399" stroke="#000" stroke-width="1.2"/>
<line x1="615.5" y1="399" x2="611.06" y2="399" stroke="#000" stroke-width="1.2"/>
<line x1="347.8" y1="403.8" x2="350.02" y2="403.8" stroke="#000" stroke-width="1.2"/>
<line x1="615.5" y1="403.8" x2="613.28" y2="403.8" stroke="#000" stroke-width="1.2"/>
<line x1="347.8" y1="408.6" x2="352.24" y2="408.6" stroke="#000" stroke-width="1.2"/>
<line x1="615.5" y1="408.6" x2="611.06" y2="408.6" stroke="#000" stroke-width="1.2"/>
<rect x="347.8" y="355.4" width="267.7" height="153" fill="none" stroke="#000" stroke-width="1.2"/>
<line x1="347.8" y1="413.5" x2="615.5" y2="413.5" stroke="#000" stroke-width="1.2"/>
<text x="26.81" y="168.05" font-size="14.06" textLength="29.08" lengthAdjust="spacingAndGlyphs">0.40</text>
<text x="86.46" y="168.05" font-size="14.06" textLength="28.79" lengthAdjust="spacingAndGlyphs">0.42</text>
<text x="145.58" y="168.05" font-size="14.06" textLength="29.07" lengthAdjust="spacingAndGlyphs">0.44</text>
<text x="205.05" y="168.05" font-size="14.06" textLength="29.21" lengthAdjust="spacingAndGlyphs">0.46</text>
<text x="264.51" y="168.05" font-size="14.06" textLength="29.13" lengthAdjust="spacingAndGlyphs">0.48</text>
<text x="18.90" y="149.82" font-size="14.06" textLength="18.78" lengthAdjust="spacingAndGlyphs">−4</text>
<text x="19.50" y="135.25" font-size="14.06" textLength="18.52" lengthAdjust="spacingAndGlyphs">−2</text>
<text x="29.93" y="120.68" font-size="14.06" textLength="7.81" lengthAdjust="spacingAndGlyphs">0</text>
<text x="30.35" y="106.11" font-size="14.06" textLength="7.53" lengthAdjust="spacingAndGlyphs">2</text>
<text x="29.80" y="91.54" font-size="14.06" textLength="7.82" lengthAdjust="spacingAndGlyphs">4</text>
<text x="29.75" y="76.97" font-size="14.06" textLength="8.09" lengthAdjust="spacingAndGlyphs">6</text>
<text x="29.92" y="62.40" font-size="14.06" textLength="7.90" lengthAdjust="spacingAndGlyphs">8</text>
<text x="358.62" y="168.05" font-size="14.06" textLength="28.88" lengthAdjust="spacingAndGlyphs">0.51</text>
<text x="407.35" y="168.05" font-size="14.06" textLength="28.79" lengthAdjust="spacingAndGlyphs">0.52</text>
<text x="455.88" y="168.05" font-size="14.06" textLength="28.97" lengthAdjust="spacingAndGlyphs">0.53</text>
<text x="504.39" y="168.05" font-size="14.06" textLength="29.07" lengthAdjust="spacingAndGlyphs">0.54</text>
<text x="553.28" y="168.05" font-size="14.06" textLength="28.84" lengthAdjust="spacingAndGlyphs">0.55</text>
<text x="601.78" y="168.05" font-size="14.06" textLength="29.21" lengthAdjust="spacingAndGlyphs">0.56</text>
<text x="326.80" y="157.10" font-size="14.06" textLength="18.52" lengthAdjust="spacingAndGlyphs">−2</text>
<text x="326.69" y="133.43" font-size="14.06" textLength="18.61" lengthAdjust="spacingAndGlyphs">−1</text>
<text x="337.23" y="109.75" font-size="14.06" textLength="7.81" lengthAdjust="spacingAndGlyphs">0</text>
<text x="337.69" y="86.08" font-size="14.06" textLength="7.46" lengthAdjust="spacingAndGlyphs">1</text>
<text x="337.65" y="62.40" font-size="14.06" textLength="7.53" lengthAdjust="spacingAndGlyphs">2</text>
<text x="26.82" y="345.70" font-size="14.06" textLength="29.13" lengthAdjust="spacingAndGlyphs">0.58</text>
<text x="86.23" y="345.70" font-size="14.06" textLength="29.08" lengthAdjust="spacingAndGlyphs">0.60</text>
<text x="145.88" y="345.70" font-size="14.06" textLength="28.79" lengthAdjust="spacingAndGlyphs">0.62</text>
<text x="205.01" y="345.70" font-size="14.06" textLength="29.07" lengthAdjust="spacingAndGlyphs">0.64</text>
<text x="264.47" y="345.70" font-size="14.06" textLength="29.21" lengthAdjust="spacingAndGlyphs">0.66</text>
<text x="19.50" y="334.75" font-size="14.06" textLength="18.52" lengthAdjust="spacingAndGlyphs">−2</text>
<text x="19.39" y="311.07" font-size="14.06" textLength="18.61" lengthAdjust="spacingAndGlyphs">−1</text>
<text x="29.93" y="287.40" font-size="14.06" textLength="7.81" lengthAdjust="spacingAndGlyphs">0</text>
<text x="30.39" y="263.73" font-size="14.06" textLength="7.46" lengthAdjust="spacingAndGlyphs">1</text>
<text x="30.35" y="240.05" font-size="14.06" textLength="7.53" lengthAdjust="spacingAndGlyphs">2</text>
<text x="354.71" y="345.70" font-size="14.06" textLength="29.13" lengthAdjust="spacingAndGlyphs">0.68</text>
<text x="395.89" y="345.70" font-size="14.06" textLength="29.08" lengthAdjust="spacingAndGlyphs">0.70</text>
<text x="437.30" y="345.70" font-size="14.06" textLength="28.79" lengthAdjust="spacingAndGlyphs">0.72</text>
<text x="478.19" y="345.70" font-size="14.06" textLength="29.07" lengthAdjust="spacingAndGlyphs">0.74</text>
<text x="519.41" y="345.70" font-size="14.06" textLength="29.21" lengthAdjust="spacingAndGlyphs">0.76</text>
<text x="560.64" y="345.70" font-size="14.06" textLength="29.13" lengthAdjust="spacingAndGlyphs">0.78</text>
<text x="601.81" y="345.70" font-size="14.06" textLength="29.08" lengthAdjust="spacingAndGlyphs">0.80</text>
<text x="326.80" y="334.75" font-size="14.06" textLength="18.52" lengthAdjust="spacingAndGlyphs">−2</text>
<text x="326.69" y="311.07" font-size="14.06" textLength="18.61" lengthAdjust="spacingAndGlyphs">−1</text>
<text x="337.23" y="287.40" font-size="14.06" textLength="7.81" lengthAdjust="spacingAndGlyphs">0</text>
<text x="337.69" y="263.73" font-size="14.06" textLength="7.46" lengthAdjust="spacingAndGlyphs">1</text>
<text x="337.65" y="240.05" font-size="14.06" textLength="7.53" lengthAdjust="spacingAndGlyphs">2</text>
<text x="26.81" y="523.10" font-size="14.06" textLength="29.08" lengthAdjust="spacingAndGlyphs">0.80</text>
<text x="86.46" y="523.10" font-size="14.06" textLength="28.79" lengthAdjust="spacingAndGlyphs">0.82</text>
<text x="145.58" y="523.10" font-size="14.06" textLength="29.07" lengthAdjust="spacingAndGlyphs">0.84</text>
<text x="205.05" y="523.10" font-size="14.06" textLength="29.21" lengthAdjust="spacingAndGlyphs">0.86</text>
<text x="264.51" y="523.10" font-size="14.06" textLength="29.13" lengthAdjust="spacingAndGlyphs">0.88</text>
<text x="19.50" y="512.15" font-size="14.06" textLength="18.52" lengthAdjust="spacingAndGlyphs">−2</text>
<text x="19.39" y="488.42" font-size="14.06" textLength="18.61" lengthAdjust="spacingAndGlyphs">−1</text>
<text x="29.93" y="464.70" font-size="14.06" textLength="7.81" lengthAdjust="spacingAndGlyphs">0</text>
<text x="30.39" y="440.98" font-size="14.06" textLength="7.46" lengthAdjust="spacingAndGlyphs">1</text>
<text x="30.35" y="417.25" font-size="14.06" textLength="7.53" lengthAdjust="spacingAndGlyphs">2</text>
<text x="334.24" y="523.10" font-size="14.06" textLength="28.99" lengthAdjust="spacingAndGlyphs">0.97</text>
<text x="387.66" y="523.10" font-size="14.06" textLength="29.13" lengthAdjust="spacingAndGlyphs">0.98</text>
<text x="441.21" y="523.10" font-size="14.06" textLength="29.16" lengthAdjust="spacingAndGlyphs">0.99</text>
<text x="494.47" y="523.10" font-size="14.06" textLength="29.05" lengthAdjust="spacingAndGlyphs">1.00</text>
<text x="548.19" y="523.10" font-size="14.06" textLength="28.84" lengthAdjust="spacingAndGlyphs">1.01</text>
<text x="601.78" y="523.10" font-size="14.06" textLength="28.75" lengthAdjust="spacingAndGlyphs">1.02</text>
<text x="326.80" y="512.15" font-size="14.06" textLength="18.52" lengthAdjust="spacingAndGlyphs">−2</text>
<text x="326.69" y="488.42" font-size="14.06" textLength="18.61" lengthAdjust="spacingAndGlyphs">−1</text>
<text x="337.23" y="464.70" font-size="14.06" textLength="7.81" lengthAdjust="spacingAndGlyphs">0</text>
<text x="337.69" y="440.98" font-size="14.06" textLength="7.46" lengthAdjust="spacingAndGlyphs">1</text>
<text x="337.65" y="417.25" font-size="14.06" textLength="7.53" lengthAdjust="spacingAndGlyphs">2</text>
<text x="-20.80" y="0" font-size="13.93" textLength="42.46" lengthAdjust="spacingAndGlyphs" transform="translate(10.60,105.40) rotate(-90)">% diff.</text>
<text x="-20.80" y="0" font-size="13.93" textLength="42.46" lengthAdjust="spacingAndGlyphs" transform="translate(11.20,282.85) rotate(-90)">% diff.</text>
<text x="-20.80" y="0" font-size="13.93" textLength="42.46" lengthAdjust="spacingAndGlyphs" transform="translate(10.90,460.35) rotate(-90)">% diff.</text>
<text x="222.34" y="541.40" font-size="13.93" textLength="172.16" lengthAdjust="spacingAndGlyphs">Rest wavelength [micron]</text>
<line x1="72.9" y1="73.3" x2="89.4" y2="73.3" stroke="#4a4a4a" stroke-width="1.45"/>
<line x1="72.9" y1="85.5" x2="89.4" y2="85.5" stroke="#0000ff" stroke-width="1.6"/>
<text x="100.66" y="77.10" font-size="11.61" textLength="146.80" lengthAdjust="spacingAndGlyphs">Data - Single power law fit</text>
<text x="100.66" y="89.50" font-size="11.61" textLength="197.38" lengthAdjust="spacingAndGlyphs">Non-param fit - Single power law fit</text>
</svg></body></html>
